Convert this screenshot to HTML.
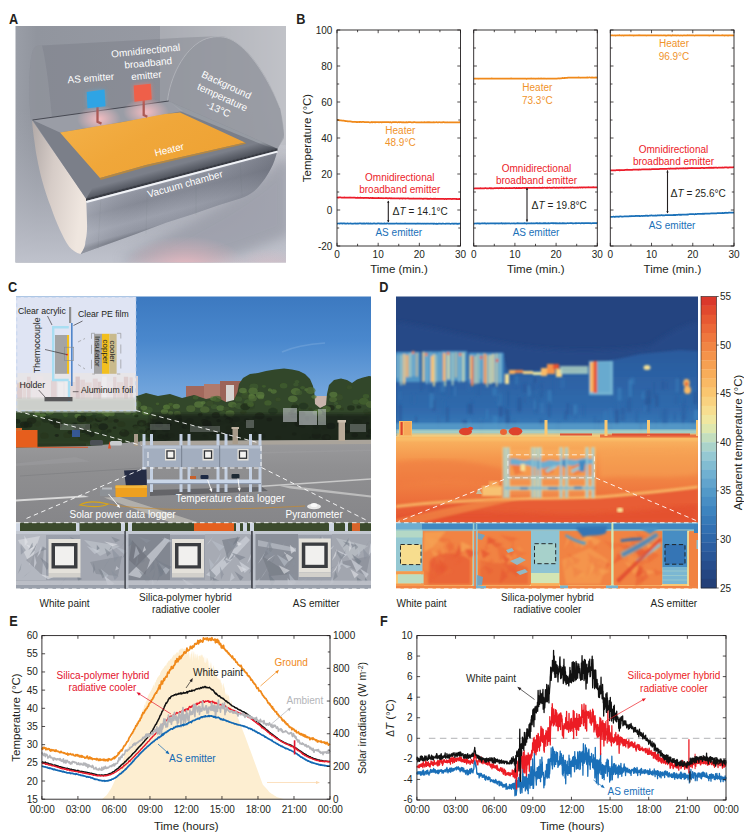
<!DOCTYPE html>
<html><head><meta charset="utf-8"><title>Figure</title><style>
html,body{margin:0;padding:0;background:#fff;}
body{width:744px;height:836px;overflow:hidden;}
svg{display:block;}
text{font-family:"Liberation Sans",sans-serif;}
.t{font-size:10px;fill:#231f20;}
.a{font-size:11.5px;fill:#231f20;}
.l{font-size:10px;}
.w{font-size:10px;fill:#fff;}
.p{font-size:15.5px;font-weight:bold;fill:#231f20;}
</style></head><body>
<svg width="744" height="836" viewBox="0 0 744 836">
<rect width="744" height="836" fill="#fff"/>
<g id="A">
<defs>
<clipPath id="cA"><rect x="15.5" y="26" width="270.5" height="236.5"/></clipPath>
<linearGradient id="aBg" x1="0" y1="0" x2="1" y2="0"><stop offset="0" stop-color="#9a9ea7"/><stop offset="0.08" stop-color="#91959e"/><stop offset="0.55" stop-color="#979aa3"/><stop offset="0.8" stop-color="#b3b5bc"/><stop offset="1" stop-color="#c9cad0"/></linearGradient>
<linearGradient id="aFl" x1="0" y1="0" x2="0" y2="1"><stop offset="0" stop-color="#a9acb6" stop-opacity="0"/><stop offset="1" stop-color="#bfc2cc"/></linearGradient>
<linearGradient id="aBody" gradientUnits="userSpaceOnUse" x1="180" y1="175" x2="192" y2="221"><stop offset="0" stop-color="#b4b8c3"/><stop offset="0.1" stop-color="#9195a1"/><stop offset="0.35" stop-color="#858995"/><stop offset="0.7" stop-color="#9ca0ac"/><stop offset="0.9" stop-color="#9195a1"/><stop offset="1" stop-color="#70747f"/></linearGradient>
<linearGradient id="aBody2" gradientUnits="userSpaceOnUse" x1="86" y1="0" x2="278" y2="0"><stop offset="0" stop-color="#c8ccd6" stop-opacity="0.35"/><stop offset="0.3" stop-color="#9a9eaa" stop-opacity="0"/><stop offset="1" stop-color="#4d515c" stop-opacity="0.4"/></linearGradient>
<linearGradient id="aCap" x1="0" y1="0" x2="1" y2="0.3"><stop offset="0" stop-color="#b1a9a7"/><stop offset="0.45" stop-color="#d6ccc7"/><stop offset="1" stop-color="#efe6df"/></linearGradient>
<linearGradient id="aHeat" x1="0" y1="0" x2="1" y2="0.6"><stop offset="0" stop-color="#f4b24a"/><stop offset="0.5" stop-color="#f0a73a"/><stop offset="1" stop-color="#eea233"/></linearGradient>
<linearGradient id="aFront" gradientUnits="userSpaceOnUse" x1="180" y1="164" x2="183" y2="175"><stop offset="0" stop-color="#40444d" stop-opacity="0"/><stop offset="1" stop-color="#40444d" stop-opacity="0.85"/></linearGradient>
<radialGradient id="aPink" cx="0.5" cy="0.5" r="0.5"><stop offset="0" stop-color="#ffc0c4" stop-opacity="0.9"/><stop offset="1" stop-color="#ffc0c4" stop-opacity="0"/></radialGradient>
<radialGradient id="aPink2" cx="0.5" cy="0.5" r="0.5"><stop offset="0" stop-color="#f5b9c0" stop-opacity="0.75"/><stop offset="1" stop-color="#f5b9c0" stop-opacity="0"/></radialGradient>
<filter id="aBl2" x="-20%" y="-20%" width="140%" height="140%"><feGaussianBlur stdDeviation="2"/></filter>
<filter id="aBl5" x="-20%" y="-20%" width="140%" height="140%"><feGaussianBlur stdDeviation="6"/></filter>
</defs>
<g clip-path="url(#cA)">
<rect x="15" y="25" width="272" height="238" fill="url(#aBg)"/>
<rect x="15" y="110" width="272" height="153" fill="url(#aFl)"/>
<rect x="160" y="25" width="130" height="120" fill="#b9bbc1" opacity="0.55"/>
<path d="M120 262 C150 240 240 205 280 160 L290 160 L290 235 C250 250 220 262 200 262Z" fill="#8f929e" opacity="0.6" filter="url(#aBl5)"/>
<ellipse cx="185" cy="266" rx="62" ry="30" fill="url(#aPink2)"/><ellipse cx="270" cy="268" rx="40" ry="20" fill="url(#aPink2)" opacity="0.5"/>
<path d="M31 120 C28 95 29 62 33 50 C35 46 38 45.5 42 45.5 L186 37.5 L222 36 C245 40 268 75 280 108 L284 135 L277.5 149 L168.7 101Z" fill="#6d717a" opacity="0.3"/>
<path d="M167.5 101 C170 78 183 50 203 40 C212 36 222 35.5 230 39 C250 48 270 82 280 108 C283 120 284 130 284 138 L277.5 149Z" fill="#93969e"opacity="0.6"/>
<path d="M167.5 101 C170 78 183 50 203 40 C212 36 222 35.5 230 39 C250 48 270 82 280 108" fill="none" stroke="#c3c5cb" stroke-width="0.8" opacity="0.7"/>
<path d="M31 120 C28 95 29 62 33 50 C35 46 38 45.5 42 45.5 C46 60 50 95 52 118Z" fill="#a0a3ab" opacity="0.35"/>
<path d="M86.2 198.7 L277.5 149.5 L277.3 151 C275.5 158 273.5 164 270.8 168.7 C268.5 173 266 177.5 262.8 181.6 C260 185.5 257 189 253 192 C249 195 245 197 240.2 198.5 L219.2 205 L193.4 213.9 L166 222.7 L136 234 L80.5 254 C84 249 85.5 245 85.3 242 C87 235 87.3 228 87 222.6 Z" fill="url(#aBody)"/>
<path d="M86.2 198.7 L277.5 149.5 L277.3 151 C275.5 158 273.5 164 270.8 168.7 C268.5 173 266 177.5 262.8 181.6 C260 185.5 257 189 253 192 C249 195 245 197 240.2 198.5 L219.2 205 L193.4 213.9 L166 222.7 L136 234 L80.5 254 C84 249 85.5 245 85.3 242 C87 235 87.3 228 87 222.6 Z" fill="url(#aBody2)"/>
<path d="M101 195.5 L98 249 M147.5 183.5 L146 233.5 M196 171 L196 215 M240 159.5 L242 196" stroke="#5c606a" stroke-width="0.8" opacity="0.1" fill="none"/>
<path d="M32 120.3 C32.5 128 33.5 135 34.5 142 C35.3 148 36 153 37 158 C38.5 166 40.3 174 42.6 182.3 C44.8 190 47.5 198.5 50.7 206.5 C53.3 214 56.3 222 59.5 229 C62.3 235 65.5 241.5 69.2 246.8 C72.5 250.5 76 253 80.5 254 C84 249 85.5 245 85.3 242 C87 235 87.3 228 87 222.6 L86.2 198.5 Z" fill="url(#aCap)"/>
<path d="M32.5 120 L168.7 101 L277.5 148.7 L86 198.7 Z" fill="#7b7f89"/>
<path d="M32.5 120 L168.7 101 L183 111 L128 121 L60 132.5Z" fill="#a4a7b0" opacity="0.75"/>
<path d="M168.7 101 L277.5 148.7 L266 146 L181 111.5Z" fill="#a3a6ae" opacity="0.7"/>
<path d="M32.5 120 L168.7 101" stroke="#3e4149" stroke-width="0.9" fill="none"/>
<path d="M86.2 198.7 L277.5 148.7 L262 142 L93 187Z" fill="url(#aFront)"/>
<path d="M86 198.4 L277.5 148.4 L277.5 150.6 L86 201Z" fill="#393c44"/>
<path d="M86.3 202 L277.5 151.6" stroke="#f2f4f8" stroke-width="2" fill="none"/>
<ellipse cx="99" cy="119" rx="22" ry="14" fill="url(#aPink)"/>
<ellipse cx="146" cy="112" rx="23" ry="14" fill="url(#aPink)"/>
<path d="M60 132.5 L120 122.5 L128 121 L165 114 L180 112.5 L245 142.5 L146 165 L100 178 Z" fill="url(#aHeat)"/>
<path d="M100 178 L146 165 L245 142.5 L246 143.8 L147 166.8 L100.5 180Z" fill="#c98a2a" opacity="0.7"/>
<path d="M97.5 107 L97.5 121.8 L101.5 123.6" stroke="#ad5a55" stroke-width="2.3" fill="none"/>
<path d="M143.7 100 L143.7 115 L147.3 116.8" stroke="#ad5a55" stroke-width="2.3" fill="none"/>
<path d="M86.7 92 L104.5 89.5 L105.5 106.2 L87.5 108.2Z" fill="#46b4f0" opacity="0.55" filter="url(#aBl2)"/>
<path d="M86.7 92 L104.5 89.5 L105.5 106.2 L87.5 108.2Z" fill="#2fa4e4"/>
<path d="M133.7 85.5 L150.7 83.7 L151.7 99.5 L134.5 101.7Z" fill="#ff7a66" opacity="0.7" filter="url(#aBl2)"/>
<path d="M133.7 85.5 L150.7 83.7 L151.7 99.5 L134.5 101.7Z" fill="#ef5f49"/>
<text class="w" text-anchor="middle" transform="translate(91 81.5) rotate(-4.5)">AS emitter</text>
<text class="w" text-anchor="middle" transform="translate(146 54) rotate(-5.8)">Omnidirectional</text>
<text class="w" text-anchor="middle" transform="translate(148.5 66.3) rotate(-5.3)">broadband</text>
<text class="w" text-anchor="middle" transform="translate(146.7 78.8) rotate(-5.3)">emitter</text>
<text class="w" text-anchor="middle" transform="translate(225 88) rotate(25)">Background</text>
<text class="w" text-anchor="middle" transform="translate(221 100.3) rotate(24.5)">temperature</text>
<text class="w" text-anchor="middle" transform="translate(217 112.3) rotate(24)">-13°C</text>
<text class="w" text-anchor="middle" transform="translate(170 153) rotate(-13.5)">Heater</text>
<text class="w" text-anchor="middle" transform="translate(186 187.3) rotate(-15.5)">Vacuum chamber</text>
</g></g>
<g id="B">
<polyline points="337,119.99 337.67,119.97 338.34,120.24 339,120.14 339.67,120.33 340.34,120.41 341.01,120.3 341.67,120.53 342.34,120.63 343.01,120.63 343.68,120.67 344.34,120.85 345.01,120.86 345.68,121.07 346.35,121.09 347.01,121.16 347.68,121.31 348.35,121.4 349.02,121.48 349.68,121.42 350.35,121.49 351.02,121.57 351.69,121.61 352.35,121.8 353.02,121.76 353.69,121.78 354.36,121.75 355.02,121.91 355.69,121.88 356.36,122.04 357.03,121.92 357.69,122.09 358.36,122.03 359.03,121.82 359.7,122.13 360.36,121.88 361.03,121.94 361.7,122.01 362.37,121.95 363.04,121.96 363.7,121.93 364.37,122.06 365.04,122.11 365.71,122.12 366.37,122.17 367.04,122.1 367.71,122.18 368.38,122.03 369.04,122.31 369.71,122.25 370.38,122.25 371.05,122.35 371.71,121.99 372.38,122.38 373.05,122.19 373.72,122.21 374.38,122.02 375.05,122.35 375.72,122.08 376.39,122.24 377.05,122.19 377.72,122.24 378.39,122.12 379.06,122.28 379.72,122.19 380.39,122.15 381.06,122.02 381.73,122.4 382.39,122.05 383.06,122.1 383.73,122.23 384.4,122.16 385.06,122.23 385.73,122.04 386.4,122.17 387.07,122.21 387.74,122.22 388.4,122.21 389.07,122.21 389.74,122.28 390.41,122.02 391.07,122.37 391.74,122.53 392.41,122.22 393.08,122.22 393.74,122.17 394.41,122.23 395.08,122.22 395.75,122.18 396.41,122.13 397.08,122.25 397.75,122.25 398.42,122.04 399.08,122.17 399.75,122.31 400.42,122.01 401.09,122.15 401.75,122.28 402.42,122.33 403.09,122.2 403.76,122.3 404.42,122.32 405.09,122.35 405.76,122.28 406.43,122.13 407.09,122.27 407.76,122.37 408.43,122.18 409.1,122.23 409.76,122.16 410.43,122.13 411.1,122.26 411.77,122.26 412.44,122.25 413.1,122.35 413.77,122.19 414.44,122.12 415.11,122.23 415.77,122.27 416.44,122.28 417.11,122.32 417.78,122.33 418.44,122.29 419.11,122.33 419.78,122.3 420.45,122.4 421.11,122.23 421.78,122.26 422.45,122.37 423.12,122.47 423.78,122.27 424.45,122.17 425.12,122.34 425.79,122.31 426.45,122.32 427.12,122.21 427.79,122.36 428.46,122.19 429.12,122.3 429.79,122.2 430.46,122.28 431.13,122.3 431.79,122.42 432.46,122.35 433.13,122.31 433.8,122.23 434.46,122.27 435.13,122.35 435.8,122.25 436.47,122.2 437.14,122.31 437.8,122.33 438.47,122.33 439.14,122.22 439.81,122.25 440.47,122.38 441.14,122.27 441.81,122.35 442.48,122.37 443.14,122.19 443.81,122.23 444.48,122.37 445.15,122.3 445.81,122.27 446.48,122.37 447.15,122.32 447.82,122.25 448.48,122.48 449.15,122.29 449.82,122.25 450.49,122.27 451.15,122.44 451.82,122.29 452.49,122.4 453.16,122.27 453.82,122.27 454.49,122.31 455.16,122.4 455.83,122.38 456.49,122.26 457.16,122.41 457.83,122.29 458.5,122.29 459.16,122.36 459.83,122.12 460.5,122.33" fill="none" stroke="#f0891a" stroke-width="1.75" stroke-linejoin="round"/>
<polyline points="337,197.21 337.67,197.59 338.34,197.63 339,197.35 339.67,197.39 340.34,197.49 341.01,197.47 341.67,197.65 342.34,197.55 343.01,197.6 343.68,197.54 344.34,197.45 345.01,197.54 345.68,197.52 346.35,197.63 347.01,197.61 347.68,197.58 348.35,197.62 349.02,197.5 349.68,197.7 350.35,197.46 351.02,197.73 351.69,197.56 352.35,197.74 353.02,197.53 353.69,197.68 354.36,197.67 355.02,197.65 355.69,197.78 356.36,197.83 357.03,197.93 357.69,197.65 358.36,197.84 359.03,197.84 359.7,197.8 360.36,197.63 361.03,197.98 361.7,197.81 362.37,197.88 363.04,197.81 363.7,198.03 364.37,197.91 365.04,197.81 365.71,197.76 366.37,197.77 367.04,198 367.71,197.93 368.38,197.96 369.04,198.08 369.71,198.1 370.38,197.92 371.05,197.97 371.71,198.02 372.38,197.91 373.05,198.12 373.72,197.99 374.38,198.05 375.05,198.07 375.72,198.03 376.39,198.07 377.05,198.08 377.72,198.09 378.39,197.95 379.06,198.16 379.72,198.05 380.39,198.09 381.06,198.19 381.73,198.1 382.39,198.25 383.06,198.08 383.73,198.27 384.4,198.25 385.06,198.18 385.73,198.14 386.4,198.15 387.07,198.16 387.74,198.26 388.4,198.34 389.07,198.21 389.74,198.24 390.41,198.37 391.07,198.2 391.74,198.28 392.41,198.39 393.08,198.28 393.74,198.44 394.41,198.41 395.08,198.31 395.75,198.49 396.41,198.36 397.08,198.49 397.75,198.31 398.42,198.45 399.08,198.38 399.75,198.54 400.42,198.44 401.09,198.34 401.75,198.39 402.42,198.6 403.09,198.36 403.76,198.38 404.42,198.5 405.09,198.35 405.76,198.58 406.43,198.5 407.09,198.4 407.76,198.39 408.43,198.4 409.1,198.62 409.76,198.69 410.43,198.51 411.1,198.68 411.77,198.57 412.44,198.68 413.1,198.48 413.77,198.51 414.44,198.55 415.11,198.6 415.77,198.61 416.44,198.65 417.11,198.6 417.78,198.62 418.44,198.61 419.11,198.7 419.78,198.49 420.45,198.64 421.11,198.55 421.78,198.56 422.45,198.77 423.12,198.84 423.78,198.59 424.45,198.74 425.12,198.7 425.79,198.74 426.45,198.71 427.12,198.84 427.79,198.74 428.46,198.78 429.12,198.75 429.79,198.96 430.46,198.68 431.13,198.73 431.79,198.92 432.46,198.84 433.13,198.78 433.8,198.73 434.46,198.79 435.13,198.67 435.8,198.8 436.47,198.9 437.14,198.88 437.8,198.75 438.47,198.88 439.14,198.76 439.81,198.75 440.47,198.79 441.14,198.76 441.81,198.87 442.48,198.86 443.14,198.92 443.81,198.93 444.48,199.02 445.15,198.94 445.81,198.99 446.48,199.03 447.15,198.89 447.82,198.87 448.48,198.95 449.15,198.8 449.82,198.84 450.49,198.84 451.15,198.99 451.82,199.08 452.49,198.9 453.16,198.93 453.82,198.9 454.49,198.93 455.16,198.86 455.83,199.01 456.49,198.92 457.16,199.07 457.83,199.2 458.5,199.04 459.16,198.87 459.83,199.17 460.5,198.93" fill="none" stroke="#ec1c2a" stroke-width="1.75" stroke-linejoin="round"/>
<polyline points="337,223.56 337.67,223.54 338.34,223.5 339,223.48 339.67,223.59 340.34,223.49 341.01,223.47 341.67,223.43 342.34,223.58 343.01,223.37 343.68,223.34 344.34,223.29 345.01,223.63 345.68,223.5 346.35,223.68 347.01,223.48 347.68,223.47 348.35,223.62 349.02,223.66 349.68,223.5 350.35,223.46 351.02,223.59 351.69,223.54 352.35,223.75 353.02,223.59 353.69,223.51 354.36,223.51 355.02,223.38 355.69,223.63 356.36,223.73 357.03,223.49 357.69,223.58 358.36,223.51 359.03,223.47 359.7,223.48 360.36,223.4 361.03,223.41 361.7,223.69 362.37,223.54 363.04,223.36 363.7,223.58 364.37,223.45 365.04,223.55 365.71,223.58 366.37,223.4 367.04,223.45 367.71,223.57 368.38,223.46 369.04,223.66 369.71,223.61 370.38,223.47 371.05,223.55 371.71,223.65 372.38,223.51 373.05,223.52 373.72,223.44 374.38,223.47 375.05,223.58 375.72,223.6 376.39,223.57 377.05,223.58 377.72,223.43 378.39,223.42 379.06,223.44 379.72,223.53 380.39,223.59 381.06,223.48 381.73,223.6 382.39,223.54 383.06,223.72 383.73,223.61 384.4,223.44 385.06,223.66 385.73,223.71 386.4,223.59 387.07,223.42 387.74,223.44 388.4,223.61 389.07,223.62 389.74,223.59 390.41,223.66 391.07,223.58 391.74,223.61 392.41,223.71 393.08,223.63 393.74,223.61 394.41,223.66 395.08,223.69 395.75,223.5 396.41,223.42 397.08,223.61 397.75,223.63 398.42,223.54 399.08,223.61 399.75,223.66 400.42,223.47 401.09,223.69 401.75,223.66 402.42,223.66 403.09,223.68 403.76,223.62 404.42,223.55 405.09,223.47 405.76,223.54 406.43,223.6 407.09,223.71 407.76,223.61 408.43,223.69 409.1,223.61 409.76,223.52 410.43,223.59 411.1,223.63 411.77,223.68 412.44,223.61 413.1,223.6 413.77,223.7 414.44,223.66 415.11,223.53 415.77,223.76 416.44,223.66 417.11,223.72 417.78,223.48 418.44,223.56 419.11,223.57 419.78,223.58 420.45,223.6 421.11,223.6 421.78,223.77 422.45,223.6 423.12,223.57 423.78,223.76 424.45,223.55 425.12,223.57 425.79,223.77 426.45,223.67 427.12,223.66 427.79,223.68 428.46,223.6 429.12,223.75 429.79,223.66 430.46,223.62 431.13,223.57 431.79,223.63 432.46,223.66 433.13,223.58 433.8,223.82 434.46,223.56 435.13,223.67 435.8,223.76 436.47,223.68 437.14,223.81 437.8,223.83 438.47,223.68 439.14,223.72 439.81,223.58 440.47,223.73 441.14,223.77 441.81,223.74 442.48,223.5 443.14,223.65 443.81,223.71 444.48,223.75 445.15,223.76 445.81,223.67 446.48,223.62 447.15,223.56 447.82,223.56 448.48,223.64 449.15,223.72 449.82,223.74 450.49,223.87 451.15,223.76 451.82,223.63 452.49,223.7 453.16,223.64 453.82,223.79 454.49,223.59 455.16,223.65 455.83,223.67 456.49,223.64 457.16,223.88 457.83,223.73 458.5,223.76 459.16,223.51 459.83,223.7 460.5,223.73" fill="none" stroke="#1a70b8" stroke-width="1.75" stroke-linejoin="round"/>
<rect x="337" y="30" width="123.5" height="216" fill="none" stroke="#231f20" stroke-width="0.9"/>
<path d="M337 246v-3.2 M337 30v3.2 M357.58 246v-2.2 M357.58 30v2.2 M378.17 246v-3.2 M378.17 30v3.2 M398.75 246v-2.2 M398.75 30v2.2 M419.33 246v-3.2 M419.33 30v3.2 M439.92 246v-2.2 M439.92 30v2.2 M460.5 246v-3.2 M460.5 30v3.2 M337 246h3.2 M460.5 246h-3.2 M337 228h2.2 M460.5 228h-2.2 M337 210h3.2 M460.5 210h-3.2 M337 192h2.2 M460.5 192h-2.2 M337 174h3.2 M460.5 174h-3.2 M337 156h2.2 M460.5 156h-2.2 M337 138h3.2 M460.5 138h-3.2 M337 120h2.2 M460.5 120h-2.2 M337 102h3.2 M460.5 102h-3.2 M337 84h2.2 M460.5 84h-2.2 M337 66h3.2 M460.5 66h-3.2 M337 48h2.2 M460.5 48h-2.2 M337 30h3.2 M460.5 30h-3.2 " stroke="#231f20" stroke-width="0.8" fill="none"/>
<text class="t" x="337" y="258.3" text-anchor="middle">0</text><text class="t" x="378.17" y="258.3" text-anchor="middle">10</text><text class="t" x="419.33" y="258.3" text-anchor="middle">20</text><text class="t" x="460.5" y="258.3" text-anchor="middle">30</text><text class="a" x="399.05" y="272.6" text-anchor="middle">Time (min.)</text>
<text class="l" fill="#f0932b" text-anchor="middle"><tspan x="400.3" y="133.5">Heater</tspan><tspan x="400.3" y="145.5">48.9°C</tspan></text>
<text class="l" fill="#ec1c2a" text-anchor="middle"><tspan x="399.8" y="181">Omnidirectional</tspan><tspan x="399.8" y="193.3">broadband emitter</tspan></text>
<text class="l" fill="#1a70b8" text-anchor="middle" x="398.8" y="235.5">AS emitter</text>
<text class="l" fill="#231f20" x="392.5" y="214.8"><tspan font-size="10.5px">Δ</tspan><tspan font-style="italic">T</tspan> = 14.1°C</text>
<path d="M388.3 200.9V222.1" stroke="#231f20" stroke-width="1.1" fill="none"/><path d="M388.3 200.4l-1.1 2.6h2.2z M388.3 222.6l-1.1 -2.6h2.2z" fill="#231f20"/>
<polyline points="473.7,78.52 474.37,78.69 475.04,78.47 475.7,78.66 476.37,78.61 477.04,78.68 477.71,78.53 478.38,78.8 479.04,78.54 479.71,78.67 480.38,78.6 481.05,78.7 481.72,78.58 482.39,78.58 483.05,78.55 483.72,78.57 484.39,78.54 485.06,78.51 485.73,78.64 486.39,78.71 487.06,78.71 487.73,78.54 488.4,78.63 489.07,78.51 489.73,78.6 490.4,78.69 491.07,78.52 491.74,78.43 492.41,78.62 493.08,78.68 493.74,78.68 494.41,78.52 495.08,78.65 495.75,78.64 496.42,78.54 497.08,78.6 497.75,78.59 498.42,78.65 499.09,78.66 499.76,78.59 500.42,78.59 501.09,78.55 501.76,78.64 502.43,78.57 503.1,78.56 503.76,78.59 504.43,78.55 505.1,78.51 505.77,78.58 506.44,78.59 507.11,78.69 507.77,78.57 508.44,78.61 509.11,78.63 509.78,78.67 510.45,78.55 511.11,78.37 511.78,78.56 512.45,78.59 513.12,78.56 513.79,78.65 514.45,78.59 515.12,78.66 515.79,78.66 516.46,78.58 517.13,78.58 517.8,78.61 518.46,78.67 519.13,78.58 519.8,78.7 520.47,78.53 521.14,78.63 521.8,78.6 522.47,78.53 523.14,78.55 523.81,78.72 524.48,78.62 525.14,78.57 525.81,78.7 526.48,78.82 527.15,78.61 527.82,78.6 528.48,78.56 529.15,78.59 529.82,78.59 530.49,78.58 531.16,78.48 531.83,78.56 532.49,78.55 533.16,78.64 533.83,78.5 534.5,78.62 535.17,78.53 535.83,78.79 536.5,78.58 537.17,78.61 537.84,78.64 538.51,78.48 539.17,78.56 539.84,78.61 540.51,78.65 541.18,78.43 541.85,78.53 542.52,78.54 543.18,78.67 543.85,78.48 544.52,78.55 545.19,78.62 545.86,78.61 546.52,78.75 547.19,78.54 547.86,78.7 548.53,78.52 549.2,78.64 549.86,78.66 550.53,78.57 551.2,78.58 551.87,78.7 552.54,78.61 553.2,78.55 553.87,78.62 554.54,78.72 555.21,78.62 555.88,78.69 556.55,78.62 557.21,78.51 557.88,78.48 558.55,78.44 559.22,78.52 559.89,78.29 560.55,78.29 561.22,78.26 561.89,78.16 562.56,77.96 563.23,78.2 563.89,78.18 564.56,77.92 565.23,78.01 565.9,77.77 566.57,77.93 567.24,77.83 567.9,77.67 568.57,77.62 569.24,77.66 569.91,77.65 570.58,77.7 571.24,77.72 571.91,77.7 572.58,77.56 573.25,77.61 573.92,77.66 574.58,77.63 575.25,77.58 575.92,77.55 576.59,77.66 577.26,77.65 577.92,77.61 578.59,77.4 579.26,77.61 579.93,77.51 580.6,77.76 581.27,77.54 581.93,77.74 582.6,77.71 583.27,77.66 583.94,77.62 584.61,77.58 585.27,77.56 585.94,77.57 586.61,77.63 587.28,77.35 587.95,77.54 588.61,77.51 589.28,77.39 589.95,77.48 590.62,77.51 591.29,77.53 591.96,77.39 592.62,77.65 593.29,77.63 593.96,77.53 594.63,77.72 595.3,77.6 595.96,77.43 596.63,77.57 597.3,77.51" fill="none" stroke="#f0891a" stroke-width="1.75" stroke-linejoin="round"/>
<polyline points="473.7,188.34 474.37,188.5 475.04,188.36 475.7,188.44 476.37,188.47 477.04,188.4 477.71,188.37 478.38,188.39 479.04,188.41 479.71,188.26 480.38,188.24 481.05,188.29 481.72,188.34 482.39,188.42 483.05,188.39 483.72,188.41 484.39,188.29 485.06,188.22 485.73,188.21 486.39,188.29 487.06,188.32 487.73,188.26 488.4,188.26 489.07,188.21 489.73,188.13 490.4,188.31 491.07,188.06 491.74,188.43 492.41,188.4 493.08,188.37 493.74,188.32 494.41,188.24 495.08,188.03 495.75,188.27 496.42,188.1 497.08,188.23 497.75,188.18 498.42,188.28 499.09,187.98 499.76,188.18 500.42,188.22 501.09,187.96 501.76,188.14 502.43,188.11 503.1,188.16 503.76,188.21 504.43,188.26 505.1,188.14 505.77,187.98 506.44,188.08 507.11,188.12 507.77,188.01 508.44,188.18 509.11,187.97 509.78,188.09 510.45,188.15 511.11,188.01 511.78,188.02 512.45,188.09 513.12,188.04 513.79,187.96 514.45,187.92 515.12,188.11 515.79,188.27 516.46,187.84 517.13,188.04 517.8,188.05 518.46,187.97 519.13,188.04 519.8,187.9 520.47,188.1 521.14,188 521.8,188.09 522.47,187.84 523.14,187.99 523.81,187.86 524.48,187.83 525.14,188.06 525.81,187.96 526.48,187.87 527.15,187.93 527.82,187.94 528.48,187.85 529.15,187.83 529.82,187.96 530.49,187.92 531.16,187.84 531.83,187.87 532.49,187.87 533.16,187.98 533.83,187.72 534.5,187.89 535.17,187.84 535.83,187.86 536.5,187.85 537.17,187.83 537.84,187.91 538.51,187.8 539.17,187.72 539.84,187.79 540.51,187.75 541.18,187.77 541.85,187.8 542.52,187.64 543.18,187.85 543.85,187.75 544.52,187.69 545.19,187.75 545.86,187.86 546.52,187.86 547.19,187.62 547.86,187.84 548.53,187.75 549.2,187.69 549.86,187.73 550.53,187.89 551.2,187.89 551.87,187.73 552.54,187.78 553.2,187.73 553.87,187.69 554.54,187.68 555.21,187.81 555.88,187.83 556.55,187.59 557.21,187.73 557.88,187.77 558.55,187.84 559.22,187.6 559.89,187.76 560.55,187.73 561.22,187.58 561.89,187.6 562.56,187.57 563.23,187.73 563.89,187.87 564.56,187.69 565.23,187.63 565.9,187.65 566.57,187.51 567.24,187.55 567.9,187.67 568.57,187.52 569.24,187.58 569.91,187.6 570.58,187.45 571.24,187.7 571.91,187.45 572.58,187.44 573.25,187.71 573.92,187.54 574.58,187.53 575.25,187.61 575.92,187.56 576.59,187.57 577.26,187.49 577.92,187.54 578.59,187.68 579.26,187.37 579.93,187.39 580.6,187.54 581.27,187.38 581.93,187.27 582.6,187.59 583.27,187.48 583.94,187.48 584.61,187.38 585.27,187.45 585.94,187.54 586.61,187.3 587.28,187.44 587.95,187.34 588.61,187.19 589.28,187.46 589.95,187.42 590.62,187.3 591.29,187.38 591.96,187.32 592.62,187.36 593.29,187.1 593.96,187.29 594.63,187.31 595.3,187.33 595.96,187.3 596.63,187.47 597.3,187.34" fill="none" stroke="#ec1c2a" stroke-width="1.75" stroke-linejoin="round"/>
<polyline points="473.7,223.43 474.37,223.61 475.04,223.49 475.7,223.5 476.37,223.54 477.04,223.27 477.71,223.42 478.38,223.46 479.04,223.56 479.71,223.47 480.38,223.51 481.05,223.49 481.72,223.46 482.39,223.25 483.05,223.35 483.72,223.32 484.39,223.35 485.06,223.21 485.73,223.52 486.39,223.58 487.06,223.44 487.73,223.44 488.4,223.45 489.07,223.51 489.73,223.39 490.4,223.3 491.07,223.43 491.74,223.47 492.41,223.34 493.08,223.47 493.74,223.47 494.41,223.41 495.08,223.64 495.75,223.27 496.42,223.44 497.08,223.39 497.75,223.4 498.42,223.39 499.09,223.55 499.76,223.26 500.42,223.37 501.09,223.39 501.76,223.13 502.43,223.53 503.1,223.35 503.76,223.42 504.43,223.55 505.1,223.23 505.77,223.55 506.44,223.39 507.11,223.41 507.77,223.38 508.44,223.48 509.11,223.27 509.78,223.37 510.45,223.51 511.11,223.5 511.78,223.36 512.45,223.49 513.12,223.35 513.79,223.35 514.45,223.43 515.12,223.55 515.79,223.49 516.46,223.34 517.13,223.42 517.8,223.2 518.46,223.41 519.13,223.33 519.8,223.3 520.47,223.36 521.14,223.33 521.8,223.27 522.47,223.37 523.14,223.33 523.81,223.39 524.48,223.17 525.14,223.33 525.81,223.27 526.48,223.61 527.15,223.39 527.82,223.44 528.48,223.34 529.15,223.38 529.82,223.43 530.49,223.36 531.16,223.26 531.83,223.23 532.49,223.38 533.16,223.23 533.83,223.38 534.5,223.27 535.17,223.4 535.83,223.22 536.5,223.11 537.17,223.34 537.84,223.2 538.51,223.44 539.17,223.37 539.84,223.07 540.51,223.31 541.18,223.26 541.85,223.45 542.52,223.3 543.18,223.37 543.85,223.19 544.52,223.34 545.19,223.06 545.86,223.39 546.52,223.26 547.19,223.47 547.86,223.32 548.53,223.17 549.2,223.29 549.86,223.39 550.53,223.23 551.2,223.19 551.87,223.23 552.54,223.18 553.2,223.4 553.87,223.1 554.54,223.2 555.21,223.45 555.88,223.09 556.55,223.3 557.21,223.21 557.88,223.43 558.55,223.31 559.22,223.42 559.89,223.17 560.55,223.27 561.22,223.33 561.89,223.28 562.56,223.14 563.23,223.31 563.89,223.19 564.56,223.34 565.23,223.38 565.9,223.28 566.57,223.26 567.24,223.21 567.9,223.14 568.57,223.26 569.24,223.25 569.91,223.15 570.58,223.18 571.24,223.22 571.91,223.19 572.58,223.41 573.25,223.26 573.92,223.35 574.58,223.24 575.25,223.12 575.92,223.35 576.59,223.12 577.26,223.25 577.92,223.22 578.59,223.24 579.26,223.13 579.93,223.25 580.6,223.38 581.27,223.16 581.93,223.2 582.6,223.13 583.27,223.13 583.94,223.29 584.61,223.16 585.27,223.16 585.94,223.18 586.61,223.16 587.28,223.14 587.95,223.22 588.61,223.18 589.28,223.08 589.95,223.26 590.62,223.17 591.29,223.25 591.96,223.25 592.62,223.19 593.29,223.14 593.96,223.01 594.63,223.17 595.3,223.06 595.96,223.1 596.63,223.14 597.3,223.42" fill="none" stroke="#1a70b8" stroke-width="1.75" stroke-linejoin="round"/>
<rect x="473.7" y="30" width="123.6" height="216" fill="none" stroke="#231f20" stroke-width="0.9"/>
<path d="M473.7 246v-3.2 M473.7 30v3.2 M494.3 246v-2.2 M494.3 30v2.2 M514.9 246v-3.2 M514.9 30v3.2 M535.5 246v-2.2 M535.5 30v2.2 M556.1 246v-3.2 M556.1 30v3.2 M576.7 246v-2.2 M576.7 30v2.2 M597.3 246v-3.2 M597.3 30v3.2 M473.7 246h3.2 M597.3 246h-3.2 M473.7 228h2.2 M597.3 228h-2.2 M473.7 210h3.2 M597.3 210h-3.2 M473.7 192h2.2 M597.3 192h-2.2 M473.7 174h3.2 M597.3 174h-3.2 M473.7 156h2.2 M597.3 156h-2.2 M473.7 138h3.2 M597.3 138h-3.2 M473.7 120h2.2 M597.3 120h-2.2 M473.7 102h3.2 M597.3 102h-3.2 M473.7 84h2.2 M597.3 84h-2.2 M473.7 66h3.2 M597.3 66h-3.2 M473.7 48h2.2 M597.3 48h-2.2 M473.7 30h3.2 M597.3 30h-3.2 " stroke="#231f20" stroke-width="0.8" fill="none"/>
<text class="t" x="473.7" y="258.3" text-anchor="middle">0</text><text class="t" x="514.9" y="258.3" text-anchor="middle">10</text><text class="t" x="556.1" y="258.3" text-anchor="middle">20</text><text class="t" x="597.3" y="258.3" text-anchor="middle">30</text><text class="a" x="535.8" y="272.6" text-anchor="middle">Time (min.)</text>
<text class="l" fill="#f0932b" text-anchor="middle"><tspan x="537.3" y="91">Heater</tspan><tspan x="537.3" y="104">73.3°C</tspan></text>
<text class="l" fill="#ec1c2a" text-anchor="middle"><tspan x="536.5" y="171.5">Omnidirectional</tspan><tspan x="536.5" y="183.7">broadband emitter</tspan></text>
<text class="l" fill="#1a70b8" text-anchor="middle" x="536" y="236">AS emitter</text>
<text class="l" fill="#231f20" x="531.5" y="209"><tspan font-size="10.5px">Δ</tspan><tspan font-style="italic">T</tspan> = 19.8°C</text>
<path d="M527 188V221.5" stroke="#231f20" stroke-width="1.1" fill="none"/><path d="M527 187.5l-1.1 2.6h2.2z M527 222l-1.1 -2.6h2.2z" fill="#231f20"/>
<polyline points="610.3,35.39 610.97,35.39 611.64,35.49 612.31,35.39 612.97,35.27 613.64,35.5 614.31,35.45 614.98,35.32 615.65,35.56 616.32,35.49 616.99,35.37 617.66,35.31 618.32,35.29 618.99,35.33 619.66,35.19 620.33,35.37 621,35.52 621.67,35.42 622.34,35.34 623,35.37 623.67,35.57 624.34,35.37 625.01,35.47 625.68,35.42 626.35,35.27 627.02,35.41 627.68,35.46 628.35,35.41 629.02,35.46 629.69,35.22 630.36,35.33 631.03,35.32 631.7,35.46 632.37,35.46 633.03,35.38 633.7,35.6 634.37,35.31 635.04,35.51 635.71,35.39 636.38,35.37 637.05,35.47 637.71,35.37 638.38,35.34 639.05,35.23 639.72,35.36 640.39,35.24 641.06,35.36 641.73,35.42 642.4,35.32 643.06,35.45 643.73,35.39 644.4,35.34 645.07,35.3 645.74,35.38 646.41,35.53 647.08,35.28 647.74,35.38 648.41,35.43 649.08,35.47 649.75,35.35 650.42,35.37 651.09,35.34 651.76,35.41 652.42,35.26 653.09,35.42 653.76,35.36 654.43,35.38 655.1,35.3 655.77,35.46 656.44,35.43 657.11,35.42 657.77,35.46 658.44,35.46 659.11,35.51 659.78,35.33 660.45,35.27 661.12,35.49 661.79,35.33 662.45,35.5 663.12,35.47 663.79,35.43 664.46,35.39 665.13,35.36 665.8,35.57 666.47,35.52 667.14,35.39 667.8,35.42 668.47,35.21 669.14,35.43 669.81,35.46 670.48,35.29 671.15,35.64 671.82,35.57 672.48,35.16 673.15,35.46 673.82,35.39 674.49,35.42 675.16,35.48 675.83,35.41 676.5,35.52 677.16,35.31 677.83,35.33 678.5,35.34 679.17,35.48 679.84,35.57 680.51,35.44 681.18,35.5 681.85,35.37 682.51,35.55 683.18,35.48 683.85,35.39 684.52,35.36 685.19,35.39 685.86,35.51 686.53,35.46 687.19,35.22 687.86,35.32 688.53,35.47 689.2,35.23 689.87,35.41 690.54,35.4 691.21,35.47 691.88,35.26 692.54,35.39 693.21,35.41 693.88,35.48 694.55,35.52 695.22,35.38 695.89,35.4 696.56,35.26 697.22,35.48 697.89,35.43 698.56,35.31 699.23,35.33 699.9,35.46 700.57,35.27 701.24,35.36 701.9,35.32 702.57,35.37 703.24,35.31 703.91,35.44 704.58,35.42 705.25,35.3 705.92,35.37 706.59,35.37 707.25,35.3 707.92,35.38 708.59,35.36 709.26,35.6 709.93,35.45 710.6,35.33 711.27,35.48 711.93,35.43 712.6,35.38 713.27,35.41 713.94,35.32 714.61,35.36 715.28,35.42 715.95,35.3 716.62,35.43 717.28,35.46 717.95,35.37 718.62,35.34 719.29,35.41 719.96,35.5 720.63,35.45 721.3,35.38 721.96,35.34 722.63,35.24 723.3,35.41 723.97,35.42 724.64,35.59 725.31,35.29 725.98,35.32 726.64,35.4 727.31,35.46 727.98,35.63 728.65,35.34 729.32,35.47 729.99,35.26 730.66,35.33 731.33,35.28 731.99,35.41 732.66,35.29 733.33,35.53 734,35.27" fill="none" stroke="#f0891a" stroke-width="1.75" stroke-linejoin="round"/>
<polyline points="610.3,170.4 610.97,170.49 611.64,170.4 612.31,170.43 612.97,170.3 613.64,170.37 614.31,170.4 614.98,170.3 615.65,170.27 616.32,170.21 616.99,170.14 617.66,170.07 618.32,170.13 618.99,170 619.66,170.35 620.33,170.11 621,170 621.67,170.19 622.34,170.07 623,170.01 623.67,170.15 624.34,170.04 625.01,169.92 625.68,169.98 626.35,169.8 627.02,169.7 627.68,169.9 628.35,169.98 629.02,169.86 629.69,169.89 630.36,169.94 631.03,169.83 631.7,169.82 632.37,169.79 633.03,169.66 633.7,169.62 634.37,169.66 635.04,169.71 635.71,169.62 636.38,169.64 637.05,169.6 637.71,169.69 638.38,169.86 639.05,169.48 639.72,169.6 640.39,169.57 641.06,169.51 641.73,169.49 642.4,169.49 643.06,169.31 643.73,169.42 644.4,169.39 645.07,169.47 645.74,169.38 646.41,169.31 647.08,169.34 647.74,169.28 648.41,169.38 649.08,169.24 649.75,169.34 650.42,169.27 651.09,169.28 651.76,169.18 652.42,169.08 653.09,169.13 653.76,169.21 654.43,169.1 655.1,169 655.77,169.01 656.44,169.01 657.11,169.14 657.77,169.07 658.44,169.06 659.11,169.02 659.78,168.94 660.45,168.94 661.12,168.95 661.79,168.85 662.45,168.95 663.12,168.89 663.79,168.83 664.46,168.95 665.13,168.88 665.8,168.91 666.47,168.86 667.14,168.76 667.8,168.74 668.47,168.68 669.14,168.66 669.81,168.77 670.48,168.48 671.15,168.51 671.82,168.72 672.48,168.66 673.15,168.62 673.82,168.55 674.49,168.5 675.16,168.54 675.83,168.75 676.5,168.26 677.16,168.42 677.83,168.41 678.5,168.54 679.17,168.45 679.84,168.36 680.51,168.47 681.18,168.31 681.85,168.4 682.51,168.25 683.18,168.37 683.85,168.23 684.52,168.49 685.19,168.21 685.86,168.28 686.53,168.34 687.19,168.2 687.86,168.3 688.53,168.19 689.2,168.17 689.87,168.15 690.54,168.03 691.21,168.09 691.88,167.97 692.54,168.12 693.21,168.16 693.88,168.12 694.55,168.15 695.22,168.24 695.89,168.1 696.56,168.21 697.22,168.11 697.89,168.1 698.56,168.11 699.23,168.14 699.9,168.02 700.57,168.02 701.24,167.88 701.9,167.94 702.57,167.9 703.24,168.01 703.91,167.98 704.58,168.05 705.25,168 705.92,167.85 706.59,167.92 707.25,167.9 707.92,167.92 708.59,167.72 709.26,167.85 709.93,167.73 710.6,167.82 711.27,167.72 711.93,167.88 712.6,167.9 713.27,167.66 713.94,167.78 714.61,167.71 715.28,167.64 715.95,167.65 716.62,167.67 717.28,167.79 717.95,167.73 718.62,167.65 719.29,167.58 719.96,167.58 720.63,167.58 721.3,167.67 721.96,167.59 722.63,167.49 723.3,167.64 723.97,167.6 724.64,167.45 725.31,167.38 725.98,167.47 726.64,167.49 727.31,167.56 727.98,167.47 728.65,167.52 729.32,167.42 729.99,167.36 730.66,167.37 731.33,167.28 731.99,167.47 732.66,167.48 733.33,167.23 734,167.25" fill="none" stroke="#ec1c2a" stroke-width="1.75" stroke-linejoin="round"/>
<polyline points="610.3,216.93 610.97,216.81 611.64,216.9 612.31,216.78 612.97,216.73 613.64,216.66 614.31,216.81 614.98,216.82 615.65,216.63 616.32,216.69 616.99,216.52 617.66,216.73 618.32,216.66 618.99,216.83 619.66,216.47 620.33,216.43 621,216.49 621.67,216.54 622.34,216.67 623,216.59 623.67,216.5 624.34,216.26 625.01,216.33 625.68,216.45 626.35,216.33 627.02,216.3 627.68,216.29 628.35,216.4 629.02,216.33 629.69,216.19 630.36,216.19 631.03,216.27 631.7,216 632.37,216.17 633.03,216.21 633.7,216.08 634.37,216.07 635.04,216.13 635.71,215.94 636.38,215.98 637.05,216.06 637.71,215.98 638.38,215.96 639.05,216.03 639.72,215.92 640.39,216.01 641.06,215.97 641.73,215.87 642.4,216.02 643.06,215.92 643.73,215.95 644.4,215.78 645.07,215.88 645.74,215.64 646.41,215.65 647.08,215.83 647.74,215.74 648.41,215.76 649.08,215.71 649.75,215.63 650.42,215.54 651.09,215.46 651.76,215.47 652.42,215.73 653.09,215.64 653.76,215.59 654.43,215.58 655.1,215.52 655.77,215.46 656.44,215.54 657.11,215.53 657.77,215.25 658.44,215.38 659.11,215.23 659.78,215.45 660.45,215.26 661.12,215.21 661.79,215.22 662.45,215.39 663.12,215.25 663.79,215.35 664.46,215.36 665.13,215.24 665.8,215.18 666.47,215.22 667.14,215.2 667.8,215.11 668.47,215.21 669.14,215.09 669.81,215.04 670.48,215.03 671.15,215.02 671.82,215.14 672.48,215.05 673.15,215.04 673.82,214.91 674.49,215.1 675.16,214.9 675.83,215.03 676.5,214.8 677.16,214.88 677.83,214.8 678.5,214.7 679.17,214.6 679.84,214.81 680.51,214.69 681.18,214.85 681.85,214.66 682.51,214.68 683.18,214.53 683.85,214.57 684.52,214.53 685.19,214.61 685.86,214.51 686.53,214.55 687.19,214.42 687.86,214.54 688.53,214.35 689.2,214.25 689.87,214.08 690.54,214.16 691.21,214.14 691.88,214.16 692.54,214.07 693.21,214.18 693.88,214.12 694.55,214.29 695.22,214.14 695.89,213.97 696.56,214.2 697.22,213.99 697.89,213.99 698.56,213.99 699.23,213.91 699.9,213.91 700.57,213.98 701.24,213.86 701.9,213.99 702.57,213.67 703.24,213.77 703.91,213.67 704.58,213.8 705.25,213.53 705.92,213.57 706.59,213.6 707.25,213.59 707.92,213.55 708.59,213.62 709.26,213.54 709.93,213.52 710.6,213.44 711.27,213.31 711.93,213.31 712.6,213.37 713.27,213.31 713.94,213.36 714.61,213.35 715.28,213.43 715.95,213.37 716.62,213.33 717.28,213.21 717.95,213.19 718.62,213.11 719.29,213.02 719.96,213.03 720.63,213.08 721.3,213.08 721.96,213.03 722.63,212.93 723.3,213.04 723.97,213.06 724.64,212.92 725.31,212.78 725.98,212.74 726.64,212.76 727.31,212.96 727.98,212.78 728.65,212.67 729.32,212.61 729.99,212.52 730.66,212.74 731.33,212.6 731.99,212.74 732.66,212.59 733.33,212.58 734,212.45" fill="none" stroke="#1a70b8" stroke-width="1.75" stroke-linejoin="round"/>
<rect x="610.3" y="30" width="123.7" height="216" fill="none" stroke="#231f20" stroke-width="0.9"/>
<path d="M610.3 246v-3.2 M610.3 30v3.2 M630.92 246v-2.2 M630.92 30v2.2 M651.53 246v-3.2 M651.53 30v3.2 M672.15 246v-2.2 M672.15 30v2.2 M692.77 246v-3.2 M692.77 30v3.2 M713.38 246v-2.2 M713.38 30v2.2 M734 246v-3.2 M734 30v3.2 M610.3 246h3.2 M734 246h-3.2 M610.3 228h2.2 M734 228h-2.2 M610.3 210h3.2 M734 210h-3.2 M610.3 192h2.2 M734 192h-2.2 M610.3 174h3.2 M734 174h-3.2 M610.3 156h2.2 M734 156h-2.2 M610.3 138h3.2 M734 138h-3.2 M610.3 120h2.2 M734 120h-2.2 M610.3 102h3.2 M734 102h-3.2 M610.3 84h2.2 M734 84h-2.2 M610.3 66h3.2 M734 66h-3.2 M610.3 48h2.2 M734 48h-2.2 M610.3 30h3.2 M734 30h-3.2 " stroke="#231f20" stroke-width="0.8" fill="none"/>
<text class="t" x="610.3" y="258.3" text-anchor="middle">0</text><text class="t" x="651.53" y="258.3" text-anchor="middle">10</text><text class="t" x="692.77" y="258.3" text-anchor="middle">20</text><text class="t" x="734" y="258.3" text-anchor="middle">30</text><text class="a" x="672.45" y="272.6" text-anchor="middle">Time (min.)</text>
<text class="l" fill="#f0932b" text-anchor="middle"><tspan x="674" y="46.5">Heater</tspan><tspan x="674" y="59.5">96.9°C</tspan></text>
<text class="l" fill="#ec1c2a" text-anchor="middle"><tspan x="673.5" y="152.5">Omnidirectional</tspan><tspan x="673.5" y="164.5">broadband emitter</tspan></text>
<text class="l" fill="#1a70b8" text-anchor="middle" x="672" y="228.5">AS emitter</text>
<text class="l" fill="#231f20" x="670.5" y="197"><tspan font-size="10.5px">Δ</tspan><tspan font-style="italic">T</tspan> = 25.6°C</text>
<path d="M667.5 170.5V213" stroke="#231f20" stroke-width="1.1" fill="none"/><path d="M667.5 170l-1.1 2.6h2.2z M667.5 213.5l-1.1 -2.6h2.2z" fill="#231f20"/>
<text class="t" x="332.4" y="249.5" text-anchor="end">-20</text><text class="t" x="332.4" y="213.5" text-anchor="end">0</text><text class="t" x="332.4" y="177.5" text-anchor="end">20</text><text class="t" x="332.4" y="141.5" text-anchor="end">40</text><text class="t" x="332.4" y="105.5" text-anchor="end">60</text><text class="t" x="332.4" y="69.5" text-anchor="end">80</text><text class="t" x="332.4" y="33.5" text-anchor="end">100</text>
<text class="a" transform="translate(310.7 138) rotate(-90)" text-anchor="middle">Temperature (°C)</text>
</g>
<g id="C">
<defs>
<clipPath id="cC"><rect x="16" y="296.5" width="355" height="226.3"/></clipPath>
<clipPath id="cCs"><rect x="16" y="522.8" width="355" height="66"/></clipPath>
<linearGradient id="cSky" x1="0" y1="0" x2="0" y2="1"><stop offset="0" stop-color="#3c79c0"/><stop offset="0.3" stop-color="#4a88cd"/><stop offset="0.62" stop-color="#6fa3db"/><stop offset="1" stop-color="#86b2e0"/></linearGradient>
<linearGradient id="cGr" x1="0" y1="0" x2="0" y2="1"><stop offset="0" stop-color="#9a9a9c"/><stop offset="0.35" stop-color="#8f8f91"/><stop offset="1" stop-color="#868689"/></linearGradient>
<linearGradient id="cFoil" x1="0" y1="0" x2="0" y2="1"><stop offset="0" stop-color="#9da2ad"/><stop offset="0.5" stop-color="#9499a4"/><stop offset="1" stop-color="#9fa4ae"/></linearGradient>
<filter id="cB1" x="-5%" y="-5%" width="110%" height="110%"><feGaussianBlur stdDeviation="0.7"/></filter>
<filter id="cB2" x="-5%" y="-5%" width="110%" height="110%"><feGaussianBlur stdDeviation="1.6"/></filter>
</defs>
<g clip-path="url(#cC)">
<rect x="16" y="296" width="356" height="150" fill="url(#cSky)"/>
<path d="M282 352 C295 346 310 344 325 343" stroke="#8db6e2" stroke-width="1.5" fill="none" opacity="0.35" filter="url(#cB1)"/>
<g filter="url(#cB1)"><rect x="16" y="376" width="122" height="30" fill="#d9cfd0"/><rect x="186" y="386" width="18" height="24" fill="#a2685c"/><rect x="204" y="384" width="16" height="30" fill="#b07a6c"/><rect x="220" y="381" width="21" height="40" fill="#9c6458"/><rect x="226" y="385" width="8" height="34" fill="#d8d4d2"/><rect x="314" y="396" width="14" height="14" fill="#c9b4ac"/><rect x="328" y="393" width="8" height="16" fill="#a9736a"/><rect x="357" y="392" width="8" height="14" fill="#a9736a"/><rect x="285" y="412" width="40" height="14" fill="#cfd4d8" opacity="0.8"/></g>
<g filter="url(#cB1)"><path d="M16 392 L30 390 L48 393 L70 389 L95 392 L120 394 L137 396 L146 393 L158 396 L170 394 L182 398 L194 395 L206 399 L216 397 L226 402 L234 400 L237.5 392 L239 384 L243 378 L250 374 L258 373 L266 371 L275 369.5 L284 368.5 L292 369.5 L299 371 L305 374 L310 379 L313 386 L314.5 394 L315 404 L320 408 L326 405 L327 394 L329 385 L334 380 L341 378.5 L347 380 L352 383 L357 379.5 L363 377.5 L369 376 L372 376.5 L372 446 L16 448Z" fill="#314629"/><ellipse cx="74.72" cy="424.68" rx="3.35" ry="2.37" fill="#26351f" opacity="0.75"/><ellipse cx="368.34" cy="436.04" rx="2.39" ry="1.7" fill="#182015" opacity="0.75"/><ellipse cx="100.04" cy="411.6" rx="3.7" ry="2.62" fill="#46632f" opacity="0.75"/><ellipse cx="67.59" cy="435.17" rx="4.05" ry="2.87" fill="#2c3f23" opacity="0.75"/><ellipse cx="371.13" cy="431.56" rx="3.8" ry="2.69" fill="#1c2718" opacity="0.75"/><ellipse cx="356.61" cy="421.85" rx="3.9" ry="2.76" fill="#202c1b" opacity="0.75"/><ellipse cx="24.27" cy="405.12" rx="4.42" ry="3.13" fill="#46632f" opacity="0.75"/><ellipse cx="177.31" cy="413.3" rx="3.37" ry="2.39" fill="#4d6b35" opacity="0.75"/><ellipse cx="252.78" cy="428.19" rx="2.04" ry="1.45" fill="#26351f" opacity="0.75"/><ellipse cx="90.25" cy="434.37" rx="4.25" ry="3.01" fill="#182015" opacity="0.75"/><ellipse cx="368.02" cy="413.55" rx="3.61" ry="2.56" fill="#2c3f23" opacity="0.75"/><ellipse cx="87.58" cy="434.11" rx="3.13" ry="2.22" fill="#202c1b" opacity="0.75"/><ellipse cx="355.8" cy="401.86" rx="3.37" ry="2.39" fill="#3f5a30" opacity="0.75"/><ellipse cx="25.55" cy="426.37" rx="5.02" ry="3.55" fill="#2c3f23" opacity="0.75"/><ellipse cx="17.01" cy="421.4" rx="3.49" ry="2.47" fill="#182015" opacity="0.75"/><ellipse cx="232.77" cy="423.83" rx="2.39" ry="1.69" fill="#26351f" opacity="0.75"/><ellipse cx="239.03" cy="406.04" rx="4.27" ry="3.02" fill="#3f5a30" opacity="0.75"/><ellipse cx="103.49" cy="434.88" rx="2.36" ry="1.67" fill="#2c3f23" opacity="0.75"/><ellipse cx="149.46" cy="426.16" rx="4.71" ry="3.34" fill="#26351f" opacity="0.75"/><ellipse cx="160.9" cy="436.69" rx="3.71" ry="2.63" fill="#202c1b" opacity="0.75"/><ellipse cx="190.76" cy="408.64" rx="4.64" ry="3.29" fill="#4d6b35" opacity="0.75"/><ellipse cx="216.01" cy="415.2" rx="4.2" ry="2.98" fill="#1c2718" opacity="0.75"/><ellipse cx="313.97" cy="396.86" rx="2.74" ry="1.94" fill="#557539" opacity="0.75"/><ellipse cx="104.5" cy="432.97" rx="3.89" ry="2.76" fill="#26351f" opacity="0.75"/><ellipse cx="366.11" cy="411.15" rx="2.62" ry="1.85" fill="#2f4327" opacity="0.75"/><ellipse cx="203.12" cy="402.85" rx="2.49" ry="1.76" fill="#5a7a3e" opacity="0.75"/><ellipse cx="146.2" cy="412.26" rx="4.3" ry="3.05" fill="#557539" opacity="0.75"/><ellipse cx="222.89" cy="413.64" rx="3.53" ry="2.5" fill="#3f5a30" opacity="0.75"/><ellipse cx="65.59" cy="415.62" rx="2.21" ry="1.56" fill="#41602f" opacity="0.75"/><ellipse cx="24.37" cy="424.73" rx="4.56" ry="3.23" fill="#182015" opacity="0.75"/><ellipse cx="165.91" cy="428.93" rx="4.43" ry="3.14" fill="#26351f" opacity="0.75"/><ellipse cx="63.54" cy="400.63" rx="1.88" ry="1.33" fill="#557539" opacity="0.75"/><ellipse cx="295.87" cy="384.5" rx="2.71" ry="1.92" fill="#3f5a30" opacity="0.75"/><ellipse cx="207.76" cy="418.06" rx="2.51" ry="1.78" fill="#26351f" opacity="0.75"/><ellipse cx="80.64" cy="409.94" rx="4.21" ry="2.98" fill="#5a7a3e" opacity="0.75"/><ellipse cx="32.44" cy="433.42" rx="4.31" ry="3.05" fill="#1c2718" opacity="0.75"/><ellipse cx="154" cy="416.88" rx="3.64" ry="2.58" fill="#5a7a3e" opacity="0.75"/><ellipse cx="269.29" cy="419.5" rx="2.82" ry="1.99" fill="#1c2718" opacity="0.75"/><ellipse cx="103.12" cy="426.84" rx="5.01" ry="3.55" fill="#182015" opacity="0.75"/><ellipse cx="301.89" cy="414.09" rx="3.57" ry="2.53" fill="#1c2718" opacity="0.75"/><ellipse cx="196.92" cy="436.81" rx="2.8" ry="1.99" fill="#2f4327" opacity="0.75"/><ellipse cx="238.4" cy="398.92" rx="3.8" ry="2.69" fill="#3f5a30" opacity="0.75"/><ellipse cx="363.76" cy="401.27" rx="5.02" ry="3.55" fill="#46632f" opacity="0.75"/><ellipse cx="325" cy="427.55" rx="3.83" ry="2.71" fill="#2c3f23" opacity="0.75"/><ellipse cx="195.8" cy="426.98" rx="4.09" ry="2.89" fill="#2c3f23" opacity="0.75"/><ellipse cx="200.2" cy="414.73" rx="2.53" ry="1.79" fill="#1c2718" opacity="0.75"/><ellipse cx="251.49" cy="396.6" rx="3.71" ry="2.63" fill="#557539" opacity="0.75"/><ellipse cx="273.66" cy="391.49" rx="3.05" ry="2.16" fill="#557539" opacity="0.75"/><ellipse cx="97.09" cy="426.01" rx="1.92" ry="1.36" fill="#26351f" opacity="0.75"/><ellipse cx="191.11" cy="434.03" rx="4.33" ry="3.06" fill="#2f4327" opacity="0.75"/><ellipse cx="241.2" cy="424.55" rx="3.76" ry="2.66" fill="#2f4327" opacity="0.75"/><ellipse cx="109.34" cy="418.87" rx="2.79" ry="1.98" fill="#2c3f23" opacity="0.75"/><ellipse cx="309.64" cy="437.46" rx="1.82" ry="1.29" fill="#202c1b" opacity="0.75"/><ellipse cx="87.92" cy="428.08" rx="2.09" ry="1.48" fill="#26351f" opacity="0.75"/><ellipse cx="44.31" cy="435.76" rx="4.21" ry="2.98" fill="#2c3f23" opacity="0.75"/><ellipse cx="365.95" cy="396.28" rx="3.2" ry="2.27" fill="#41602f" opacity="0.75"/><ellipse cx="135.36" cy="426.26" rx="2.65" ry="1.87" fill="#1c2718" opacity="0.75"/><ellipse cx="130.67" cy="431.82" rx="2.3" ry="1.63" fill="#2f4327" opacity="0.75"/><ellipse cx="196.51" cy="425.5" rx="4.12" ry="2.92" fill="#26351f" opacity="0.75"/><ellipse cx="350.9" cy="408.04" rx="3.8" ry="2.69" fill="#202c1b" opacity="0.75"/><ellipse cx="254.37" cy="417.71" rx="2.12" ry="1.5" fill="#26351f" opacity="0.75"/><ellipse cx="28.24" cy="435.68" rx="4.08" ry="2.89" fill="#1c2718" opacity="0.75"/><ellipse cx="42.66" cy="415.52" rx="3.23" ry="2.29" fill="#557539" opacity="0.75"/><ellipse cx="101.52" cy="418.89" rx="2.11" ry="1.49" fill="#202c1b" opacity="0.75"/><ellipse cx="83.75" cy="399.08" rx="2.34" ry="1.66" fill="#3a5229" opacity="0.75"/><ellipse cx="297.85" cy="412.17" rx="1.96" ry="1.39" fill="#26351f" opacity="0.75"/><ellipse cx="164.5" cy="411.6" rx="3.66" ry="2.59" fill="#5a7a3e" opacity="0.75"/><ellipse cx="316.28" cy="435.75" rx="4.66" ry="3.3" fill="#1c2718" opacity="0.75"/><ellipse cx="250.5" cy="406.04" rx="4.5" ry="3.19" fill="#2f4327" opacity="0.75"/><ellipse cx="83.03" cy="430.33" rx="3.77" ry="2.67" fill="#182015" opacity="0.75"/><ellipse cx="190.94" cy="426.16" rx="2.29" ry="1.63" fill="#26351f" opacity="0.75"/><ellipse cx="141.71" cy="423.23" rx="4.68" ry="3.32" fill="#1c2718" opacity="0.75"/><ellipse cx="253.87" cy="386.72" rx="4.48" ry="3.18" fill="#3f5a30" opacity="0.75"/><ellipse cx="112.07" cy="398.01" rx="3.4" ry="2.41" fill="#41602f" opacity="0.75"/><ellipse cx="296.99" cy="381.78" rx="2.55" ry="1.81" fill="#3f5a30" opacity="0.75"/><ellipse cx="207.73" cy="426.03" rx="4.16" ry="2.95" fill="#182015" opacity="0.75"/><ellipse cx="166.76" cy="407.23" rx="3.43" ry="2.43" fill="#41602f" opacity="0.75"/><ellipse cx="141.41" cy="423.97" rx="2.36" ry="1.67" fill="#2f4327" opacity="0.75"/><ellipse cx="147.18" cy="432.82" rx="3.23" ry="2.29" fill="#1c2718" opacity="0.75"/><ellipse cx="338.67" cy="397.36" rx="4.32" ry="3.06" fill="#3a5229" opacity="0.75"/><ellipse cx="205.84" cy="436.96" rx="3.06" ry="2.17" fill="#2c3f23" opacity="0.75"/><ellipse cx="349.49" cy="387.34" rx="2.94" ry="2.08" fill="#3a5229" opacity="0.75"/><ellipse cx="110.4" cy="411.92" rx="4.23" ry="2.99" fill="#4d6b35" opacity="0.75"/><ellipse cx="347.36" cy="431.76" rx="2.47" ry="1.75" fill="#182015" opacity="0.75"/><ellipse cx="213.53" cy="428.69" rx="4.66" ry="3.3" fill="#202c1b" opacity="0.75"/><ellipse cx="340.01" cy="416.14" rx="2.94" ry="2.08" fill="#2f4327" opacity="0.75"/><ellipse cx="306.13" cy="389.66" rx="1.89" ry="1.34" fill="#557539" opacity="0.75"/><ellipse cx="355.84" cy="437.19" rx="4.2" ry="2.97" fill="#2f4327" opacity="0.75"/><ellipse cx="54.11" cy="421.51" rx="4.7" ry="3.33" fill="#182015" opacity="0.75"/><ellipse cx="121.41" cy="424.25" rx="3.79" ry="2.68" fill="#2c3f23" opacity="0.75"/><ellipse cx="290.43" cy="417.88" rx="2.62" ry="1.86" fill="#2c3f23" opacity="0.75"/><ellipse cx="310.44" cy="409.08" rx="1.93" ry="1.37" fill="#2c3f23" opacity="0.75"/><ellipse cx="89.27" cy="414.31" rx="3.23" ry="2.29" fill="#3f5a30" opacity="0.75"/><ellipse cx="278.21" cy="437.61" rx="3.02" ry="2.14" fill="#2c3f23" opacity="0.75"/><ellipse cx="27.66" cy="433.23" rx="2.76" ry="1.96" fill="#2c3f23" opacity="0.75"/><ellipse cx="86.11" cy="427.32" rx="4.43" ry="3.14" fill="#2c3f23" opacity="0.75"/><ellipse cx="255.53" cy="433.11" rx="2.23" ry="1.58" fill="#202c1b" opacity="0.75"/><ellipse cx="180.29" cy="423.55" rx="3.74" ry="2.65" fill="#2f4327" opacity="0.75"/><ellipse cx="41.18" cy="402.23" rx="3.93" ry="2.78" fill="#41602f" opacity="0.75"/><ellipse cx="294.35" cy="433.97" rx="2.44" ry="1.73" fill="#202c1b" opacity="0.75"/><ellipse cx="333.05" cy="399.57" rx="3.85" ry="2.73" fill="#4d6b35" opacity="0.75"/><ellipse cx="283.61" cy="385.71" rx="3.8" ry="2.69" fill="#41602f" opacity="0.75"/><ellipse cx="93.68" cy="417.73" rx="4.11" ry="2.91" fill="#26351f" opacity="0.75"/><ellipse cx="27.45" cy="435.27" rx="3.49" ry="2.47" fill="#1c2718" opacity="0.75"/><ellipse cx="84.8" cy="399.49" rx="4.06" ry="2.87" fill="#557539" opacity="0.75"/><ellipse cx="37.52" cy="423.69" rx="3.46" ry="2.45" fill="#2f4327" opacity="0.75"/><ellipse cx="98.76" cy="419.38" rx="3.54" ry="2.51" fill="#182015" opacity="0.75"/><ellipse cx="149.11" cy="424.55" rx="2.98" ry="2.11" fill="#202c1b" opacity="0.75"/><ellipse cx="159.05" cy="424.46" rx="4.13" ry="2.93" fill="#182015" opacity="0.75"/><ellipse cx="95.57" cy="403.02" rx="3.88" ry="2.75" fill="#557539" opacity="0.75"/><ellipse cx="316.31" cy="431.24" rx="4.72" ry="3.35" fill="#2f4327" opacity="0.75"/><ellipse cx="46.89" cy="406.21" rx="4.39" ry="3.11" fill="#3f5a30" opacity="0.75"/><ellipse cx="262.48" cy="435.92" rx="3.28" ry="2.32" fill="#26351f" opacity="0.75"/><ellipse cx="70" cy="432.35" rx="2.52" ry="1.78" fill="#1c2718" opacity="0.75"/><ellipse cx="75.35" cy="424.31" rx="2.2" ry="1.56" fill="#1c2718" opacity="0.75"/><ellipse cx="88.32" cy="421.21" rx="2.08" ry="1.47" fill="#26351f" opacity="0.75"/><ellipse cx="94.17" cy="409.71" rx="3.2" ry="2.27" fill="#5a7a3e" opacity="0.75"/><ellipse cx="307.24" cy="419.77" rx="1.83" ry="1.3" fill="#202c1b" opacity="0.75"/><ellipse cx="357.6" cy="421.99" rx="4.67" ry="3.3" fill="#2c3f23" opacity="0.75"/><ellipse cx="28.22" cy="433.87" rx="4.3" ry="3.05" fill="#182015" opacity="0.75"/><ellipse cx="187.65" cy="423.01" rx="4.32" ry="3.06" fill="#202c1b" opacity="0.75"/><ellipse cx="292.34" cy="411.12" rx="2.33" ry="1.65" fill="#202c1b" opacity="0.75"/><ellipse cx="148.11" cy="409.98" rx="4.77" ry="3.38" fill="#3f5a30" opacity="0.75"/><ellipse cx="35.02" cy="401.89" rx="2.85" ry="2.02" fill="#5a7a3e" opacity="0.75"/><ellipse cx="65.13" cy="413.07" rx="3.07" ry="2.17" fill="#3f5a30" opacity="0.75"/><ellipse cx="251.64" cy="396.2" rx="3.01" ry="2.13" fill="#5a7a3e" opacity="0.75"/><ellipse cx="310.56" cy="390.42" rx="4.95" ry="3.51" fill="#4d6b35" opacity="0.75"/><ellipse cx="214.08" cy="406.66" rx="3.4" ry="2.41" fill="#3f5a30" opacity="0.75"/><ellipse cx="232.53" cy="429.16" rx="1.86" ry="1.32" fill="#182015" opacity="0.75"/><ellipse cx="87.29" cy="405.2" rx="4.61" ry="3.27" fill="#3f5a30" opacity="0.75"/><ellipse cx="20.68" cy="432.64" rx="4.92" ry="3.49" fill="#26351f" opacity="0.75"/><ellipse cx="278.16" cy="399.43" rx="2.71" ry="1.92" fill="#3a5229" opacity="0.75"/><ellipse cx="336.04" cy="403.33" rx="2.26" ry="1.6" fill="#3f5a30" opacity="0.75"/><ellipse cx="333.35" cy="394.5" rx="4" ry="2.83" fill="#5a7a3e" opacity="0.75"/><ellipse cx="263.95" cy="386.36" rx="1.99" ry="1.41" fill="#41602f" opacity="0.75"/><ellipse cx="370.84" cy="404.49" rx="4.96" ry="3.52" fill="#4d6b35" opacity="0.75"/><ellipse cx="272.87" cy="411.13" rx="4.77" ry="3.38" fill="#26351f" opacity="0.75"/><ellipse cx="298.74" cy="423.63" rx="4.36" ry="3.09" fill="#1c2718" opacity="0.75"/><ellipse cx="334.12" cy="436.9" rx="3.42" ry="2.42" fill="#2f4327" opacity="0.75"/><ellipse cx="253.04" cy="390.98" rx="4.72" ry="3.35" fill="#557539" opacity="0.75"/><ellipse cx="252.4" cy="389.55" rx="3.05" ry="2.16" fill="#4d6b35" opacity="0.75"/><ellipse cx="269.87" cy="389.89" rx="2.16" ry="1.53" fill="#557539" opacity="0.75"/><ellipse cx="33.27" cy="405.2" rx="3.45" ry="2.45" fill="#3f5a30" opacity="0.75"/><ellipse cx="248.38" cy="402.28" rx="4.28" ry="3.04" fill="#41602f" opacity="0.75"/><ellipse cx="213.27" cy="398.45" rx="3.13" ry="2.21" fill="#5a7a3e" opacity="0.75"/><ellipse cx="364.67" cy="417.59" rx="2.81" ry="1.99" fill="#2f4327" opacity="0.75"/><ellipse cx="110.4" cy="419.57" rx="3.91" ry="2.77" fill="#2f4327" opacity="0.75"/><ellipse cx="141.45" cy="431.3" rx="2.7" ry="1.91" fill="#26351f" opacity="0.75"/><ellipse cx="17.29" cy="405.28" rx="2.92" ry="2.07" fill="#4d6b35" opacity="0.75"/><ellipse cx="195.65" cy="397.55" rx="2.85" ry="2.02" fill="#41602f" opacity="0.75"/><ellipse cx="213.29" cy="432.61" rx="3.81" ry="2.7" fill="#26351f" opacity="0.75"/><ellipse cx="232.21" cy="404.61" rx="4.17" ry="2.95" fill="#557539" opacity="0.75"/><ellipse cx="105.98" cy="413.68" rx="4.36" ry="3.09" fill="#5a7a3e" opacity="0.75"/><ellipse cx="121.5" cy="404.84" rx="2.77" ry="1.96" fill="#4d6b35" opacity="0.75"/><ellipse cx="124.3" cy="433.16" rx="5.03" ry="3.56" fill="#1c2718" opacity="0.75"/><ellipse cx="235.97" cy="419.35" rx="4.11" ry="2.91" fill="#26351f" opacity="0.75"/><ellipse cx="82.52" cy="437.32" rx="4.65" ry="3.3" fill="#2c3f23" opacity="0.75"/><ellipse cx="46.17" cy="419.37" rx="4.75" ry="3.36" fill="#26351f" opacity="0.75"/><ellipse cx="306.91" cy="418.22" rx="1.83" ry="1.3" fill="#1c2718" opacity="0.75"/><ellipse cx="367.68" cy="423.29" rx="1.81" ry="1.28" fill="#1c2718" opacity="0.75"/><ellipse cx="326.26" cy="437.59" rx="4.91" ry="3.48" fill="#1c2718" opacity="0.75"/><ellipse cx="220.4" cy="422.6" rx="3.09" ry="2.19" fill="#2c3f23" opacity="0.75"/><ellipse cx="189.91" cy="420.68" rx="3.87" ry="2.74" fill="#26351f" opacity="0.75"/><ellipse cx="123.45" cy="408.34" rx="4.78" ry="3.38" fill="#41602f" opacity="0.75"/><ellipse cx="127.6" cy="412.16" rx="3.54" ry="2.51" fill="#46632f" opacity="0.75"/><ellipse cx="147.07" cy="434.64" rx="3.88" ry="2.75" fill="#26351f" opacity="0.75"/><ellipse cx="179.79" cy="419.49" rx="2.58" ry="1.83" fill="#182015" opacity="0.75"/><ellipse cx="184.45" cy="426.75" rx="2.82" ry="2" fill="#182015" opacity="0.75"/><ellipse cx="225.92" cy="415.89" rx="2.54" ry="1.8" fill="#202c1b" opacity="0.75"/><ellipse cx="88.48" cy="419.37" rx="4.91" ry="3.48" fill="#26351f" opacity="0.75"/><ellipse cx="49.71" cy="411.4" rx="4.23" ry="3" fill="#557539" opacity="0.75"/><ellipse cx="228.44" cy="418.16" rx="2.08" ry="1.47" fill="#182015" opacity="0.75"/><ellipse cx="245.02" cy="392.81" rx="2.75" ry="1.95" fill="#46632f" opacity="0.75"/><ellipse cx="88.35" cy="426.56" rx="3.45" ry="2.45" fill="#182015" opacity="0.75"/><ellipse cx="196.22" cy="425.08" rx="3.88" ry="2.74" fill="#2f4327" opacity="0.75"/><ellipse cx="165.41" cy="426.13" rx="2.65" ry="1.87" fill="#2f4327" opacity="0.75"/><ellipse cx="80.14" cy="426.32" rx="4.94" ry="3.5" fill="#2c3f23" opacity="0.75"/><ellipse cx="86.11" cy="437.72" rx="4.82" ry="3.41" fill="#2f4327" opacity="0.75"/><ellipse cx="252.7" cy="398.55" rx="4.17" ry="2.96" fill="#4d6b35" opacity="0.75"/><ellipse cx="37.24" cy="413.53" rx="2.9" ry="2.06" fill="#557539" opacity="0.75"/><ellipse cx="198.84" cy="404.51" rx="4.7" ry="3.33" fill="#5a7a3e" opacity="0.75"/><ellipse cx="82.12" cy="430" rx="2.53" ry="1.79" fill="#182015" opacity="0.75"/><ellipse cx="77.48" cy="427.62" rx="3.98" ry="2.82" fill="#1c2718" opacity="0.75"/><ellipse cx="28.03" cy="424.41" rx="4.48" ry="3.17" fill="#182015" opacity="0.75"/><ellipse cx="229.95" cy="413.48" rx="4.46" ry="3.16" fill="#557539" opacity="0.75"/><ellipse cx="295.68" cy="391.52" rx="4.83" ry="3.42" fill="#557539" opacity="0.75"/><ellipse cx="245.19" cy="406.74" rx="4.92" ry="3.48" fill="#202c1b" opacity="0.75"/><ellipse cx="58.07" cy="424.97" rx="4.49" ry="3.18" fill="#1c2718" opacity="0.75"/><ellipse cx="56.34" cy="403.21" rx="3.04" ry="2.15" fill="#41602f" opacity="0.75"/><ellipse cx="136" cy="427.54" rx="2.68" ry="1.9" fill="#2f4327" opacity="0.75"/><ellipse cx="341.85" cy="424.97" rx="4.76" ry="3.37" fill="#182015" opacity="0.75"/><ellipse cx="105.15" cy="418.37" rx="2.83" ry="2.01" fill="#1c2718" opacity="0.75"/><ellipse cx="178.44" cy="416.77" rx="3.35" ry="2.37" fill="#202c1b" opacity="0.75"/><ellipse cx="330.72" cy="407.87" rx="3.89" ry="2.75" fill="#1c2718" opacity="0.75"/><ellipse cx="290.65" cy="413.48" rx="2.58" ry="1.83" fill="#202c1b" opacity="0.75"/><ellipse cx="112.74" cy="417.57" rx="4.33" ry="3.07" fill="#2f4327" opacity="0.75"/><ellipse cx="292.85" cy="398.88" rx="4.86" ry="3.45" fill="#5a7a3e" opacity="0.75"/><ellipse cx="83.53" cy="429.72" rx="4.25" ry="3.01" fill="#202c1b" opacity="0.75"/><ellipse cx="259.63" cy="415.95" rx="4.98" ry="3.53" fill="#1c2718" opacity="0.75"/><ellipse cx="252.48" cy="435.27" rx="3.32" ry="2.35" fill="#2c3f23" opacity="0.75"/><ellipse cx="133.29" cy="408.25" rx="4.34" ry="3.07" fill="#4d6b35" opacity="0.75"/><ellipse cx="79.02" cy="404.78" rx="3" ry="2.13" fill="#557539" opacity="0.75"/><ellipse cx="204.63" cy="421.33" rx="3.39" ry="2.4" fill="#182015" opacity="0.75"/><ellipse cx="283.83" cy="425.48" rx="3.09" ry="2.19" fill="#2f4327" opacity="0.75"/><ellipse cx="358.85" cy="407.03" rx="2.54" ry="1.8" fill="#202c1b" opacity="0.75"/><ellipse cx="307.12" cy="417.7" rx="2.46" ry="1.74" fill="#202c1b" opacity="0.75"/><ellipse cx="229.16" cy="428.16" rx="3.64" ry="2.58" fill="#2c3f23" opacity="0.75"/><ellipse cx="116.13" cy="420.78" rx="2.67" ry="1.89" fill="#1c2718" opacity="0.75"/><ellipse cx="260.78" cy="396.9" rx="3.37" ry="2.39" fill="#557539" opacity="0.75"/><ellipse cx="166.59" cy="437.28" rx="4.21" ry="2.98" fill="#202c1b" opacity="0.75"/><ellipse cx="24.96" cy="405.13" rx="4.94" ry="3.5" fill="#3a5229" opacity="0.75"/><ellipse cx="354.74" cy="435.07" rx="3.3" ry="2.34" fill="#1c2718" opacity="0.75"/><ellipse cx="222.72" cy="423.2" rx="1.96" ry="1.39" fill="#2f4327" opacity="0.75"/><ellipse cx="129.02" cy="399.17" rx="4.91" ry="3.48" fill="#4d6b35" opacity="0.75"/><ellipse cx="218.61" cy="420.72" rx="2.32" ry="1.65" fill="#182015" opacity="0.75"/><ellipse cx="202.13" cy="437.23" rx="2.64" ry="1.87" fill="#2f4327" opacity="0.75"/><ellipse cx="243.2" cy="412.14" rx="3.03" ry="2.15" fill="#2c3f23" opacity="0.75"/><ellipse cx="295.08" cy="407.29" rx="3.85" ry="2.73" fill="#202c1b" opacity="0.75"/><ellipse cx="102.79" cy="409.29" rx="2.31" ry="1.64" fill="#557539" opacity="0.75"/><ellipse cx="267.93" cy="402.95" rx="3.68" ry="2.61" fill="#46632f" opacity="0.75"/><ellipse cx="204.8" cy="409.72" rx="4.77" ry="3.38" fill="#4d6b35" opacity="0.75"/><ellipse cx="80.21" cy="407.55" rx="4.76" ry="3.37" fill="#3a5229" opacity="0.75"/><ellipse cx="95.62" cy="425.36" rx="2.45" ry="1.74" fill="#202c1b" opacity="0.75"/><ellipse cx="319.79" cy="417.41" rx="4.6" ry="3.26" fill="#4d6b35" opacity="0.75"/><ellipse cx="246.62" cy="420.25" rx="2.71" ry="1.92" fill="#202c1b" opacity="0.75"/><ellipse cx="153.33" cy="430.72" rx="2.39" ry="1.7" fill="#202c1b" opacity="0.75"/><ellipse cx="326.55" cy="408.99" rx="4.34" ry="3.08" fill="#4d6b35" opacity="0.75"/><ellipse cx="204.19" cy="422.41" rx="3.12" ry="2.21" fill="#2f4327" opacity="0.75"/><ellipse cx="229.01" cy="420.36" rx="4.21" ry="2.98" fill="#1c2718" opacity="0.75"/><ellipse cx="220.41" cy="407.98" rx="3.98" ry="2.82" fill="#557539" opacity="0.75"/><ellipse cx="317.44" cy="412.64" rx="4.93" ry="3.49" fill="#557539" opacity="0.75"/><ellipse cx="171.09" cy="406.61" rx="4.63" ry="3.28" fill="#3a5229" opacity="0.75"/><ellipse cx="209.63" cy="403.41" rx="3.61" ry="2.56" fill="#3a5229" opacity="0.75"/><ellipse cx="167.77" cy="435.46" rx="2.72" ry="1.93" fill="#1c2718" opacity="0.75"/><ellipse cx="109.23" cy="430.99" rx="2.4" ry="1.7" fill="#202c1b" opacity="0.75"/><ellipse cx="135.02" cy="414.28" rx="2.37" ry="1.68" fill="#41602f" opacity="0.75"/><ellipse cx="322.22" cy="418.73" rx="4.46" ry="3.16" fill="#4d6b35" opacity="0.75"/><ellipse cx="305.23" cy="436.63" rx="4.43" ry="3.14" fill="#2f4327" opacity="0.75"/><ellipse cx="234.32" cy="405.67" rx="2.36" ry="1.67" fill="#3f5a30" opacity="0.75"/><ellipse cx="330.94" cy="426.08" rx="4.58" ry="3.25" fill="#182015" opacity="0.75"/><ellipse cx="338.5" cy="406.74" rx="2.82" ry="2" fill="#4d6b35" opacity="0.75"/><ellipse cx="150.71" cy="431.2" rx="3.49" ry="2.47" fill="#202c1b" opacity="0.75"/><ellipse cx="149.06" cy="430.56" rx="3.74" ry="2.65" fill="#1c2718" opacity="0.75"/><ellipse cx="77.75" cy="416.02" rx="3.25" ry="2.3" fill="#5a7a3e" opacity="0.75"/><ellipse cx="287.79" cy="420.45" rx="2.03" ry="1.44" fill="#26351f" opacity="0.75"/><ellipse cx="100.6" cy="417.15" rx="4.95" ry="3.51" fill="#2f4327" opacity="0.75"/><ellipse cx="157.48" cy="403.84" rx="1.85" ry="1.31" fill="#46632f" opacity="0.75"/><ellipse cx="294.78" cy="404.29" rx="1.91" ry="1.36" fill="#2c3f23" opacity="0.75"/><ellipse cx="260.15" cy="394.9" rx="4.33" ry="3.07" fill="#5a7a3e" opacity="0.75"/><ellipse cx="16.7" cy="426.96" rx="4.18" ry="2.96" fill="#26351f" opacity="0.75"/><ellipse cx="293.99" cy="415.55" rx="3.83" ry="2.71" fill="#182015" opacity="0.75"/><ellipse cx="50.15" cy="411.91" rx="3.08" ry="2.18" fill="#41602f" opacity="0.75"/><ellipse cx="226.58" cy="421.48" rx="3.17" ry="2.24" fill="#2f4327" opacity="0.75"/><ellipse cx="30.57" cy="399.84" rx="2.79" ry="1.97" fill="#557539" opacity="0.75"/><ellipse cx="242.83" cy="390.39" rx="3.9" ry="2.76" fill="#5a7a3e" opacity="0.75"/><ellipse cx="206.79" cy="423.63" rx="4.75" ry="3.36" fill="#182015" opacity="0.75"/><ellipse cx="321.94" cy="417.36" rx="3.36" ry="2.38" fill="#5a7a3e" opacity="0.75"/><ellipse cx="167.12" cy="433.46" rx="1.83" ry="1.3" fill="#26351f" opacity="0.75"/><ellipse cx="136.68" cy="404.29" rx="4.7" ry="3.33" fill="#41602f" opacity="0.75"/><ellipse cx="250.62" cy="404.4" rx="3.24" ry="2.29" fill="#46632f" opacity="0.75"/><ellipse cx="67.3" cy="402.41" rx="2.4" ry="1.7" fill="#557539" opacity="0.75"/><ellipse cx="341.72" cy="408.98" rx="2.19" ry="1.55" fill="#2c3f23" opacity="0.75"/><ellipse cx="217.03" cy="398.76" rx="4.38" ry="3.1" fill="#46632f" opacity="0.75"/><ellipse cx="170.7" cy="413.1" rx="2.7" ry="1.91" fill="#5a7a3e" opacity="0.75"/><ellipse cx="298.93" cy="392.74" rx="3.42" ry="2.42" fill="#3f5a30" opacity="0.75"/><ellipse cx="80.07" cy="431.83" rx="2.38" ry="1.69" fill="#26351f" opacity="0.75"/><ellipse cx="169.15" cy="424.62" rx="2.7" ry="1.91" fill="#182015" opacity="0.75"/><ellipse cx="111.61" cy="414.07" rx="3.22" ry="2.28" fill="#4d6b35" opacity="0.75"/><ellipse cx="327.41" cy="437.41" rx="2.56" ry="1.81" fill="#2c3f23" opacity="0.75"/><ellipse cx="176.38" cy="406.27" rx="3.63" ry="2.57" fill="#5a7a3e" opacity="0.75"/><ellipse cx="302.58" cy="387.67" rx="2.46" ry="1.74" fill="#41602f" opacity="0.75"/><ellipse cx="245.04" cy="395.89" rx="3.88" ry="2.75" fill="#3a5229" opacity="0.75"/><ellipse cx="136.28" cy="415.73" rx="2.12" ry="1.5" fill="#202c1b" opacity="0.75"/><ellipse cx="204.47" cy="435.3" rx="2.2" ry="1.56" fill="#26351f" opacity="0.75"/><ellipse cx="122.88" cy="431.03" rx="1.81" ry="1.28" fill="#2f4327" opacity="0.75"/><ellipse cx="236.52" cy="435.62" rx="4.77" ry="3.38" fill="#26351f" opacity="0.75"/><ellipse cx="171.51" cy="435.4" rx="3.47" ry="2.46" fill="#2c3f23" opacity="0.75"/><ellipse cx="302.91" cy="426.42" rx="2.69" ry="1.91" fill="#26351f" opacity="0.75"/><ellipse cx="306.45" cy="435.92" rx="3" ry="2.13" fill="#2f4327" opacity="0.75"/><ellipse cx="81.6" cy="418.82" rx="4.74" ry="3.36" fill="#182015" opacity="0.75"/><ellipse cx="59.56" cy="420.74" rx="2.07" ry="1.47" fill="#1c2718" opacity="0.75"/><ellipse cx="143.82" cy="407.81" rx="3.42" ry="2.42" fill="#5a7a3e" opacity="0.75"/><ellipse cx="226.31" cy="408.57" rx="3" ry="2.12" fill="#3a5229" opacity="0.75"/><ellipse cx="31.67" cy="420.62" rx="4.78" ry="3.38" fill="#1c2718" opacity="0.75"/><ellipse cx="250.57" cy="402.26" rx="2.67" ry="1.89" fill="#3f5a30" opacity="0.75"/><ellipse cx="230.09" cy="435.37" rx="4.07" ry="2.88" fill="#182015" opacity="0.75"/><ellipse cx="114.56" cy="427.79" rx="1.8" ry="1.28" fill="#1c2718" opacity="0.75"/><ellipse cx="230.54" cy="433.75" rx="3.14" ry="2.23" fill="#202c1b" opacity="0.75"/><ellipse cx="51.96" cy="404.37" rx="2.85" ry="2.02" fill="#46632f" opacity="0.75"/><ellipse cx="341.09" cy="422.25" rx="3.1" ry="2.2" fill="#1c2718" opacity="0.75"/><ellipse cx="39.56" cy="401.52" rx="4.98" ry="3.53" fill="#46632f" opacity="0.75"/><ellipse cx="188.49" cy="425.48" rx="4.87" ry="3.45" fill="#2c3f23" opacity="0.75"/><ellipse cx="303.54" cy="406.1" rx="4.77" ry="3.38" fill="#26351f" opacity="0.75"/><ellipse cx="69.01" cy="407.26" rx="2.45" ry="1.73" fill="#3a5229" opacity="0.75"/><ellipse cx="315.93" cy="426.56" rx="3.41" ry="2.42" fill="#26351f" opacity="0.75"/><ellipse cx="94.8" cy="426.13" rx="3.17" ry="2.24" fill="#2f4327" opacity="0.75"/><ellipse cx="149.73" cy="432.01" rx="2.85" ry="2.02" fill="#2f4327" opacity="0.75"/><ellipse cx="166.55" cy="407" rx="3.57" ry="2.53" fill="#557539" opacity="0.75"/><ellipse cx="170.62" cy="404.27" rx="2.29" ry="1.62" fill="#46632f" opacity="0.75"/><ellipse cx="56.83" cy="435.52" rx="2.09" ry="1.48" fill="#182015" opacity="0.75"/></g>
<rect x="16" y="418" width="140" height="26" fill="#1c2619" opacity="0.32" filter="url(#cB2)"/><rect x="150" y="414" width="222" height="30" fill="#161d14" opacity="0.72" filter="url(#cB2)"/>
<rect x="72" y="430" width="8" height="7" fill="#3a5fb0" opacity="0.8"/><path d="M16 444.8 H86" stroke="#26301f" stroke-width="2.5" opacity="0.6"/>
<g filter="url(#cB1)"><rect x="283" y="408" width="14" height="14" fill="#cfd4d8" opacity="0.55"/><rect x="299" y="411" width="18" height="14" fill="#cfd4d8" opacity="0.6"/><rect x="318" y="409" width="8" height="16" fill="#cfd4d8" opacity="0.5"/><rect x="246" y="420" width="8" height="8" fill="#cfd4d8" opacity="0.3"/><rect x="150" y="424" width="20" height="6" fill="#cfd4d8" opacity="0.25"/><rect x="60" y="424" width="30" height="6" fill="#cfd4d8" opacity="0.25"/><rect x="350" y="424" width="16" height="8" fill="#cfd4d8" opacity="0.3"/><rect x="190" y="426" width="30" height="6" fill="#cfd4d8" opacity="0.25"/></g>
<path d="M16 447.5 L90 446 L140 441.5 L186 441 L372 440 L372 523 L16 523Z" fill="url(#cGr)"/>
<path d="M140 441.3 L186 440.8 L372 439.8 L372 444 L186 445 L140 445Z" fill="#aaa49b"/>
<rect x="338.5" y="421" width="6.5" height="20" fill="#b8aa98"/><rect x="337.5" y="420" width="8.5" height="2.5" fill="#cbbfae"/><rect x="232.5" y="428" width="5.5" height="16" fill="#a89b8a"/><rect x="231.5" y="427" width="7.5" height="2" fill="#bdb1a0"/><rect x="134" y="434" width="4" height="12" fill="#a89b8a"/>
<rect x="16" y="430" width="21.5" height="17.5" fill="#e65e1d"/><rect x="16" y="428" width="6" height="3" fill="#d96a2a"/><path d="M37 447.3 H88" stroke="#d9552a" stroke-width="1.2" opacity="0.8"/><path d="M109.5 441 L111 448.5 H108Z" fill="#e4532a"/><rect x="90" y="440" width="13" height="5.5" rx="1.5" fill="#4a4f55"/><rect x="110" y="441" width="12" height="4.5" rx="1.5" fill="#c9cccf"/>
<path d="M16 499.5 L84 495.6 L89 497 L16 501.5Z" fill="#d9d9d9"/><path d="M16 463.5 L75 457 L90 461.5 L16 466Z" fill="#9a9a9c" opacity="0.7"/><path d="M104 497.5 L120 497 L200 523 L172 523Z" fill="#b9b6b0" opacity="0.85"/><path d="M262 485.5 L372 478.2 L372 479.8 L262 487Z" fill="#c9c9c9"/><path d="M276 485 L292 486 L372 495.5 L372 497.5 L290 488.5Z" fill="#bdbdbd"/><path d="M262 452 L372 449.5 L372 451 L262 453.5Z" fill="#9b9b9d" opacity="0.8"/><path d="M20 476 L140 468" stroke="#7d7e81" stroke-width="1" opacity="0.6"/>
<path d="M80 505 C88 500 100 502 108 504 C100 508 90 507 80 505Z" fill="none" stroke="#d9a516" stroke-width="1.2"/><path d="M108 504 C150 512 230 510 305 506" fill="none" stroke="#c98a2a" stroke-width="0.8" opacity="0.85"/>
<path d="M150 490 L262 487 L268 491 L150 496Z" fill="#55565a" opacity="0.7" filter="url(#cB1)"/>
<rect x="142.5" y="434" width="3" height="58" fill="#c4d0e2"/><rect x="150" y="434" width="3" height="58" fill="#c4d0e2"/><rect x="179.5" y="434" width="3" height="58" fill="#c4d0e2"/><rect x="187.5" y="434" width="3" height="58" fill="#c4d0e2"/><rect x="216.5" y="434" width="3" height="58" fill="#c4d0e2"/><rect x="224.5" y="434" width="3" height="58" fill="#c4d0e2"/><rect x="249" y="434" width="3" height="58" fill="#c4d0e2"/><rect x="258.5" y="434" width="3" height="58" fill="#c4d0e2"/><rect x="147" y="479.5" width="114" height="3.6" fill="#c9d6e8"/><rect x="147" y="483" width="114" height="1.2" fill="#8d99ad"/><rect x="143.5" y="445.5" width="117.5" height="21.5" fill="#a3aebf"/><path d="M143.5 445.5 h117.5 v3 h-117.5z" fill="#b9c3d2"/><rect x="181" y="445.5" width="1.2" height="21.5" fill="#7e8898"/><rect x="219" y="445.5" width="1.2" height="21.5" fill="#7e8898"/><rect x="165" y="449" width="11" height="11.5" fill="#e9e6df"/><rect x="166.3" y="450.3" width="8.4" height="8.6" fill="#2e3034"/><rect x="167.6" y="451.6" width="5.8" height="6" fill="#f4f3f0"/><rect x="202.5" y="449" width="11" height="11.5" fill="#e9e6df"/><rect x="203.8" y="450.3" width="8.4" height="8.6" fill="#2e3034"/><rect x="205.1" y="451.6" width="5.8" height="6" fill="#f4f3f0"/><rect x="237.5" y="449" width="11" height="11.5" fill="#e9e6df"/><rect x="238.8" y="450.3" width="8.4" height="8.6" fill="#2e3034"/><rect x="240.1" y="451.6" width="5.8" height="6" fill="#f4f3f0"/><rect x="200.5" y="475" width="8" height="4" rx="1" fill="#1e2a44"/><rect x="231.5" y="474" width="8" height="4.5" rx="1" fill="#1e2a34"/><rect x="190" y="476" width="6" height="3" fill="#c8602a"/><path d="M124 470.5 L146.5 469.5 L146.8 485 L126 486.5Z" fill="#252c44"/><rect x="115.5" y="485.5" width="31.5" height="11.5" rx="1" fill="#eea01f"/><rect x="115.5" y="485.5" width="31.5" height="2.5" fill="#f6b73a"/><rect x="100" y="489" width="15" height="7" fill="#8d9196"/><rect x="102" y="487.5" width="10" height="2" fill="#b9bcc0"/>
<ellipse cx="314" cy="506.5" rx="7" ry="2.8" fill="#e9e9e9"/><ellipse cx="314" cy="505" rx="3.5" ry="2" fill="#fafafa"/>
<g stroke="#fff" stroke-width="0.9" fill="none" stroke-dasharray="4.5 3.5"><path d="M17.5 411 L141.5 445.5"/><path d="M136 410.5 L259.5 443"/><path d="M142 468 H261"/><path d="M148 452 V466" stroke-dasharray="6 3"/><path d="M261 446 V466" stroke-dasharray="5 3"/><path d="M141 469.5 L24 519.5"/><path d="M261.5 467.5 L368 521"/></g>
<g stroke="#fff" stroke-width="0.9" fill="#fff"><path d="M207.7 480 L211.3 490" fill="none"/><path d="M212 492.3 l-2.7-3 2.9-1z" stroke="none"/><path d="M238 478.5 L239.3 489" fill="none"/><path d="M239.6 491.5 l-2-3.5 3.1-0.3z" stroke="none"/><path d="M108.5 494 L118.5 506" fill="none"/><path d="M120.2 508 l-3.6-1.8 2.4-2z" stroke="none"/></g>
<text class="w" x="175.8" y="501.6">Temperature data logger</text>
<text class="w" x="69.5" y="517.6">Solar power data logger</text>
<text class="w" x="285.5" y="517.6">Pyranometer</text>
<rect x="16" y="296.5" width="120" height="79" fill="#dfe4f3"/><rect x="16" y="373" width="120" height="38" fill="#e7e5e8"/><g filter="url(#cB1)" opacity="0.85"><rect x="17" y="382.74" width="4.99" height="16.26" fill="#dcc9ca"/><rect x="22.4" y="382.67" width="3.68" height="16.33" fill="#e4d6d6"/><rect x="26.98" y="376.7" width="3.59" height="22.3" fill="#e0d0d2"/><rect x="31.85" y="381.22" width="4.21" height="17.78" fill="#ece6e8"/><rect x="36.41" y="376.04" width="6.68" height="22.96" fill="#ece6e8"/><rect x="43.51" y="380.25" width="6.6" height="18.75" fill="#ece6e8"/><rect x="50.95" y="380.56" width="5.71" height="18.44" fill="#e0d0d2"/><rect x="58.09" y="382.47" width="5.36" height="16.53" fill="#f0eef0"/><rect x="64.7" y="379.31" width="4.08" height="19.69" fill="#f0eef0"/><rect x="69.99" y="382.07" width="5.21" height="16.93" fill="#e4d6d6"/><rect x="75.51" y="376.6" width="4.34" height="22.4" fill="#d6c2c4"/><rect x="80.31" y="379.64" width="4.62" height="19.36" fill="#e0d0d2"/><rect x="85.11" y="382.45" width="6.67" height="16.55" fill="#e4d6d6"/><rect x="92.73" y="378.62" width="4.98" height="20.38" fill="#e0d0d2"/><rect x="97.74" y="381.76" width="3.34" height="17.24" fill="#dcc9ca"/><rect x="102.19" y="376.58" width="4.56" height="22.42" fill="#f0eef0"/><rect x="107.46" y="381.78" width="5.42" height="17.22" fill="#ece6e8"/><rect x="113.15" y="376.87" width="3.23" height="22.13" fill="#e0d0d2"/><rect x="116.84" y="382.17" width="6.48" height="16.83" fill="#e4d6d6"/><rect x="123.84" y="376.73" width="4.37" height="22.27" fill="#dcc9ca"/><rect x="129.45" y="377.34" width="3.22" height="21.66" fill="#e0d0d2"/></g><rect x="16" y="398" width="120" height="14" fill="#cacdc8" opacity="0.9" filter="url(#cB2)"/><rect x="16.8" y="297.3" width="119" height="113.5" fill="none" stroke="#c4d4ee" stroke-width="0.9" stroke-dasharray="4 3"/>
<rect x="69" y="307" width="2.2" height="16" fill="#8f8f8f"/><rect x="71.2" y="323" width="1.3" height="63" fill="#2f6fc0"/><path d="M52 326 H68.8 V328.4 H54.4 V378.8 H68.8 V381.2 H52Z" fill="#a9def2"/><rect x="67.8" y="381" width="2.4" height="20.5" fill="#a9def2"/><rect x="55" y="335" width="12" height="38.8" fill="#a4a4a4"/><rect x="67" y="335" width="2.1" height="38.8" fill="#f2bf1e"/><rect x="64.5" y="347.2" width="9.2" height="13.4" fill="none" stroke="#8a8a8a" stroke-width="0.6"/><circle cx="67" cy="354.6" r="0.9" fill="#e8202a"/><rect x="44.5" y="397" width="28" height="4.3" fill="#58585a"/><g stroke="#231f20" stroke-width="0.6" fill="none"><path d="M45 349.5 L66.5 354.5"/><path d="M47.5 316 L52 325"/><path d="M82.5 321 L73.5 325.5"/><path d="M38.7 390 L45 397"/><path d="M78.5 391.7 H72.8"/></g><g stroke="#8a8a8a" stroke-width="0.6" fill="none" stroke-dasharray="3.5 2.5"><path d="M78 342 L85 338.5"/><path d="M78 364.5 L85 369"/><path d="M95 333.3 H91.5 V374 H95 M117 333.3 H120.8 V374 H117" stroke-dasharray="9 6"/></g><rect x="94" y="333.8" width="8" height="40" fill="#a4a4a4"/><rect x="102" y="333.8" width="7.6" height="40" fill="#f2bf1e"/><rect x="109.6" y="333.8" width="7" height="40" fill="#c9ba8c"/><g font-size="8px" fill="#231f20"><text transform="translate(95 336) rotate(90)">Insulator</text><text transform="translate(102.6 339.5) rotate(90)">copper</text><text transform="translate(110.2 340.5) rotate(90)">cooler</text></g><g font-size="8.7px" fill="#231f20"><text x="18" y="313.8">Clear acrylic</text><text x="78" y="317">Clear PE film</text><text x="19.5" y="387.7">Holder</text><text x="81" y="393">Aluminum foil</text><text transform="translate(39.6 373) rotate(-90)">Thermocouple</text></g>
</g>
<g clip-path="url(#cCs)"><rect x="16" y="522" width="356" height="10" fill="#3b4a2c"/><rect x="194" y="523" width="40" height="8" fill="#e4601f"/><rect x="352" y="523" width="8" height="8" fill="#d9642a"/><rect x="16" y="522" width="4" height="10" fill="#cfd6e2"/><rect x="76" y="522" width="3.5" height="10" fill="#cfd6e2"/><rect x="121" y="522" width="4" height="10" fill="#cfd6e2"/><rect x="128" y="522" width="4" height="10" fill="#cfd6e2"/><rect x="236" y="522" width="4" height="10" fill="#cfd6e2"/><rect x="243" y="522" width="4" height="10" fill="#cfd6e2"/><rect x="250" y="522" width="4" height="10" fill="#cfd6e2"/><rect x="329" y="522" width="5" height="10" fill="#cfd6e2"/><rect x="345" y="522" width="3" height="10" fill="#cfd6e2"/><rect x="16" y="531" width="356" height="58" fill="url(#cFoil)"/><rect x="16" y="531" width="356" height="3.5" fill="#c3c8d1"/><rect x="16" y="534" width="30" height="46" fill="#b3b7c0"/><rect x="80" y="534" width="44" height="46" fill="#a3a7b1"/><rect x="128" y="534" width="42" height="46" fill="#828791"/><rect x="205" y="534" width="45" height="46" fill="#a7abb4"/><rect x="255" y="534" width="43" height="46" fill="#8a8f99"/><rect x="332" y="534" width="40" height="46" fill="#a2a6af"/><g filter="url(#cB1)"><path d="M128 575 L165 538 L170 540 L140 578Z" fill="#c4c8d0" opacity="0.8"/><path d="M132 540 L150 560 L145 575 L129 560Z" fill="#6f747e" opacity="0.7"/><path d="M206 575 L246 536 L250 540 L215 578Z" fill="#c9cdd4" opacity="0.8"/><path d="M222 540 L240 537 L228 560Z" fill="#7b808a" opacity="0.7"/><path d="M258 540 L296 548 L296 552 L258 546Z" fill="#b9bdc6" opacity="0.7"/><path d="M262 556 L290 574 L270 576Z" fill="#737882" opacity="0.6"/><path d="M18 540 L40 536 L30 565Z" fill="#d2d5db" opacity="0.8"/><path d="M26 560 L44 548 L42 575Z" fill="#8e939d" opacity="0.7"/><path d="M84 540 L120 546 L100 556Z" fill="#bfc3cb" opacity="0.7"/><path d="M90 562 L122 556 L118 576 L96 574Z" fill="#858a94" opacity="0.6"/><path d="M336 538 L368 546 L350 560Z" fill="#bcc0c8" opacity="0.7"/><path d="M340 562 L370 556 L366 576Z" fill="#868b95" opacity="0.6"/></g><g filter="url(#cB1)"><path d="M41.09 546.34 l-4.17 11.01 l3.43 -4.41z" fill="#d7dbe2" opacity="0.6"/><path d="M182.2 578.98 l8.48 9.56 l3.14 -3.82z" fill="#d7dbe2" opacity="0.6"/><path d="M348.72 537.68 l-6.51 10.46 l5.05 -4.18z" fill="#79808c" opacity="0.6"/><path d="M342.81 541.18 l8.76 6.85 l4.98 -2.74z" fill="#79808c" opacity="0.6"/><path d="M349.57 539.62 l-0.45 12.21 l2.8 -4.88z" fill="#e2e5ea" opacity="0.6"/><path d="M236.87 564.86 l4.6 7.28 l5.23 -2.91z" fill="#e2e5ea" opacity="0.6"/><path d="M307.45 578.31 l-8.58 4.58 l4.01 -1.83z" fill="#c9ced7" opacity="0.6"/><path d="M34.53 554.67 l-0.67 13.71 l2.67 -5.48z" fill="#d7dbe2" opacity="0.6"/><path d="M20.39 543.19 l0.47 11.64 l5.01 -4.66z" fill="#8a919d" opacity="0.6"/><path d="M338.28 563.51 l-6.38 10.24 l3.87 -4.1z" fill="#e2e5ea" opacity="0.6"/><path d="M257.79 539.96 l-8.06 5.15 l3.1 -2.06z" fill="#8a919d" opacity="0.6"/><path d="M213.69 577.5 l-4.13 12.21 l5.84 -4.88z" fill="#7e8590" opacity="0.6"/><path d="M138.7 570.32 l8.54 13.58 l3.29 -5.43z" fill="#7e8590" opacity="0.6"/><path d="M341.18 563.66 l5.66 4.51 l4.43 -1.81z" fill="#c9ced7" opacity="0.6"/><path d="M335.34 570.43 l-2.26 10.05 l4.71 -4.02z" fill="#7e8590" opacity="0.6"/><path d="M351.84 554.08 l6.62 11.45 l3.01 -4.58z" fill="#727985" opacity="0.6"/><path d="M111.12 536.39 l4.26 6.19 l4.87 -2.47z" fill="#7e8590" opacity="0.6"/><path d="M370.48 543.11 l-1.55 11.88 l3.78 -4.75z" fill="#d7dbe2" opacity="0.6"/><path d="M144.38 545.96 l-1.89 6.63 l3.49 -2.65z" fill="#e2e5ea" opacity="0.6"/><path d="M236.67 541.09 l1.76 4.95 l3.43 -1.98z" fill="#e2e5ea" opacity="0.6"/><path d="M228.29 550.37 l-5.02 11.2 l4.39 -4.48z" fill="#7e8590" opacity="0.6"/><path d="M128.3 537.96 l-0.83 8.81 l5.96 -3.52z" fill="#727985" opacity="0.6"/><path d="M98.23 568.46 l4.36 9.92 l4.51 -3.97z" fill="#7e8590" opacity="0.6"/><path d="M25.61 544.14 l5.11 5.62 l4.55 -2.25z" fill="#e2e5ea" opacity="0.6"/><path d="M138.36 536.64 l7.99 6.27 l4.51 -2.51z" fill="#8a919d" opacity="0.6"/><path d="M251.13 553.47 l-4.06 10.11 l3.16 -4.05z" fill="#d7dbe2" opacity="0.6"/><path d="M227.33 539.97 l5.33 9.76 l5.77 -3.9z" fill="#8a919d" opacity="0.6"/><path d="M161.65 538.24 l7.14 4.3 l4.27 -1.72z" fill="#b9bfc9" opacity="0.6"/><path d="M269.23 542.11 l-0.71 12.51 l4.31 -5z" fill="#7e8590" opacity="0.6"/><path d="M341.7 558.69 l-3.03 8.31 l4.11 -3.32z" fill="#c9ced7" opacity="0.6"/><path d="M100.92 569 l4.5 10.16 l3.18 -4.06z" fill="#b9bfc9" opacity="0.6"/><path d="M37.5 542.54 l-8.11 13.25 l5.23 -5.3z" fill="#79808c" opacity="0.6"/><path d="M293.59 559.39 l-1.17 7.43 l3.06 -2.97z" fill="#8a919d" opacity="0.6"/><path d="M255.52 559.7 l-6.6 13.92 l4.91 -5.57z" fill="#79808c" opacity="0.6"/><path d="M284.13 570.61 l7.14 7.99 l4.35 -3.19z" fill="#8a919d" opacity="0.6"/><path d="M32.43 542.59 l-3.99 7.37 l4.4 -2.95z" fill="#79808c" opacity="0.6"/><path d="M337.45 550.19 l5.21 7.76 l4.76 -3.11z" fill="#d7dbe2" opacity="0.6"/><path d="M346.28 549.03 l-7.43 13.68 l4.06 -5.47z" fill="#79808c" opacity="0.6"/><path d="M50.82 579.77 l-3.17 10.82 l2.24 -4.33z" fill="#8a919d" opacity="0.6"/><path d="M358.14 548.94 l-0.25 7.77 l2.57 -3.11z" fill="#b9bfc9" opacity="0.6"/><path d="M286.07 540.24 l-5.71 9.39 l2.57 -3.76z" fill="#b9bfc9" opacity="0.6"/><path d="M267.3 547.87 l-5.06 10.37 l5.95 -4.15z" fill="#79808c" opacity="0.6"/><path d="M356.7 576.94 l0.49 6.2 l5.06 -2.48z" fill="#727985" opacity="0.6"/><path d="M159.9 574.25 l-4.58 11.12 l2.48 -4.45z" fill="#727985" opacity="0.6"/><path d="M209.15 568.42 l1.32 12.68 l5.68 -5.07z" fill="#7e8590" opacity="0.6"/><path d="M144.29 557.68 l-4.51 5.75 l4.88 -2.3z" fill="#79808c" opacity="0.6"/><path d="M111.65 547.97 l2.91 13.83 l4.78 -5.53z" fill="#8a919d" opacity="0.6"/><path d="M234.48 571.23 l6.1 9.97 l2.9 -3.99z" fill="#79808c" opacity="0.6"/><path d="M111.85 545.38 l-3.08 5.35 l2.45 -2.14z" fill="#7e8590" opacity="0.6"/><path d="M156.66 563.51 l4.18 12.65 l3.61 -5.06z" fill="#727985" opacity="0.6"/><path d="M288.93 573.49 l2.46 13.99 l4.98 -5.6z" fill="#b9bfc9" opacity="0.6"/><path d="M223.94 558.63 l2.67 4.86 l3.48 -1.95z" fill="#8a919d" opacity="0.6"/><path d="M128.58 535.37 l-8.21 12.92 l3.1 -5.17z" fill="#7e8590" opacity="0.6"/><path d="M322.27 579.37 l-8.17 12.28 l4.38 -4.91z" fill="#727985" opacity="0.6"/><path d="M155.3 568.67 l-3.86 12.26 l2.76 -4.9z" fill="#79808c" opacity="0.6"/><path d="M128.98 545.05 l-6.69 13.13 l5.57 -5.25z" fill="#7e8590" opacity="0.6"/><path d="M283.48 551.42 l6.07 10.96 l5.32 -4.38z" fill="#7e8590" opacity="0.6"/><path d="M116.39 565.94 l-1.16 4.51 l3.8 -1.8z" fill="#d7dbe2" opacity="0.6"/><path d="M335.17 550.25 l5.11 8.71 l5.13 -3.48z" fill="#7e8590" opacity="0.6"/><path d="M153.79 560.35 l-4.31 12.55 l5.18 -5.02z" fill="#79808c" opacity="0.6"/><path d="M65.38 578.5 l-8.35 9.34 l4.28 -3.73z" fill="#727985" opacity="0.6"/><path d="M365.01 577.72 l-0.31 4.44 l2.93 -1.78z" fill="#727985" opacity="0.6"/><path d="M135.89 546.11 l-2.34 12.84 l5.99 -5.14z" fill="#b9bfc9" opacity="0.6"/><path d="M275.31 555.97 l-6.14 9.77 l3.6 -3.91z" fill="#7e8590" opacity="0.6"/><path d="M322.59 536.21 l-1.24 13.97 l3.66 -5.59z" fill="#c9ced7" opacity="0.6"/><path d="M221.48 552.18 l-7.73 12.53 l4.72 -5.01z" fill="#b9bfc9" opacity="0.6"/><path d="M42.77 546.29 l-1.66 5.07 l5.81 -2.03z" fill="#79808c" opacity="0.6"/><path d="M369.7 540.69 l-5.68 8.66 l2.45 -3.46z" fill="#79808c" opacity="0.6"/><path d="M334.28 545.23 l-8.34 6.27 l5.99 -2.51z" fill="#c9ced7" opacity="0.6"/><path d="M21.61 562.88 l-3.86 11.1 l2.95 -4.44z" fill="#8a919d" opacity="0.6"/><path d="M283.75 551.85 l5.02 10 l4.37 -4z" fill="#e2e5ea" opacity="0.6"/><path d="M231.55 572.49 l-1.91 8.96 l5.02 -3.58z" fill="#c9ced7" opacity="0.6"/><path d="M76.96 575.99 l1.05 4.99 l4.25 -1.99z" fill="#727985" opacity="0.6"/><path d="M359.91 568.42 l6.15 9.27 l2.68 -3.71z" fill="#d7dbe2" opacity="0.6"/><path d="M181.19 536.43 l-6.75 9.11 l2.84 -3.64z" fill="#727985" opacity="0.6"/><path d="M338.19 560.54 l-0.24 12.45 l2.99 -4.98z" fill="#c9ced7" opacity="0.6"/><path d="M350.34 569.03 l4.13 9.12 l4.14 -3.65z" fill="#e2e5ea" opacity="0.6"/><path d="M213.06 536.45 l-6.95 8.96 l3.56 -3.58z" fill="#d7dbe2" opacity="0.6"/><path d="M104.66 548.03 l2.57 8.57 l3.81 -3.43z" fill="#7e8590" opacity="0.6"/><path d="M288.26 551.45 l-7.56 6.69 l4.85 -2.68z" fill="#79808c" opacity="0.6"/><path d="M163.47 563.39 l5.91 5.51 l2.18 -2.21z" fill="#79808c" opacity="0.6"/><path d="M96.82 544.87 l-0.12 5.72 l3.08 -2.29z" fill="#727985" opacity="0.6"/><path d="M86.93 546.05 l7.7 8.05 l5.46 -3.22z" fill="#c9ced7" opacity="0.6"/><path d="M270.5 535.52 l-4.72 13.71 l5.66 -5.48z" fill="#8a919d" opacity="0.6"/><path d="M268.2 573.04 l3.15 13.49 l3.85 -5.39z" fill="#727985" opacity="0.6"/><path d="M158.2 568.79 l0.68 8.56 l5.21 -3.43z" fill="#79808c" opacity="0.6"/><path d="M115.11 546.59 l8.89 7.37 l3.47 -2.95z" fill="#b9bfc9" opacity="0.6"/><path d="M69.44 536.49 l6.96 7.58 l2.88 -3.03z" fill="#7e8590" opacity="0.6"/><path d="M111.16 570.04 l3.47 10.26 l3.95 -4.1z" fill="#8a919d" opacity="0.6"/><path d="M216.62 577.22 l-7.1 7.58 l2.53 -3.03z" fill="#79808c" opacity="0.6"/><path d="M350.58 558.87 l6.08 13.12 l5.82 -5.25z" fill="#d7dbe2" opacity="0.6"/><path d="M237.7 535.91 l-5.04 9.25 l4.65 -3.7z" fill="#727985" opacity="0.6"/><path d="M276.88 554.52 l7.42 11.68 l4.02 -4.67z" fill="#b9bfc9" opacity="0.6"/><path d="M287.09 565.8 l-7.41 12.03 l2.49 -4.81z" fill="#7e8590" opacity="0.6"/><path d="M265.34 551.72 l-7.71 12.23 l4.16 -4.89z" fill="#c9ced7" opacity="0.6"/><path d="M363.06 548.59 l1.27 11.35 l4.75 -4.54z" fill="#8a919d" opacity="0.6"/><path d="M30.62 570.84 l-8.32 7.18 l3.41 -2.87z" fill="#7e8590" opacity="0.6"/><path d="M213.86 564.93 l-8.53 7.72 l3.81 -3.09z" fill="#c9ced7" opacity="0.6"/><path d="M211.17 540.1 l8.25 10.86 l5.05 -4.34z" fill="#b9bfc9" opacity="0.6"/><path d="M239.07 561.28 l5.51 11.76 l5.27 -4.71z" fill="#d7dbe2" opacity="0.6"/><path d="M104.17 541.4 l8.15 4.8 l5.59 -1.92z" fill="#e2e5ea" opacity="0.6"/><path d="M263.09 547.54 l8.74 10.26 l2.18 -4.11z" fill="#8a919d" opacity="0.6"/><path d="M104.79 576.26 l3.77 11.92 l5.66 -4.77z" fill="#d7dbe2" opacity="0.6"/><path d="M124.29 535.03 l4.28 10.61 l3.55 -4.24z" fill="#7e8590" opacity="0.6"/><path d="M234.2 553.84 l-5.7 6.94 l4.91 -2.78z" fill="#79808c" opacity="0.6"/><path d="M40.11 557.31 l6.78 12.86 l3.49 -5.14z" fill="#79808c" opacity="0.6"/><path d="M289.84 544.76 l1.24 9.07 l4.68 -3.63z" fill="#e2e5ea" opacity="0.6"/><path d="M158.13 562.21 l7.83 12.4 l3.83 -4.96z" fill="#b9bfc9" opacity="0.6"/><path d="M137.85 553.93 l-3.2 13.7 l3.41 -5.48z" fill="#7e8590" opacity="0.6"/><path d="M208.72 558.05 l1.93 11.57 l3.49 -4.63z" fill="#b9bfc9" opacity="0.6"/><path d="M336.99 548.72 l-5.2 11.97 l3.9 -4.79z" fill="#e2e5ea" opacity="0.6"/><path d="M151.84 579.14 l0.21 6.93 l2.25 -2.77z" fill="#b9bfc9" opacity="0.6"/><path d="M336.49 565.18 l-7.98 4.69 l3.9 -1.88z" fill="#79808c" opacity="0.6"/><path d="M212.85 577.84 l1.88 4.66 l4.8 -1.86z" fill="#727985" opacity="0.6"/><path d="M287.55 578.07 l0.46 10.49 l4.29 -4.2z" fill="#c9ced7" opacity="0.6"/><path d="M268.61 566.36 l-8.81 13.66 l3.97 -5.46z" fill="#c9ced7" opacity="0.6"/><path d="M290.34 563.58 l-8.87 10.06 l2.13 -4.03z" fill="#7e8590" opacity="0.6"/><path d="M278.63 565.31 l5.52 8.74 l5.68 -3.5z" fill="#e2e5ea" opacity="0.6"/><path d="M354.28 542.91 l1.05 6.91 l2.94 -2.76z" fill="#7e8590" opacity="0.6"/><path d="M332.21 576.81 l-2.63 8.99 l4.1 -3.6z" fill="#b9bfc9" opacity="0.6"/><path d="M275.41 554.44 l-8.65 7.16 l2.05 -2.86z" fill="#e2e5ea" opacity="0.6"/><path d="M219.8 566.11 l1.24 13.72 l2.67 -5.49z" fill="#8a919d" opacity="0.6"/><path d="M259.56 578.05 l-4 6 l3.92 -2.4z" fill="#b9bfc9" opacity="0.6"/><path d="M320.74 535.8 l-5.64 13.28 l4.67 -5.31z" fill="#727985" opacity="0.6"/><path d="M93.6 562.38 l-0.59 11.32 l2.2 -4.53z" fill="#79808c" opacity="0.6"/><path d="M24.41 535.62 l0.32 10.46 l3.08 -4.18z" fill="#e2e5ea" opacity="0.6"/><path d="M40.3 574.37 l7.78 4.88 l5.31 -1.95z" fill="#e2e5ea" opacity="0.6"/><path d="M231.5 552.48 l8.15 8.14 l5.9 -3.25z" fill="#79808c" opacity="0.6"/><path d="M154.8 558.07 l6.59 12.72 l5.96 -5.09z" fill="#79808c" opacity="0.6"/><path d="M164.57 536.5 l-2.04 8.77 l2.29 -3.51z" fill="#b9bfc9" opacity="0.6"/><path d="M111.8 555.54 l-7.97 13.13 l2.16 -5.25z" fill="#8a919d" opacity="0.6"/></g><rect x="16" y="580.5" width="356" height="4.5" fill="#c3c6cd" opacity="0.8"/><rect x="16" y="585" width="356" height="4" fill="#9aa0ab"/><rect x="124.3" y="531" width="1.6" height="58" fill="#4a4d55"/><rect x="251" y="531" width="1.8" height="58" fill="#4a4d55"/><rect x="126" y="531" width="2.5" height="58" fill="#c5cad3" opacity="0.8"/><rect x="253" y="531" width="2.5" height="58" fill="#c5cad3" opacity="0.8"/><rect x="48.5" y="539" width="32" height="34" fill="#e4e1da"/><rect x="51.5" y="543" width="26" height="25.5" fill="#3a3c40"/><rect x="55" y="546.3" width="19" height="19" fill="#f1f0ee"/><rect x="48.5" y="573" width="32" height="4.5" fill="#d2d0cb"/><rect x="172" y="539" width="32" height="34" fill="#e4e1da"/><rect x="175" y="543" width="26" height="25.5" fill="#3a3c40"/><rect x="178.5" y="546.3" width="19" height="19" fill="#f1f0ee"/><rect x="172" y="573" width="32" height="4.5" fill="#d2d0cb"/><rect x="298.8" y="538.5" width="32" height="34" fill="#e4e1da"/><rect x="301.8" y="542.5" width="26" height="25.5" fill="#3a3c40"/><rect x="305.3" y="545.8" width="19" height="19" fill="#f1f0ee"/><rect x="298.8" y="572.5" width="32" height="4.5" fill="#d2d0cb"/></g>
<path d="M16 522.7 H371" stroke="#fff" stroke-width="0.9" stroke-dasharray="4.5 3.5" opacity="0.95"/>
<path d="M16 588.8 H371" stroke="#fff" stroke-width="0.9" stroke-dasharray="4.5 3.5" opacity="0.8"/>
<g class="l" fill="#231f20" text-anchor="middle"><text x="64.5" y="607.3">White paint</text><text><tspan x="185.5" y="600.7">Silica-polymer hybrid</tspan><tspan x="186" y="612.8">radiative cooler</tspan></text><text x="316.2" y="607.3">AS emitter</text></g>
</g>
<g id="D">
<defs>
<clipPath id="cD"><rect x="396" y="296.5" width="302" height="226.3"/></clipPath>
<clipPath id="cDs"><rect x="396" y="522.8" width="302" height="65.7"/></clipPath>
<linearGradient id="dGr" x1="0" y1="0" x2="0" y2="1"><stop offset="0" stop-color="#f9b662"/><stop offset="0.25" stop-color="#f5974d"/><stop offset="0.6" stop-color="#ef7a3f"/><stop offset="1" stop-color="#e75a32"/></linearGradient>
<linearGradient id="dTr" x1="0" y1="0" x2="0" y2="1"><stop offset="0" stop-color="#2a5a9d"/><stop offset="0.7" stop-color="#306bad"/><stop offset="1" stop-color="#3d84bf"/></linearGradient>
<filter id="dB1" x="-5%" y="-5%" width="110%" height="110%"><feGaussianBlur stdDeviation="0.8"/></filter>
<filter id="dB2" x="-5%" y="-5%" width="110%" height="110%"><feGaussianBlur stdDeviation="2"/></filter>
</defs>
<g clip-path="url(#cD)">
<rect x="396" y="296" width="303" height="140" fill="#244480"/>
<path d="M396 322 C430 326 470 338 520 346 C560 352 610 352 650 346 C665 336 680 326 698 322 V400 H396Z" fill="#264987" filter="url(#dB2)"/>
<path d="M396 352 L503 352 L507 371 L520 372 L545 370 L560 371 L575 372 L588 368 L612 360 L618 359 L640 354 L660 352 L680 350 L698 351 V437 H396Z" fill="url(#dTr)" filter="url(#dB1)"/>
<g filter="url(#dB1)"><rect x="464.47" y="422.11" width="2.18" height="5.57" fill="#2b5c9f" opacity="0.55"/><rect x="437.33" y="414.56" width="2.23" height="13.34" fill="#306aac" opacity="0.55"/><rect x="534.66" y="396.66" width="3.51" height="16.67" fill="#2c61a4" opacity="0.55"/><rect x="517.61" y="398.25" width="3.95" height="11.76" fill="#285394" opacity="0.55"/><rect x="539.25" y="419.56" width="3.82" height="6.26" fill="#2a5899" opacity="0.55"/><rect x="641.9" y="393.32" width="1.88" height="5.75" fill="#3d84bf" opacity="0.55"/><rect x="466.79" y="378.3" width="4.65" height="12.56" fill="#306aac" opacity="0.55"/><rect x="438.93" y="377.22" width="3.21" height="7.52" fill="#285394" opacity="0.55"/><rect x="681.71" y="402.95" width="2.5" height="9.64" fill="#2c61a4" opacity="0.55"/><rect x="661.18" y="380.75" width="3.36" height="9.08" fill="#2a5899" opacity="0.55"/><rect x="503.82" y="406.2" width="3.26" height="7.57" fill="#2c61a4" opacity="0.55"/><rect x="441.35" y="400.44" width="3.8" height="15.51" fill="#306aac" opacity="0.55"/><rect x="654.73" y="419.65" width="2.27" height="8.17" fill="#306aac" opacity="0.55"/><rect x="399.6" y="391.16" width="1.62" height="8.31" fill="#316fb1" opacity="0.55"/><rect x="486.1" y="409.27" width="2.11" height="10.15" fill="#3d84bf" opacity="0.55"/><rect x="446.19" y="407.16" width="2.21" height="14.96" fill="#285394" opacity="0.55"/><rect x="486.61" y="374.66" width="2.7" height="7.21" fill="#3d84bf" opacity="0.55"/><rect x="527.55" y="385.59" width="3.47" height="10.29" fill="#3d84bf" opacity="0.55"/><rect x="420.2" y="377.5" width="1.62" height="13.62" fill="#2a5899" opacity="0.55"/><rect x="626.81" y="400.36" width="4.33" height="11.56" fill="#2b5c9f" opacity="0.55"/><rect x="609.87" y="423" width="2.16" height="16.86" fill="#2a5899" opacity="0.55"/><rect x="498.92" y="406.91" width="4.1" height="9.57" fill="#2a5899" opacity="0.55"/><rect x="687.42" y="374.15" width="2.24" height="16.38" fill="#2c61a4" opacity="0.55"/><rect x="406" y="422.26" width="2.12" height="17.61" fill="#2b5c9f" opacity="0.55"/><rect x="529.34" y="378.17" width="3.24" height="11.15" fill="#2e66a8" opacity="0.55"/><rect x="442.66" y="380.1" width="3.77" height="14.35" fill="#2c61a4" opacity="0.55"/><rect x="551.37" y="378.52" width="3.47" height="15.61" fill="#2c61a4" opacity="0.55"/><rect x="533.51" y="376.55" width="3.06" height="6.41" fill="#285394" opacity="0.55"/><rect x="614.99" y="409.42" width="3.79" height="15.78" fill="#285394" opacity="0.55"/><rect x="555.42" y="422.93" width="4.37" height="12.4" fill="#306aac" opacity="0.55"/><rect x="547.46" y="390.21" width="4.1" height="13.41" fill="#3d84bf" opacity="0.55"/><rect x="398.02" y="404.66" width="4.1" height="17.06" fill="#2a5899" opacity="0.55"/><rect x="692.48" y="385.18" width="1.78" height="10.45" fill="#316fb1" opacity="0.55"/><rect x="620.76" y="414.34" width="3.31" height="13.13" fill="#377ab8" opacity="0.55"/><rect x="685.03" y="413.16" width="3.78" height="6.42" fill="#316fb1" opacity="0.55"/><rect x="542.53" y="392.93" width="2.22" height="10.16" fill="#316fb1" opacity="0.55"/><rect x="511.81" y="419.95" width="4.78" height="14.46" fill="#306aac" opacity="0.55"/><rect x="643.92" y="404.25" width="3.86" height="7.55" fill="#377ab8" opacity="0.55"/><rect x="644.45" y="399.37" width="2.44" height="5.89" fill="#2a5899" opacity="0.55"/><rect x="617.4" y="387.54" width="4.23" height="13.12" fill="#3d84bf" opacity="0.55"/><rect x="645.14" y="423.34" width="4.31" height="11.56" fill="#316fb1" opacity="0.55"/><rect x="479.75" y="418.42" width="2.36" height="8.2" fill="#3d84bf" opacity="0.55"/><rect x="470.9" y="399.24" width="2.37" height="15.57" fill="#2c61a4" opacity="0.55"/><rect x="576.17" y="415.49" width="3.24" height="6.37" fill="#377ab8" opacity="0.55"/><rect x="429.71" y="378.21" width="4.23" height="17.91" fill="#2b5c9f" opacity="0.55"/><rect x="673.98" y="413.31" width="1.58" height="7.49" fill="#2b5c9f" opacity="0.55"/><rect x="475.92" y="378.77" width="4.54" height="16.77" fill="#2c61a4" opacity="0.55"/><rect x="675.45" y="378.63" width="4.53" height="13.49" fill="#377ab8" opacity="0.55"/><rect x="492.62" y="375.94" width="4.51" height="13.5" fill="#2a5899" opacity="0.55"/><rect x="506.61" y="415.42" width="4.04" height="12.8" fill="#2e66a8" opacity="0.55"/><rect x="492.43" y="388.83" width="4.89" height="5.86" fill="#377ab8" opacity="0.55"/><rect x="667.84" y="419.83" width="3.02" height="7.04" fill="#377ab8" opacity="0.55"/><rect x="665.85" y="381.44" width="1.85" height="7.89" fill="#2a5899" opacity="0.55"/><rect x="484.53" y="382.83" width="1.88" height="5.66" fill="#2e66a8" opacity="0.55"/><rect x="563.87" y="410.81" width="3.46" height="9.25" fill="#2b5c9f" opacity="0.55"/><rect x="662.33" y="410.81" width="1.89" height="14.34" fill="#2c61a4" opacity="0.55"/><rect x="421.06" y="380.87" width="2.29" height="7.83" fill="#2b5c9f" opacity="0.55"/><rect x="448.52" y="380.75" width="1.71" height="16.54" fill="#2c61a4" opacity="0.55"/><rect x="572.84" y="404.69" width="4.35" height="10.68" fill="#3d84bf" opacity="0.55"/><rect x="603.34" y="410.86" width="3.92" height="17.78" fill="#377ab8" opacity="0.55"/><rect x="543.87" y="392.33" width="2.16" height="8.46" fill="#306aac" opacity="0.55"/><rect x="681.58" y="415.65" width="3.25" height="17.63" fill="#316fb1" opacity="0.55"/><rect x="557.17" y="420.84" width="4.32" height="12.39" fill="#316fb1" opacity="0.55"/><rect x="513.98" y="380.74" width="3.77" height="6.62" fill="#2c61a4" opacity="0.55"/><rect x="515.01" y="375.75" width="3.27" height="8.85" fill="#377ab8" opacity="0.55"/><rect x="509.28" y="375.38" width="4.41" height="5.19" fill="#2b5c9f" opacity="0.55"/><rect x="645.97" y="396.45" width="4.19" height="15.94" fill="#2b5c9f" opacity="0.55"/><rect x="566.36" y="402.94" width="2.8" height="11.53" fill="#2a5899" opacity="0.55"/><rect x="694.34" y="409.79" width="4.95" height="9.66" fill="#377ab8" opacity="0.55"/><rect x="681.92" y="406.51" width="4.45" height="13.4" fill="#2c61a4" opacity="0.55"/><rect x="540" y="402.82" width="4.14" height="10.58" fill="#377ab8" opacity="0.55"/><rect x="620.29" y="407.51" width="4.75" height="13.62" fill="#2b5c9f" opacity="0.55"/><rect x="592.51" y="377.05" width="3.28" height="11.29" fill="#2e66a8" opacity="0.55"/><rect x="539.75" y="382.66" width="3.76" height="15.22" fill="#2b5c9f" opacity="0.55"/><rect x="632.53" y="411.07" width="3.09" height="8.85" fill="#316fb1" opacity="0.55"/><rect x="517.73" y="398.86" width="3.25" height="13.5" fill="#2a5899" opacity="0.55"/><rect x="498.99" y="402.92" width="2.76" height="12.81" fill="#2a5899" opacity="0.55"/><rect x="533.84" y="397.5" width="2.21" height="11.8" fill="#3d84bf" opacity="0.55"/><rect x="574.21" y="413.1" width="4.38" height="6.15" fill="#306aac" opacity="0.55"/><rect x="635.51" y="411.95" width="2.02" height="10.21" fill="#2e66a8" opacity="0.55"/><rect x="682.21" y="413.96" width="1.55" height="10.76" fill="#2a5899" opacity="0.55"/><rect x="646.36" y="389.82" width="4.92" height="14.57" fill="#285394" opacity="0.55"/><rect x="618.76" y="402.79" width="1.54" height="15.56" fill="#316fb1" opacity="0.55"/><rect x="495.38" y="416.73" width="2.32" height="16.01" fill="#3d84bf" opacity="0.55"/><rect x="658.59" y="408.08" width="3.29" height="11.26" fill="#306aac" opacity="0.55"/><rect x="693.87" y="409.84" width="4.67" height="10.53" fill="#3d84bf" opacity="0.55"/><rect x="440.62" y="381.3" width="4.78" height="10.67" fill="#377ab8" opacity="0.55"/><rect x="411.05" y="394.49" width="4.97" height="8.7" fill="#2e66a8" opacity="0.55"/><rect x="628.45" y="389.75" width="2.29" height="10.16" fill="#2b5c9f" opacity="0.55"/><rect x="605.31" y="387.16" width="2.47" height="5.28" fill="#306aac" opacity="0.55"/><rect x="635.99" y="409.16" width="2.16" height="15.5" fill="#2e66a8" opacity="0.55"/><rect x="593.89" y="417.32" width="2.05" height="15.72" fill="#2c61a4" opacity="0.55"/><rect x="468.14" y="419.33" width="2.71" height="11.58" fill="#3d84bf" opacity="0.55"/><rect x="663.45" y="408.19" width="4.54" height="17.62" fill="#2c61a4" opacity="0.55"/><rect x="582.51" y="404.84" width="1.84" height="11.74" fill="#2c61a4" opacity="0.55"/><rect x="497.72" y="421.3" width="2.34" height="7.87" fill="#306aac" opacity="0.55"/><rect x="614.25" y="403.87" width="2.68" height="6.67" fill="#2e66a8" opacity="0.55"/><rect x="629.85" y="377.61" width="4.97" height="6.83" fill="#377ab8" opacity="0.55"/><rect x="467.46" y="403.69" width="4.73" height="10.19" fill="#285394" opacity="0.55"/><rect x="628.2" y="379.93" width="3.87" height="17.02" fill="#3d84bf" opacity="0.55"/><rect x="655.12" y="394.56" width="3.21" height="12.12" fill="#285394" opacity="0.55"/><rect x="662.99" y="422.78" width="1.56" height="5.2" fill="#2e66a8" opacity="0.55"/><rect x="608.75" y="408.38" width="2.8" height="11.29" fill="#377ab8" opacity="0.55"/><rect x="571.36" y="404.57" width="1.69" height="10.78" fill="#2a5899" opacity="0.55"/><rect x="420.58" y="375.41" width="3.71" height="5.97" fill="#2e66a8" opacity="0.55"/><rect x="497.27" y="393.23" width="4.74" height="12.87" fill="#377ab8" opacity="0.55"/><rect x="687.28" y="410.82" width="3.7" height="17.61" fill="#316fb1" opacity="0.55"/><rect x="682.93" y="397.88" width="3.55" height="8.2" fill="#2c61a4" opacity="0.55"/><rect x="639.02" y="423.06" width="3.3" height="11.61" fill="#285394" opacity="0.55"/><rect x="517.11" y="396.44" width="4.57" height="13.69" fill="#2c61a4" opacity="0.55"/><rect x="692.97" y="402.69" width="4.33" height="7.23" fill="#306aac" opacity="0.55"/><rect x="495.55" y="388.67" width="4.83" height="13.11" fill="#306aac" opacity="0.55"/><rect x="530.89" y="383.13" width="4.12" height="16.51" fill="#2b5c9f" opacity="0.55"/><rect x="693.29" y="391.66" width="3.87" height="12.89" fill="#285394" opacity="0.55"/><rect x="479.15" y="419.57" width="4.42" height="17.43" fill="#306aac" opacity="0.55"/><rect x="538.48" y="388.25" width="3.17" height="5.86" fill="#2e66a8" opacity="0.55"/><rect x="415.04" y="416.48" width="2.14" height="6.32" fill="#2a5899" opacity="0.55"/><rect x="433.39" y="383.21" width="2.63" height="8.09" fill="#2c61a4" opacity="0.55"/><rect x="454.33" y="386.49" width="1.6" height="9.53" fill="#3d84bf" opacity="0.55"/><rect x="432.03" y="399.82" width="3.54" height="10.77" fill="#285394" opacity="0.55"/><rect x="507.18" y="390.43" width="1.87" height="16.34" fill="#2a5899" opacity="0.55"/><rect x="524.18" y="396.5" width="1.6" height="6.64" fill="#2b5c9f" opacity="0.55"/><rect x="531.3" y="390.65" width="4.69" height="10.51" fill="#306aac" opacity="0.55"/><rect x="429.41" y="393" width="4.42" height="15.1" fill="#3d84bf" opacity="0.55"/><rect x="613.08" y="385.77" width="2.47" height="12.29" fill="#2e66a8" opacity="0.55"/><rect x="597.51" y="419.96" width="2.24" height="11.78" fill="#2b5c9f" opacity="0.55"/><rect x="642.16" y="390.68" width="1.8" height="7.14" fill="#377ab8" opacity="0.55"/><rect x="492.45" y="415.49" width="4.8" height="8.9" fill="#3d84bf" opacity="0.55"/><rect x="462.33" y="419.81" width="4.66" height="7.87" fill="#2a5899" opacity="0.55"/><rect x="652.45" y="381.97" width="3.23" height="16.37" fill="#2b5c9f" opacity="0.55"/><rect x="560.14" y="378.4" width="4.85" height="10" fill="#316fb1" opacity="0.55"/><rect x="674.25" y="395.78" width="4.06" height="9.03" fill="#2c61a4" opacity="0.55"/><rect x="691.83" y="419.47" width="1.57" height="16.84" fill="#2a5899" opacity="0.55"/><rect x="505.37" y="409.19" width="4.04" height="17.96" fill="#285394" opacity="0.55"/><rect x="608.11" y="376.05" width="3.68" height="12.09" fill="#2b5c9f" opacity="0.55"/><rect x="679.35" y="376.62" width="1.68" height="16.56" fill="#285394" opacity="0.55"/><rect x="492.32" y="386.49" width="4.46" height="9.61" fill="#377ab8" opacity="0.55"/><rect x="548.01" y="400.95" width="2.34" height="16.32" fill="#2a5899" opacity="0.55"/><rect x="589.65" y="383.44" width="2.48" height="13.16" fill="#2e66a8" opacity="0.55"/><rect x="522.6" y="383.59" width="4.17" height="9.11" fill="#2a5899" opacity="0.55"/></g>
<g filter="url(#dB1)"><rect x="396" y="352" width="24" height="30" fill="#4f95c6"/><rect x="396.5" y="354.8" width="1.5" height="23.17" fill="#89c0d3"/><rect x="400.24" y="354.58" width="1.51" height="30.68" fill="#b4d8c6"/><rect x="403.2" y="353.88" width="1.92" height="30.62" fill="#f9d583"/><rect x="406.55" y="353.58" width="1.02" height="23.79" fill="#89c0d3"/><rect x="409.44" y="352.9" width="1.8" height="24.14" fill="#b4d8c6"/><rect x="413" y="354.16" width="1.21" height="21.96" fill="#89c0d3"/><rect x="416.28" y="352.78" width="1.13" height="23.83" fill="#f9d583"/><rect x="422" y="351.5" width="19" height="30" fill="#4f95c6"/><rect x="422.5" y="351.91" width="1.7" height="29.98" fill="#f9d583"/><rect x="425.84" y="354.15" width="1.99" height="29.72" fill="#75b3d2"/><rect x="429.71" y="352.27" width="1.55" height="31.55" fill="#75b3d2"/><rect x="433.06" y="354.15" width="1.67" height="32.16" fill="#f5e195"/><rect x="435.89" y="354.44" width="1.02" height="28.14" fill="#b4d8c6"/><rect x="439.26" y="352.1" width="1.63" height="29.8" fill="#75b3d2"/><rect x="441.5" y="351" width="25.5" height="30" fill="#4f95c6"/><rect x="442" y="351.15" width="1" height="31.28" fill="#75b3d2"/><rect x="444.47" y="353.32" width="1.33" height="32.89" fill="#d3e5b4"/><rect x="447.58" y="352.22" width="1.94" height="26.85" fill="#eeeaa6"/><rect x="451.84" y="352.47" width="1.52" height="32.89" fill="#b4d8c6"/><rect x="455.4" y="352.28" width="1.09" height="25.42" fill="#f5e195"/><rect x="458.66" y="353.86" width="1.55" height="28.43" fill="#89c0d3"/><rect x="462.37" y="352.69" width="1.8" height="29.33" fill="#d3e5b4"/><rect x="469" y="353" width="34.5" height="30" fill="#4f95c6"/><rect x="469.5" y="355.4" width="1.32" height="23.68" fill="#f5e195"/><rect x="471.83" y="353.78" width="1.3" height="25.86" fill="#75b3d2"/><rect x="474.81" y="355.73" width="1.06" height="28.72" fill="#eeeaa6"/><rect x="477.37" y="353.57" width="1.17" height="30.23" fill="#d3e5b4"/><rect x="479.62" y="353.69" width="1.67" height="25.31" fill="#75b3d2"/><rect x="483.58" y="353.1" width="1.1" height="29.28" fill="#eeeaa6"/><rect x="486.65" y="355.15" width="1.08" height="31.94" fill="#eeeaa6"/><rect x="489.47" y="354.99" width="1.78" height="29.12" fill="#eeeaa6"/><rect x="492.43" y="353.86" width="1.71" height="28.98" fill="#f5e195"/><rect x="496.16" y="353.18" width="1.14" height="33.38" fill="#eeeaa6"/><rect x="499.2" y="353.07" width="1.7" height="30.56" fill="#89c0d3"/><rect x="406" y="355" width="2.3" height="22" fill="#f9ba66"/><rect x="431" y="356" width="2.3" height="26" fill="#f9ba66"/><rect x="443" y="353" width="2.3" height="28" fill="#f8ad5a"/><rect x="471" y="356" width="2.3" height="30" fill="#f18343"/><rect x="484" y="354" width="2.3" height="30" fill="#f4924a"/><rect x="412" y="351" width="2.3" height="3" fill="#f18343"/><rect x="425" y="353" width="2.3" height="3" fill="#f18343"/><rect x="447" y="352" width="2.3" height="3" fill="#ee743c"/><rect x="459" y="353" width="2.3" height="3" fill="#f18343"/><rect x="480" y="356" width="2.3" height="3" fill="#ea6436"/><rect x="496" y="359" width="2.3" height="3" fill="#ea6436"/><rect x="505" y="374" width="4" height="10" fill="#f5e195"/><rect x="509" y="370" width="6" height="4" fill="#f8ad5a"/><rect x="515" y="370" width="8" height="3" fill="#f18343"/><rect x="523" y="371" width="10" height="3" fill="#f9d583"/><rect x="533" y="372" width="12" height="3" fill="#eeeaa6"/><rect x="541" y="368" width="6" height="8" fill="#f9ba66"/><rect x="547" y="364" width="8" height="10" fill="#f4924a"/><rect x="553" y="364" width="6" height="5" fill="#e55330"/><rect x="556" y="369" width="6" height="8" fill="#f9d583"/><rect x="589" y="361" width="24" height="34" fill="#75b3d2"/><rect x="590" y="362" width="4" height="30" fill="#f9ba66"/><rect x="593.5" y="361" width="3.6" height="32" fill="#e55330"/><rect x="598" y="362" width="12" height="30" fill="#65a7ce" opacity="0.8"/><rect x="560" y="366" width="28" height="8" fill="#b4d8c6" opacity="0.8"/><ellipse cx="647" cy="367.5" rx="3.5" ry="2.5" fill="#f5e195"/><ellipse cx="686.5" cy="383" rx="3.2" ry="4" fill="#f9ba66"/><ellipse cx="687.5" cy="390" rx="3.5" ry="4" fill="#f9ba66"/><ellipse cx="686.5" cy="384" rx="1.6" ry="2.4" fill="#ea6436"/></g>
<rect x="396" y="423" width="303" height="8" fill="#5da1cb" opacity="0.75" filter="url(#dB1)"/><rect x="396" y="429.5" width="303" height="5" fill="#b4d8c6" opacity="0.9" filter="url(#dB1)"/><rect x="396" y="433.5" width="303" height="4.5" fill="#f9cf7b" filter="url(#dB1)"/>
<rect x="396" y="436.8" width="303" height="87" fill="url(#dGr)"/>
<path d="M396 437 H698 V441 H396Z" fill="#fac16c" opacity="0.7" filter="url(#dB1)"/><path d="M600 434.5 H698 V437.5 H600Z" fill="#e75b33" opacity="0.8"/><path d="M396 506 C420 503 450 501 480 500 C520 498 560 498.5 600 497 C640 494 670 490 698 487 V523 H396Z" fill="#e85d34" filter="url(#dB1)"/><path d="M396 516 C440 510 500 512 560 514 C620 514 660 508 698 504 V523 H396Z" fill="#e34f2f" opacity="0.8" filter="url(#dB2)"/><path d="M396 505 C420 502 450 500 480 499 C520 496.5 560 497 600 495.5 C640 492.5 670 488.5 698 485.5 L698 488.5 C670 491.5 640 495.5 600 498.5 C560 500 520 499.5 480 502 C450 503 420 505 396 508Z" fill="#fac16c" opacity="0.85" filter="url(#dB1)"/><path d="M500 497 L520 499 L420 523 L396 523 L396 519Z" fill="#f5994e" opacity="0.55" filter="url(#dB1)"/><path d="M396 462 C440 456 480 462 505 470 L505 486 C470 480 430 478 396 486Z" fill="#ee743c" opacity="0.45" filter="url(#dB2)"/><path d="M600 452 C640 448 670 452 698 448 V474 C660 480 630 474 600 478Z" fill="#f7a656" opacity="0.45" filter="url(#dB2)"/><rect x="482" y="486" width="20" height="10" fill="#f9cf7b" opacity="0.85" filter="url(#dB1)"/><rect x="489" y="481" width="10" height="7" fill="#f9ba66" opacity="0.7" filter="url(#dB1)"/>
<rect x="399" y="421" width="13" height="15.5" fill="#f9ba66"/><rect x="400.5" y="422" width="2.2" height="13" fill="#de422d"/><rect x="404" y="422" width="7" height="13" fill="#f6a052" opacity="0.7"/><ellipse cx="465.5" cy="431.5" rx="6.5" ry="3.8" fill="#de422d"/><ellipse cx="470.5" cy="428.5" rx="2.5" ry="1.8" fill="#de422d"/><ellipse cx="503.5" cy="432" rx="3.5" ry="3" fill="#ea6436"/><ellipse cx="515.5" cy="431.3" rx="6.8" ry="4" fill="#de422d"/><rect x="544.5" y="420" width="3" height="16" fill="#fac872"/><rect x="604.5" y="420" width="3" height="16" fill="#fac872"/><rect x="647" y="420" width="3" height="16" fill="#fac872"/><rect x="696" y="420" width="3" height="16" fill="#fac872"/><path d="M560 434.6 H592 M612 434.6 H690" stroke="#de422d" stroke-width="2" opacity="0.85"/>
<g filter="url(#dB1)"><rect x="503.5" y="450" width="92" height="46" fill="#fac872" opacity="0.25"/><rect x="502.5" y="447" width="4" height="51" fill="#f1e59d" opacity="0.7"/><rect x="506" y="447" width="4" height="51" fill="#f1e59d" opacity="0.7"/><rect x="530.7" y="447" width="4" height="51" fill="#f1e59d" opacity="0.7"/><rect x="534.5" y="447" width="4" height="51" fill="#f1e59d" opacity="0.7"/><rect x="538" y="447" width="4" height="51" fill="#f1e59d" opacity="0.7"/><rect x="559" y="447" width="4" height="51" fill="#f1e59d" opacity="0.7"/><rect x="564.5" y="447" width="4" height="51" fill="#f1e59d" opacity="0.7"/><rect x="585" y="447" width="4" height="51" fill="#f1e59d" opacity="0.7"/><rect x="591" y="447" width="4" height="51" fill="#f1e59d" opacity="0.7"/><rect x="505" y="485.5" width="90" height="5.2" fill="#f5e195" opacity="0.6"/><rect x="508" y="457.5" width="86" height="18.5" fill="#f59b50"/><path d="M511 462 l8 -2 l5 12 l-9 3z" fill="#f07c40"/><path d="M541 462 l8 -2 l5 12 l-9 3z" fill="#f07c40"/><path d="M570 462 l8 -2 l5 12 l-9 3z" fill="#f18343"/><path d="M510 459 C516 457 522 462 528 460 C534 458 540 464 546 461 C552 458 556 463 562 460 C568 457 574 462 580 459 C586 457 590 460 594 459 L594 463 C588 466 582 462 576 465 C570 468 566 462 560 465 C554 468 548 466 544 469 C538 466 532 468 528 465 C522 467 516 464 510 465Z" fill="#6dadd0"/><path d="M536 460 l5 1 l-1 9 l-4 -2z M563 459 l5 2 l-3 7 l-3 -3z M579 461 l7 -1 l-2 12 l-5 -1z" fill="#438ac2"/><path d="M545 470 l10 -5 l2 2 l-10 6z M571 470 l8 -4 l1 3 l-8 4z" fill="#93c7d3"/><rect x="520.5" y="464" width="4.6" height="7" fill="#f5e195"/><rect x="503.5" y="447.5" width="2" height="50.5" fill="#8fc4d3"/><rect x="507" y="447.5" width="2" height="50.5" fill="#8fc4d3"/><rect x="531.7" y="447.5" width="2" height="50.5" fill="#8fc4d3"/><rect x="535.5" y="447.5" width="2" height="50.5" fill="#8fc4d3"/><rect x="539" y="447.5" width="2" height="50.5" fill="#8fc4d3"/><rect x="560" y="447.5" width="2" height="50.5" fill="#8fc4d3"/><rect x="565.5" y="447.5" width="2" height="50.5" fill="#8fc4d3"/><rect x="586" y="447.5" width="2" height="50.5" fill="#8fc4d3"/><rect x="592" y="447.5" width="2" height="50.5" fill="#8fc4d3"/><rect x="505" y="486.8" width="90" height="2.6" fill="#7fbad2"/><path d="M520 487 h8 v2.4 h-8z M548 487 h10 v2.6 h-10z M574 486.6 h8 v2.6 h-8z" fill="#438ac2"/><rect x="505" y="476.8" width="90" height="1.6" fill="#9ecdcf" opacity="0.9"/></g>
<ellipse cx="620" cy="510" rx="3.2" ry="2.5" fill="#f5e195" filter="url(#dB1)"/><path d="M476 494 l3 -6 l3 6z" fill="#b4d8c6" opacity="0.7"/><g stroke="#fff" stroke-width="0.9" fill="none" stroke-dasharray="4.5 3.5"><rect x="507.9" y="454.8" width="86.5" height="23" stroke-dasharray="5 3" opacity="0.85"/><path d="M504 479.5 L398.5 521.5"/><path d="M596 478 L696 520.5"/></g>
</g>
<g clip-path="url(#cDs)"><rect x="396" y="522" width="303" height="67" fill="#fac872"/><rect x="420.2" y="528.7" width="53.1" height="57.6" rx="2" fill="#f9d583"/><rect x="421" y="529.5" width="51.5" height="56" rx="2" fill="#f18343"/><rect x="476.7" y="528.7" width="55.1" height="57.6" rx="2" fill="#f9d583"/><rect x="477.5" y="529.5" width="53.5" height="56" rx="2" fill="#f18343"/><rect x="558.5" y="528.7" width="53.7" height="57.6" rx="2" fill="#f9d583"/><rect x="559.3" y="529.5" width="52.1" height="56" rx="2" fill="#f18343"/><rect x="612.6" y="528.7" width="50.6" height="57.6" rx="2" fill="#f9d583"/><rect x="613.4" y="529.5" width="49" height="56" rx="2" fill="#f18343"/><rect x="687.2" y="530.2" width="12.6" height="56.6" rx="2" fill="#f9d583"/><rect x="688" y="531" width="11" height="55" rx="2" fill="#f18343"/><g filter="url(#dB1)"><path d="M464.05 547.66 l5.28 10.32 l9.4 -5.16z" fill="#e55330" opacity="0.7"/><path d="M435.48 553.43 l-5.33 17.55 l4.56 -8.77z" fill="#ea6436" opacity="0.7"/><path d="M436.68 561.06 l0.09 11.36 l5.88 -5.68z" fill="#e55330" opacity="0.7"/><path d="M459.71 547.86 l-7.96 11.13 l11 -5.57z" fill="#ea6436" opacity="0.7"/><path d="M432.47 535.71 l9.73 6.95 l8.92 -3.48z" fill="#ee743c" opacity="0.7"/><path d="M430.57 549.17 l9.25 17.97 l4.6 -8.98z" fill="#f6a052" opacity="0.7"/><path d="M445.98 542.99 l3.05 10.21 l6.17 -5.11z" fill="#ec6c39" opacity="0.7"/><path d="M458.56 550.06 l-3.33 6.75 l5.81 -3.37z" fill="#e75b33" opacity="0.7"/><path d="M425.01 536.09 l9.78 16.82 l10.95 -8.41z" fill="#f4924a" opacity="0.7"/><path d="M428.72 561.78 l8.94 14.23 l10.93 -7.11z" fill="#ea6436" opacity="0.7"/><path d="M438.63 558.66 l2.23 15.95 l6.73 -7.98z" fill="#e55330" opacity="0.7"/><path d="M440.41 542.97 l0.97 14.89 l4.59 -7.44z" fill="#f4924a" opacity="0.7"/><path d="M449.18 568.14 l-7 7.65 l11.01 -3.83z" fill="#f4924a" opacity="0.7"/><path d="M448.21 540.12 l1.88 9.53 l4.7 -4.76z" fill="#ec6c39" opacity="0.7"/><path d="M459.21 543.65 l-4.88 13.42 l6.81 -6.71z" fill="#e75b33" opacity="0.7"/><path d="M435.15 538.77 l0.05 9.57 l9.82 -4.79z" fill="#f4924a" opacity="0.7"/><path d="M423.74 569.88 l5.83 12.61 l8.58 -6.3z" fill="#ee743c" opacity="0.7"/><path d="M459.21 556.07 l-4.47 9.1 l7.59 -4.55z" fill="#ee743c" opacity="0.7"/><path d="M461.24 541.4 l-0.38 10.91 l10.97 -5.45z" fill="#f7a656" opacity="0.7"/><path d="M451.58 537.8 l-7.96 14.31 l4.87 -7.16z" fill="#ee743c" opacity="0.7"/><path d="M437.75 549.56 l0.65 7.13 l4.57 -3.57z" fill="#ee743c" opacity="0.7"/><path d="M455.08 548.02 l-6.75 10.02 l8 -5.01z" fill="#ee743c" opacity="0.7"/><path d="M517.97 556.94 l-5.4 13.94 l5.04 -6.97z" fill="#ea6436" opacity="0.7"/><path d="M502 568.18 l-2.62 15.9 l8.63 -7.95z" fill="#e55330" opacity="0.7"/><path d="M480.18 560.57 l-0.16 8.25 l6.49 -4.12z" fill="#f6a052" opacity="0.7"/><path d="M486.66 541.96 l-5.28 13.42 l7.43 -6.71z" fill="#ee743c" opacity="0.7"/><path d="M506.98 566.7 l9.13 9.78 l4.33 -4.89z" fill="#e75b33" opacity="0.7"/><path d="M501.9 554.14 l5.84 11.06 l8.1 -5.53z" fill="#ee743c" opacity="0.7"/><path d="M513.74 534.67 l-3.84 17.99 l4.11 -9z" fill="#ee743c" opacity="0.7"/><path d="M491.14 558.19 l-3.81 6.42 l7.35 -3.21z" fill="#ee743c" opacity="0.7"/><path d="M501.24 562.09 l10.85 10.14 l6.42 -5.07z" fill="#ea6436" opacity="0.7"/><path d="M480.66 548.9 l2.42 9.61 l7.26 -4.8z" fill="#e55330" opacity="0.7"/><path d="M499.43 534.65 l10.76 7.47 l8.96 -3.74z" fill="#ec6c39" opacity="0.7"/><path d="M487.59 540.25 l8.68 7.52 l6.93 -3.76z" fill="#e75b33" opacity="0.7"/><path d="M509.63 567.94 l-4.76 6.21 l6.57 -3.11z" fill="#ea6436" opacity="0.7"/><path d="M482.77 564.71 l6.49 10.2 l4.35 -5.1z" fill="#ea6436" opacity="0.7"/><path d="M487.59 536.55 l-0.38 7.93 l9.71 -3.97z" fill="#e55330" opacity="0.7"/><path d="M513.51 545.46 l-7.15 16.8 l6.69 -8.4z" fill="#ea6436" opacity="0.7"/><path d="M505.04 551.19 l2.38 14.99 l5.15 -7.5z" fill="#f7a656" opacity="0.7"/><path d="M501.04 553.69 l5.51 10.82 l4.02 -5.41z" fill="#e55330" opacity="0.7"/><path d="M518.87 545.83 l-5.71 12.16 l11.25 -6.08z" fill="#f4924a" opacity="0.7"/><path d="M511.79 548.66 l6.08 8.57 l9.45 -4.29z" fill="#ee743c" opacity="0.7"/><path d="M496.45 543.34 l3.49 17.91 l11.42 -8.95z" fill="#ec6c39" opacity="0.7"/><path d="M481.32 551.24 l-5.35 12.87 l4.1 -6.44z" fill="#f4924a" opacity="0.7"/><path d="M580.44 538.48 l0.29 9.74 l7.87 -4.87z" fill="#f7a656" opacity="0.7"/><path d="M596.11 556.36 l-1.12 15.86 l11.9 -7.93z" fill="#ee743c" opacity="0.7"/><path d="M576.31 570.01 l8.88 10.92 l5.11 -5.46z" fill="#f4924a" opacity="0.7"/><path d="M595.13 568.52 l0.01 8.81 l8.19 -4.4z" fill="#ec6c39" opacity="0.7"/><path d="M569.04 533.42 l-5.05 15.8 l4.8 -7.9z" fill="#f6a052" opacity="0.7"/><path d="M586.65 534.16 l8.57 12.47 l5.62 -6.23z" fill="#f6a052" opacity="0.7"/><path d="M588.14 562.49 l-3.03 16.5 l5.75 -8.25z" fill="#ec6c39" opacity="0.7"/><path d="M595.86 543.71 l-3.01 8.04 l4.52 -4.02z" fill="#ee743c" opacity="0.7"/><path d="M583.44 569.54 l-6.07 10.79 l4.43 -5.4z" fill="#f7a656" opacity="0.7"/><path d="M602.56 540.32 l9.7 9.2 l10.31 -4.6z" fill="#ee743c" opacity="0.7"/><path d="M575.92 556.25 l-4.8 11.21 l4.84 -5.6z" fill="#e75b33" opacity="0.7"/><path d="M598.7 557.34 l1.96 14.54 l9.63 -7.27z" fill="#ea6436" opacity="0.7"/><path d="M567.67 554.3 l8.97 10.45 l4.04 -5.22z" fill="#e75b33" opacity="0.7"/><path d="M572.55 566.6 l1.43 10.55 l9.65 -5.28z" fill="#e75b33" opacity="0.7"/><path d="M591.22 566.81 l12 8.12 l7.2 -4.06z" fill="#f6a052" opacity="0.7"/><path d="M572.16 540.64 l3.53 6.79 l11.3 -3.4z" fill="#f4924a" opacity="0.7"/><path d="M584.87 532.5 l-2.25 12.12 l9.89 -6.06z" fill="#f7a656" opacity="0.7"/><path d="M568.11 556.72 l-3.73 14.6 l7.78 -7.3z" fill="#ea6436" opacity="0.7"/><path d="M586.9 558.01 l9.13 14.89 l6.07 -7.44z" fill="#e75b33" opacity="0.7"/><path d="M587.26 552.48 l6.04 16 l6.34 -8z" fill="#e75b33" opacity="0.7"/><path d="M592.48 561.12 l-3.35 14.16 l5.48 -7.08z" fill="#f7a656" opacity="0.7"/><path d="M594.24 567.06 l-2.8 7.48 l9.38 -3.74z" fill="#ea6436" opacity="0.7"/><path d="M631.1 538.51 l11.41 7.19 l10.9 -3.59z" fill="#ea6436" opacity="0.7"/><path d="M618.02 552.66 l-4.84 11.29 l10.2 -5.65z" fill="#e75b33" opacity="0.7"/><path d="M616.53 542.73 l10.26 9.96 l7.76 -4.98z" fill="#ec6c39" opacity="0.7"/><path d="M640.88 570.23 l-4.33 6.36 l6.39 -3.18z" fill="#e75b33" opacity="0.7"/><path d="M624.41 544.44 l11.63 16.35 l11.68 -8.18z" fill="#ea6436" opacity="0.7"/><path d="M637.67 567.84 l7.09 7.85 l10.56 -3.92z" fill="#f6a052" opacity="0.7"/><path d="M634.95 557.59 l5.76 7.96 l9.69 -3.98z" fill="#ee743c" opacity="0.7"/><path d="M629.52 549.94 l7 14.98 l7.7 -7.49z" fill="#f4924a" opacity="0.7"/><path d="M639.21 564.92 l-2.17 7.43 l7.26 -3.71z" fill="#ea6436" opacity="0.7"/><path d="M637.12 570.2 l-1.77 16.74 l8.32 -8.37z" fill="#ea6436" opacity="0.7"/><path d="M642.21 560.28 l-5.83 12.72 l6.46 -6.36z" fill="#ee743c" opacity="0.7"/><path d="M645.58 541.75 l5.04 14.15 l7.43 -7.08z" fill="#f7a656" opacity="0.7"/><path d="M631.98 535.89 l-3.06 16.87 l9.5 -8.44z" fill="#ee743c" opacity="0.7"/><path d="M624.36 561.58 l9.73 12.51 l6.09 -6.25z" fill="#f6a052" opacity="0.7"/><path d="M638.78 565.24 l-3.54 12.37 l10.25 -6.19z" fill="#e55330" opacity="0.7"/><path d="M628.35 552.79 l-0.46 13.63 l10.06 -6.82z" fill="#f4924a" opacity="0.7"/><path d="M653.88 533.09 l-3.72 6.78 l5.37 -3.39z" fill="#ec6c39" opacity="0.7"/><path d="M635.12 532.32 l5.11 8.9 l8.22 -4.45z" fill="#ee743c" opacity="0.7"/><path d="M645.86 547.31 l2.31 16.06 l11.31 -8.03z" fill="#ec6c39" opacity="0.7"/><path d="M652.83 569.11 l2.97 6.97 l8.35 -3.49z" fill="#ec6c39" opacity="0.7"/><path d="M632.23 543.23 l7.7 17.04 l8.07 -8.52z" fill="#e75b33" opacity="0.7"/><path d="M645.57 568.99 l-6.81 16.42 l9.88 -8.21z" fill="#ea6436" opacity="0.7"/><path d="M430 560 C440 550 460 552 470 560 L470 584 L428 584Z" fill="#e75a32" opacity="0.7"/><path d="M480 560 C495 566 515 560 528 568 L528 584 L480 584Z" fill="#e85f34" opacity="0.6"/><path d="M424 532 L446 531 L432 548 L424 552Z" fill="#f7a656" opacity="0.7"/><path d="M562 560 L590 548 L608 560 L600 584 L566 584Z" fill="#f6a052" opacity="0.6"/></g><rect x="396" y="522" width="303" height="8.5" fill="#4187c0"/><rect x="396" y="522" width="26" height="9" fill="#6dadd0"/><rect x="396" y="529" width="303" height="2.2" fill="#9ecdcf" opacity="0.55"/><rect x="396" y="522" width="303" height="2" fill="#75b3d2" opacity="0.7"/><rect x="396" y="530.5" width="26.5" height="41" fill="#95c8d2"/><rect x="396" y="530.5" width="26.5" height="7" fill="#b4d8c6"/><rect x="396" y="571.3" width="28" height="3" fill="#f5994e"/><rect x="398" y="574.3" width="25.6" height="9.3" fill="#bddcc1"/><rect x="396" y="583.6" width="28" height="2.4" fill="#f5994e"/><rect x="400.5" y="544.5" width="20.5" height="20.1" fill="#f7dd8e"/><rect x="472.8" y="522" width="1.6" height="67" fill="#9ecdcf"/><rect x="474.4" y="531" width="1.4" height="58" fill="#ec6c39"/><rect x="475.8" y="524" width="1.5" height="65" fill="#89c0d3"/><path d="M477 575 l6 2 l-1 8 l-5 1z M478 533 l7 2 l-3 5 l-4 -1z" fill="#65a7ce" opacity="0.85"/><rect x="531" y="530.5" width="28.3" height="43" fill="#8fc4d3"/><rect x="531" y="573" width="28.3" height="10.2" fill="#d3e5b4"/><rect x="531" y="583.2" width="28.3" height="3" fill="#f8ad5a"/><rect x="534.5" y="543.7" width="21.2" height="20" fill="#a7d1cb"/><path d="M510 561 l10 -4 l6 3 l-9 5z M516 572 l9 -3 l3 3 l-8 3z M506 550 l6 -2 l2 3 l-6 2z" fill="#89c0d3" opacity="0.9"/><rect x="611.4" y="522" width="2" height="67" fill="#d3e5b4"/><g filter="url(#dB1)"><path d="M576 527 L607 526 L606 533 C598 537 590 534 583 537 C580 533 577 531 576 527Z" fill="#3474b4"/><path d="M566 534 C572 538 580 541 586 542 L585 545 C578 543 570 540 565 536Z" fill="#559bc9"/><path d="M621.6 553.7 C632 548 645 541 656.3 533.3 L658 535.5 C647 544 634 551 623 556.5Z" fill="#2b5c9f"/><path d="M620 552 C632 546 645 539 656 531.5 L659 536.5 C648 546 634 553 622 558.5Z" fill="#75b3d2" opacity="0.5"/><path d="M620.6 539.5 C628 538 636 537.6 642 537.4 L642 540 C636 540.4 628 541 621 542Z" fill="#316fb1"/><path d="M636 560 C644 554 652 548 660 543 L661 546 C653 551 645 558 638 563Z" fill="#89c0d3"/><path d="M616 580 L660 538 L662 540 L619 583Z" fill="#e0482e" opacity="0.85"/><path d="M640 528 L660 527 L650 534Z" fill="#4990c4"/></g><rect x="662.4" y="530.5" width="25" height="37" fill="#478dc3"/><rect x="662.4" y="567" width="25" height="17" fill="#7bb7d2"/><path d="M662.4 571 h25 M662.4 575.5 h25 M662.4 580 h25" stroke="#a9d2ca" stroke-width="1" opacity="0.6"/><rect x="665" y="544.6" width="20" height="19.6" fill="#3575b5"/><rect x="687.4" y="531" width="1.4" height="55" fill="#eeeaa6"/><rect x="694" y="524" width="5" height="9" fill="#3d84bf"/><rect x="696.5" y="540" width="2" height="9" fill="#89c0d3"/><rect x="396" y="586" width="303" height="3" fill="#f07c40" opacity="0.9"/><path d="M476 586 h10 v3 h-10z M560 585.5 h8 v3 h-8z M606 585.5 h12 v3 h-12z" fill="#75b3d2"/><g stroke="#1a1a1a" stroke-width="0.9" fill="none" stroke-dasharray="4.3 2.6"><rect x="400.5" y="544.5" width="20.5" height="20.1"/><rect x="534.5" y="543.7" width="21.2" height="20"/><rect x="665" y="544.6" width="20" height="19.6"/></g></g>
<path d="M396 522.7 H698" stroke="#fff" stroke-width="0.9" stroke-dasharray="4.5 3.5" opacity="0.9"/>
<path d="M396 588.4 H698" stroke="#fff" stroke-width="0.8" stroke-dasharray="4.5 3.5" opacity="0.7"/>
<rect x="701" y="296.5" width="15.5" height="9.41" fill="#da382b"/><rect x="701" y="305.61" width="15.5" height="9.41" fill="#e1492e"/><rect x="701" y="314.72" width="15.5" height="9.41" fill="#e75932"/><rect x="701" y="323.83" width="15.5" height="9.41" fill="#eb6838"/><rect x="701" y="332.94" width="15.5" height="9.41" fill="#ef773e"/><rect x="701" y="342.05" width="15.5" height="9.41" fill="#f18544"/><rect x="701" y="351.16" width="15.5" height="9.41" fill="#f4934b"/><rect x="701" y="360.27" width="15.5" height="9.41" fill="#f6a052"/><rect x="701" y="369.38" width="15.5" height="9.41" fill="#f8ad5a"/><rect x="701" y="378.48" width="15.5" height="9.41" fill="#f9b965"/><rect x="701" y="387.59" width="15.5" height="9.41" fill="#fac670"/><rect x="701" y="396.7" width="15.5" height="9.41" fill="#f9d280"/><rect x="701" y="405.81" width="15.5" height="9.41" fill="#f7de90"/><rect x="701" y="414.92" width="15.5" height="9.41" fill="#f0e7a0"/><rect x="701" y="424.03" width="15.5" height="9.41" fill="#dee7ae"/><rect x="701" y="433.14" width="15.5" height="9.41" fill="#c3debe"/><rect x="701" y="442.25" width="15.5" height="9.41" fill="#aad3ca"/><rect x="701" y="451.36" width="15.5" height="9.41" fill="#95c8d2"/><rect x="701" y="460.47" width="15.5" height="9.41" fill="#82bcd2"/><rect x="701" y="469.58" width="15.5" height="9.41" fill="#70b0d1"/><rect x="701" y="478.69" width="15.5" height="9.41" fill="#62a4cd"/><rect x="701" y="487.8" width="15.5" height="9.41" fill="#5399c8"/><rect x="701" y="496.91" width="15.5" height="9.41" fill="#488ec4"/><rect x="701" y="506.02" width="15.5" height="9.41" fill="#3d84bf"/><rect x="701" y="515.12" width="15.5" height="9.41" fill="#377ab8"/><rect x="701" y="524.23" width="15.5" height="9.41" fill="#3270b2"/><rect x="701" y="533.34" width="15.5" height="9.41" fill="#2e67a9"/><rect x="701" y="542.45" width="15.5" height="9.41" fill="#2c5ea1"/><rect x="701" y="551.56" width="15.5" height="9.41" fill="#295697"/><rect x="701" y="560.67" width="15.5" height="9.41" fill="#274d8c"/><rect x="701" y="569.78" width="15.5" height="9.41" fill="#254682"/><rect x="701" y="578.89" width="15.5" height="9.41" fill="#233f78"/>
<rect x="701" y="296.5" width="15.5" height="291.5" fill="none" stroke="#231f20" stroke-width="0.6"/><path d="M716.5 296.5h2.2" stroke="#231f20" stroke-width="0.7"/><text class="t" x="720" y="300">55</text><path d="M716.5 345.08h2.2" stroke="#231f20" stroke-width="0.7"/><text class="t" x="720" y="348.58">50</text><path d="M716.5 393.67h2.2" stroke="#231f20" stroke-width="0.7"/><text class="t" x="720" y="397.17">45</text><path d="M716.5 442.25h2.2" stroke="#231f20" stroke-width="0.7"/><text class="t" x="720" y="445.75">40</text><path d="M716.5 490.83h2.2" stroke="#231f20" stroke-width="0.7"/><text class="t" x="720" y="494.33">35</text><path d="M716.5 539.42h2.2" stroke="#231f20" stroke-width="0.7"/><text class="t" x="720" y="542.92">30</text><path d="M716.5 588h2.2" stroke="#231f20" stroke-width="0.7"/><text class="t" x="720" y="591.5">25</text>
<text class="a" transform="translate(741.5 442.5) rotate(-90)" text-anchor="middle">Apparent temperature (°C)</text>
<g class="l" fill="#231f20"><text x="396.5" y="607.3">White paint</text><text text-anchor="middle"><tspan x="547.5" y="600.7">Silica-polymer hybrid</tspan><tspan x="547.5" y="612.8">radiative cooler</tspan></text><text x="650.5" y="607.3">AS emitter</text></g>
</g>
<g id="E">
<polygon points="101.92,799.2 101.92,799.2 102.38,798.81 102.83,798.42 103.29,798.03 103.75,797.65 104.2,797.26 104.66,796.87 105.11,796.48 105.57,796.09 106.03,795.7 106.48,795.31 106.94,794.78 107.39,794.08 107.85,793.38 108.31,792.68 108.76,791.98 109.22,791.28 109.68,790.58 110.13,789.88 110.59,789.18 111.04,788.48 111.5,787.78 111.96,786.81 112.41,785.81 112.87,784.82 113.32,783.82 113.78,782.83 114.24,781.83 114.69,780.84 115.15,779.84 115.61,778.85 116.06,777.85 116.52,776.86 116.97,775.86 117.43,774.87 117.89,773.68 118.34,772.44 118.8,771.19 119.25,769.95 119.71,768.7 120.17,767.46 120.62,766.22 121.08,764.97 121.54,763.73 121.99,762.49 122.45,761.24 122.9,760 123.36,758.76 123.82,757.51 124.27,756.27 124.73,755.03 125.18,753.78 125.64,752.54 126.1,751.32 126.55,750.14 127.01,748.96 127.47,747.78 127.92,746.6 128.38,745.41 128.83,744.23 129.29,743.05 129.75,741.87 130.2,740.69 130.66,739.51 131.11,738.33 131.57,737.15 132.03,735.97 132.48,734.78 132.94,733.6 133.4,732.42 133.85,731.24 134.31,730.06 134.76,728.88 135.22,727.7 135.68,726.52 136.13,725.33 136.59,724.15 137.05,722.97 137.5,721.79 137.96,722.22 138.41,719.99 138.87,719.68 139.33,717.93 139.78,717.88 140.24,715.1 140.69,714.52 141.15,714.22 141.61,713.25 142.06,712.23 142.52,710.35 142.98,708.92 143.43,709.19 143.89,707.35 144.34,705.08 144.8,704.19 145.26,706.07 145.71,701.97 146.17,701.5 146.62,700.84 147.08,698.36 147.54,697.3 147.99,696.45 148.45,694.96 148.91,694.11 149.36,693.54 149.82,692.95 150.27,690.88 150.73,692.11 151.19,689.85 151.64,689.95 152.1,687.47 152.55,688.34 153.01,685.57 153.47,685.75 153.92,684.17 154.38,687.37 154.84,682.28 155.29,682.48 155.75,682.27 156.2,680.07 156.66,679.72 157.12,678.14 157.57,677.66 158.03,676.47 158.48,676.82 158.94,675.4 159.4,674.88 159.85,675.43 160.31,672.8 160.77,672.2 161.22,670.47 161.68,670.87 162.13,669.68 162.59,669.62 163.05,667.9 163.5,668.81 163.96,667.4 164.41,666.19 164.87,666.45 165.33,665.85 165.78,664.88 166.24,665.84 166.7,663.61 167.15,663.26 167.61,662.62 168.06,661.75 168.52,661.07 168.98,660.46 169.43,660.43 169.89,660.39 170.34,659.01 170.8,658.68 171.26,659.31 171.71,658.03 172.17,657.55 172.63,656.61 173.08,655.93 173.54,654.68 173.99,654.89 174.45,655.82 174.91,653.54 175.36,653.64 175.82,654.91 176.27,652.29 176.73,652.85 177.19,652.34 177.64,652.3 178.1,653.62 178.56,652.37 179.01,649.9 179.47,650.27 179.92,649.07 180.38,649.67 180.84,648.28 181.29,648.36 181.75,649.33 182.2,648.8 182.66,647.95 183.12,649.64 183.57,648.87 184.03,648.91 184.49,649.33 184.94,648.25 185.4,650.21 185.85,649.06 186.31,649.03 186.77,650.46 187.22,655.47 187.68,652.8 188.13,647.88 188.59,651.16 189.05,648.96 189.5,660.02 189.96,652.56 190.42,660.16 190.87,653.94 191.33,653.73 191.78,651.45 192.24,650.73 192.7,662.06 193.15,653.08 193.61,650.82 194.06,658.11 194.52,651.07 194.98,660.02 195.43,654.45 195.89,653.62 196.35,655.02 196.8,658.66 197.26,655.08 197.71,653.54 198.17,661.2 198.63,655.95 199.08,655.64 199.54,655.46 199.99,655.91 200.45,654.87 200.91,657.29 201.36,654.02 201.82,655.44 202.28,654.58 202.73,656.3 203.19,658.61 203.64,656.93 204.1,655.92 204.56,661.67 205.01,663.04 205.47,662.64 205.92,656.81 206.38,658.69 206.84,662.82 207.29,658.01 207.75,658.6 208.21,668.71 208.66,659.63 209.12,662.65 209.57,671.24 210.03,666.58 210.49,661 210.94,668.39 211.4,661.79 211.85,669.21 212.31,678.81 212.77,668.01 213.22,666.17 213.68,665.05 214.14,675.53 214.59,666.48 215.05,674.33 215.5,670.46 215.96,678.87 216.42,673.66 216.87,676.02 217.33,678.94 217.79,677.51 218.24,680.07 218.7,677.7 219.15,678.4 219.61,679.89 220.07,679.29 220.52,680.15 220.98,683.52 221.43,681.96 221.89,685.7 222.35,683.88 222.8,691.53 223.26,682.8 223.72,683.97 224.17,689.07 224.63,685.79 225.08,692.57 225.54,695.78 226,691.42 226.45,696 226.91,693.98 227.36,697.35 227.82,692.98 228.28,696.38 228.73,694.46 229.19,697.05 229.65,701.85 230.1,705.88 230.56,706.03 231.01,699.96 231.47,701.86 231.93,704.63 232.38,710.49 232.84,705.54 233.29,708.7 233.75,713.01 234.21,708.21 234.66,709.39 235.12,710.57 235.58,711.75 236.03,712.93 236.49,714.11 236.94,715.29 237.4,716.47 237.86,717.66 238.31,718.84 238.77,720.02 239.22,721.2 239.68,722.38 240.14,723.56 240.59,724.74 241.05,725.92 241.51,727.1 241.96,728.29 242.42,729.47 242.87,730.65 243.33,731.83 243.79,733.01 244.24,734.19 244.7,735.37 245.15,736.55 245.61,737.74 246.07,738.93 246.52,740.17 246.98,741.42 247.44,742.66 247.89,743.9 248.35,745.15 248.8,746.39 249.26,747.63 249.72,748.88 250.17,750.12 250.63,751.36 251.08,752.61 251.54,753.85 252,755.09 252.45,756.34 252.91,757.58 253.37,758.82 253.82,760.07 254.28,761.31 254.73,762.55 255.19,763.8 255.65,765.04 256.1,766.28 256.56,767.53 257.01,768.77 257.47,770.01 257.93,771.26 258.38,772.5 258.84,773.74 259.3,774.99 259.75,776.23 260.21,777.47 260.66,778.72 261.12,779.96 261.58,781.2 262.03,782.45 262.49,783.69 262.94,784.67 263.4,785.18 263.86,785.7 264.31,786.22 264.77,786.74 265.23,787.26 265.68,787.78 266.14,788.29 266.59,788.81 267.05,789.33 267.51,789.85 267.96,790.37 268.42,790.88 268.87,791.4 269.33,791.92 269.79,792.44 270.24,792.82 270.7,793.11 271.16,793.4 271.61,793.69 272.07,793.98 272.52,794.27 272.98,794.56 273.44,794.85 273.89,795.14 274.35,795.44 274.8,795.73 275.26,796.02 275.72,796.31 276.17,796.6 276.63,796.89 277.09,797.18 277.54,797.33 278,797.46 278.45,797.58 278.91,797.71 279.37,797.83 279.82,797.96 280.28,798.08 280.73,798.21 281.19,798.33 281.65,798.45 282.1,798.58 282.56,798.7 283.02,798.83 283.47,798.95 283.93,799.08 284.38,799.2 284.38,799.2" fill="#fdeed1"/>
<path d="M267 782.5H317" stroke="#fbd9b0" stroke-width="0.8"/><path d="M320 782.5l-4-1.6v3.2z" fill="#fbd9b0"/>
<polyline points="41.9,748.33 42.4,749.01 42.9,747.59 43.4,748.44 43.9,747.41 44.4,748 44.9,747.75 45.4,748.01 45.9,749.68 46.4,748.27 46.9,749.15 47.4,749.32 47.9,749.27 48.4,748.73 48.9,748.79 49.4,748.84 49.9,750.42 50.4,749.96 50.9,751.05 51.4,749.93 51.9,749.67 52.4,750.54 52.9,750.11 53.4,750.24 53.9,749.94 54.4,751.06 54.9,751.18 55.4,751.27 55.9,750.02 56.41,750.51 56.91,751.3 57.41,751.23 57.91,751.42 58.41,751.49 58.91,751.84 59.41,752.04 59.91,752.67 60.41,752.45 60.91,751.33 61.41,752.06 61.91,752.43 62.41,752.71 62.91,752.67 63.41,752.63 63.91,753.29 64.41,752.95 64.91,753.03 65.41,753.68 65.91,753.81 66.41,754.03 66.91,754.17 67.41,753.2 67.91,755.07 68.41,754.02 68.91,754.3 69.41,754.4 69.91,754.1 70.41,753.63 70.91,754.29 71.41,754.49 71.91,754.84 72.41,754.66 72.91,754.18 73.41,754.98 73.91,755.47 74.41,755.63 74.91,755.63 75.41,755.87 75.91,754.61 76.41,755.1 76.91,755.52 77.41,754.69 77.91,755.94 78.41,755.27 78.91,755.35 79.41,756.73 79.91,756.84 80.41,756.6 80.91,755.71 81.41,755.61 81.91,757.09 82.41,755.96 82.91,756.85 83.41,756.97 83.91,757.17 84.41,757.15 84.91,758.08 85.42,757.74 85.92,757.98 86.42,757.14 86.92,756.38 87.42,756.13 87.92,757.9 88.42,758.76 88.92,758.14 89.42,758.53 89.92,757.03 90.42,757.9 90.92,758.7 91.42,757.88 91.92,758.19 92.42,759.46 92.92,758.96 93.42,758.89 93.92,758.83 94.42,758.86 94.92,759.2 95.42,759 95.92,759.5 96.42,759.75 96.92,758.51 97.42,759.22 97.92,759.24 98.42,760.42 98.92,759.71 99.42,759.23 99.92,760.44 100.42,759.18 100.92,760.04 101.42,759.66 101.92,759.99 102.42,759.83 102.92,759.33 103.42,760.23 103.92,759.18 104.42,760.47 104.92,760.56 105.42,759.67 105.92,760.63 106.42,760.24 106.92,759.51 107.42,759.31 107.92,760.89 108.42,759.58 108.92,758.76 109.42,759.04 109.92,759.72 110.42,759.79 110.92,759.49 111.42,759.8 111.92,759.13 112.42,758.88 112.92,758.63 113.42,757.64 113.93,758.12 114.43,758.47 114.93,756.74 115.43,757.51 115.93,756.75 116.43,756.12 116.93,755.76 117.43,755.61 117.93,754.67 118.43,752.79 118.93,753.74 119.43,752.89 119.93,751.6 120.43,751.19 120.93,750.55 121.43,749.84 121.93,750.73 122.43,749.45 122.93,748.22 123.43,747.31 123.93,746.16 124.43,745.88 124.93,745.53 125.43,744.62 125.93,743.98 126.43,742.94 126.93,741.91 127.43,741.65 127.93,741.08 128.43,740.26 128.93,738.34 129.43,737.37 129.93,736.66 130.43,735.85 130.93,734.97 131.43,734.53 131.93,733.26 132.43,733.29 132.93,731.92 133.43,731.3 133.93,729.6 134.43,729.41 134.93,728.25 135.43,727.07 135.93,725.66 136.43,725.94 136.93,725.14 137.43,723.31 137.93,723.49 138.43,721.78 138.93,721.48 139.43,720.38 139.93,720.47 140.43,718.24 140.93,718.06 141.43,717.44 141.93,714.98 142.43,714.9 142.94,712.54 143.44,713.4 143.94,712.98 144.44,711.91 144.94,710.26 145.44,710.32 145.94,709.24 146.44,708.37 146.94,708.33 147.44,706.93 147.94,706.45 148.44,706.02 148.94,704.04 149.44,703.32 149.94,702.81 150.44,702.51 150.94,702.27 151.44,700.07 151.94,699.55 152.44,699.57 152.94,697.85 153.44,697.8 153.94,696.14 154.44,695.2 154.94,694.24 155.44,693.48 155.94,692.66 156.44,693.16 156.94,691.5 157.44,690.8 157.94,689.67 158.44,688.28 158.94,687.08 159.44,685.15 159.94,688.91 160.44,684.86 160.94,684.7 161.44,681.2 161.94,681.85 162.44,683.87 162.94,680.83 163.44,681.04 163.94,678.59 164.44,680.03 164.94,678.19 165.44,677.43 165.94,676.6 166.44,676.35 166.94,676.93 167.44,673.64 167.94,672.28 168.44,672.68 168.94,672.95 169.44,670.87 169.94,669.73 170.44,669.8 170.94,668.89 171.44,666.63 171.95,668.68 172.45,667.37 172.95,668.16 173.45,666.17 173.95,665.55 174.45,665.14 174.95,664.21 175.45,660.86 175.95,662.42 176.45,661.72 176.95,658.6 177.45,660.47 177.95,661.72 178.45,658.82 178.95,659.71 179.45,656.35 179.95,658.95 180.45,657.69 180.95,658.27 181.45,655.89 181.95,656.59 182.45,655.05 182.95,654.89 183.45,654.65 183.95,652.47 184.45,652 184.95,652.48 185.45,653.07 185.95,652.8 186.45,650.89 186.95,648.13 187.45,650.81 187.95,650.74 188.45,650.22 188.95,650.25 189.45,649.71 189.95,648.48 190.45,646.3 190.95,647.48 191.45,647.67 191.95,648.51 192.45,646.15 192.95,646.06 193.45,647.03 193.95,646.54 194.45,645.07 194.95,643.6 195.45,643.7 195.95,643.85 196.45,644.12 196.95,643.12 197.45,643.2 197.95,640.53 198.45,643.85 198.95,642.75 199.45,640.69 199.95,642.11 200.46,640.01 200.96,641.36 201.46,640.92 201.96,641.25 202.46,642.13 202.96,641.47 203.46,637.8 203.96,639.32 204.46,639.19 204.96,638.65 205.46,638.92 205.96,638.29 206.46,639.58 206.96,639.43 207.46,638.04 207.96,639.43 208.46,640.47 208.96,639.25 209.46,639.61 209.96,638.39 210.46,639.91 210.96,640.37 211.46,639.69 211.96,637.77 212.46,639.68 212.96,639.63 213.46,639.99 213.96,639.89 214.46,639.43 214.96,639.15 215.46,642.72 215.96,639.7 216.46,641.46 216.96,642.1 217.46,639.45 217.96,642.58 218.46,640.63 218.96,642.07 219.46,644.65 219.96,643.41 220.46,643.58 220.96,644.99 221.46,647.87 221.96,646.21 222.46,646.55 222.96,648.07 223.46,645.4 223.96,648.2 224.46,648.91 224.96,649.35 225.46,650.43 225.96,650.98 226.46,650.59 226.96,650.92 227.46,652.38 227.96,652.44 228.46,653.72 228.96,653.25 229.47,654.51 229.97,654.56 230.47,655.74 230.97,656.1 231.47,656.27 231.97,657.62 232.47,656.18 232.97,658.11 233.47,658.69 233.97,659.62 234.47,658.91 234.97,659.58 235.47,660.72 235.97,662.18 236.47,662.26 236.97,662.2 237.47,663.37 237.97,664.28 238.47,664.83 238.97,665.15 239.47,665.27 239.97,666.18 240.47,666.37 240.97,665.41 241.47,666.53 241.97,668.62 242.47,668.43 242.97,669.14 243.47,669.84 243.97,669.77 244.47,671.11 244.97,671.69 245.47,672.32 245.97,672.77 246.47,672.62 246.97,673.51 247.47,675.29 247.97,675.42 248.47,676.24 248.97,676 249.47,676.96 249.97,677.24 250.47,678.4 250.97,680.06 251.47,679.43 251.97,680.21 252.47,680.71 252.97,682.36 253.47,682.27 253.97,683.35 254.47,684.02 254.97,684.12 255.47,684.78 255.97,686.13 256.47,687.25 256.97,688.33 257.47,687.97 257.98,687.71 258.48,689.03 258.98,690.91 259.48,690.83 259.98,690.81 260.48,690.81 260.98,691.77 261.48,692.9 261.98,693.68 262.48,695.06 262.98,695.42 263.48,696.05 263.98,696.98 264.48,697.22 264.98,698.15 265.48,698.44 265.98,698.53 266.48,699.59 266.98,700.45 267.48,701.48 267.98,702.85 268.48,702.75 268.98,703.05 269.48,704.55 269.98,703.97 270.48,705.49 270.98,705.75 271.48,706.78 271.98,707.92 272.48,706.75 272.98,709.15 273.48,708.64 273.98,710.08 274.48,710.25 274.98,711.47 275.48,711.88 275.98,711.76 276.48,711.81 276.98,713.94 277.48,714.08 277.98,714.16 278.48,715.61 278.98,715.46 279.48,716.85 279.98,716.66 280.48,717.31 280.98,717.44 281.48,718.45 281.98,719.83 282.48,719.35 282.98,720.84 283.48,720.35 283.98,720.45 284.48,721.46 284.98,722.58 285.48,722.13 285.98,723.17 286.48,724.43 286.99,724.42 287.49,723.92 287.99,725.32 288.49,725.55 288.99,726.25 289.49,727.42 289.99,727.21 290.49,727.16 290.99,727.66 291.49,728.27 291.99,729.74 292.49,728.3 292.99,728.95 293.49,729.15 293.99,729.36 294.49,730.66 294.99,731.08 295.49,730.9 295.99,730.48 296.49,732.61 296.99,732.11 297.49,732.66 297.99,732.24 298.49,732.02 298.99,733.24 299.49,734 299.99,733.55 300.49,733.97 300.99,734.89 301.49,733.8 301.99,734.8 302.49,734.37 302.99,735.68 303.49,734.59 303.99,736.2 304.49,735.06 304.99,736.85 305.49,735.33 305.99,736.51 306.49,737.37 306.99,736.87 307.49,736.78 307.99,737.72 308.49,737.67 308.99,737.46 309.49,737.91 309.99,739.7 310.49,738.47 310.99,738.21 311.49,738.48 311.99,738.29 312.49,739.41 312.99,737.83 313.49,738.98 313.99,739.43 314.49,739.2 314.99,739.45 315.49,740.1 316,740.67 316.5,739.95 317,740.45 317.5,741.88 318,741.62 318.5,740.92 319,741.28 319.5,741.34 320,741.29 320.5,741.71 321,741.07 321.5,742.4 322,742.43 322.5,742.18 323,742.08 323.5,742.19 324,741.94 324.5,743.14 325,742.37 325.5,742.88 326,743.83 326.5,743.47 327,742.39 327.5,743.22 328,743.97 328.5,745.09 329,744.24 329.5,744.29 330,743.93" fill="none" stroke="#f0891a" stroke-width="1.8" stroke-linejoin="round"/>
<polyline points="41.9,761.67 42.4,762.03 42.9,762.17 43.4,762.47 43.9,762.58 44.4,762.47 44.9,762.66 45.4,762.16 45.9,762.92 46.4,763.09 46.9,762.91 47.4,763.24 47.9,763.61 48.4,763.29 48.9,763.72 49.4,764.04 49.9,763.88 50.4,763.98 50.9,764.27 51.4,764.22 51.9,764.33 52.4,764.78 52.9,765.13 53.4,765.33 53.9,765.05 54.4,764.94 54.9,765.12 55.4,765.19 55.9,765.25 56.41,765.72 56.91,765.67 57.41,766.28 57.91,766.02 58.41,766.21 58.91,766.44 59.41,766.64 59.91,766.91 60.41,766.82 60.91,766.75 61.41,767.19 61.91,767.16 62.41,767.51 62.91,767.48 63.41,767.84 63.91,767.72 64.41,767.95 64.91,767.98 65.41,768.27 65.91,768.5 66.41,768.47 66.91,768.34 67.41,768.36 67.91,768.82 68.41,768.73 68.91,768.85 69.41,769.03 69.91,769.49 70.41,769.26 70.91,769.6 71.41,769.31 71.91,769.49 72.41,769.63 72.91,770.3 73.41,769.83 73.91,769.92 74.41,770.38 74.91,770.07 75.41,770.33 75.91,770.48 76.41,770.67 76.91,770.83 77.41,770.82 77.91,770.28 78.41,770.9 78.91,770.99 79.41,771.24 79.91,771.33 80.41,771.41 80.91,771.56 81.41,771.33 81.91,771.62 82.41,771.51 82.91,771.96 83.41,771.67 83.91,771.93 84.41,771.89 84.91,772.12 85.42,772.35 85.92,772.06 86.42,772.45 86.92,772.49 87.42,772.71 87.92,772.61 88.42,772.81 88.92,772.79 89.42,772.88 89.92,773.18 90.42,773.42 90.92,773.2 91.42,773.23 91.92,773.39 92.42,773.85 92.92,773.66 93.42,773.83 93.92,773.98 94.42,774.09 94.92,774.35 95.42,774.38 95.92,774.37 96.42,774.74 96.92,775.02 97.42,774.87 97.92,774.9 98.42,775.35 98.92,775.2 99.42,775.03 99.92,775.2 100.42,775.19 100.92,775.46 101.42,775.07 101.92,774.91 102.42,775.26 102.92,775.33 103.42,775.38 103.92,774.96 104.42,775.05 104.92,775.15 105.42,774.72 105.92,774.72 106.42,774.65 106.92,774.98 107.42,774.56 107.92,774.3 108.42,774.49 108.92,773.94 109.42,773.67 109.92,773.55 110.42,773.65 110.92,773.42 111.42,772.87 111.92,772.59 112.42,772.25 112.92,771.95 113.42,771.86 113.93,771.57 114.43,771.47 114.93,770.62 115.43,769.97 115.93,770.07 116.43,769.67 116.93,769.06 117.43,768.69 117.93,768.59 118.43,768.05 118.93,767.68 119.43,766.68 119.93,766.74 120.43,766.01 120.93,765.36 121.43,764.91 121.93,764.54 122.43,764.04 122.93,764.1 123.43,763.47 123.93,763.06 124.43,762.51 124.93,761.5 125.43,761.8 125.93,760.91 126.43,760.74 126.93,759.78 127.43,759.29 127.93,759.12 128.43,758.15 128.93,758 129.43,757.26 129.93,756.93 130.43,756.56 130.93,756 131.43,755.43 131.93,754.76 132.43,754.32 132.93,753.37 133.43,753.3 133.93,752.8 134.43,752.3 134.93,751.77 135.43,751.34 135.93,750.7 136.43,749.81 136.93,749.41 137.43,748.89 137.93,748.24 138.43,747.56 138.93,747.09 139.43,746.51 139.93,746.2 140.43,745.6 140.93,745.14 141.43,744.46 141.93,744.04 142.43,743.4 142.94,742.81 143.44,742.25 143.94,741.69 144.44,741.16 144.94,740.25 145.44,739.96 145.94,739.48 146.44,738.65 146.94,738.26 147.44,737.62 147.94,736.76 148.44,736.42 148.94,736.02 149.44,734.69 149.94,733.84 150.44,733.6 150.94,732.71 151.44,731.67 151.94,731.35 152.44,730.34 152.94,729.58 153.44,728.55 153.94,728.02 154.44,726.63 154.94,725.93 155.44,724.96 155.94,724.17 156.44,723.97 156.94,722.33 157.44,721.83 157.94,720.4 158.44,719.76 158.94,718.59 159.44,717.56 159.94,716.2 160.44,715.18 160.94,714.78 161.44,713.37 161.94,711.76 162.44,711.02 162.94,710.37 163.44,709.05 163.94,708.04 164.44,706.5 164.94,705.77 165.44,704.62 165.94,702.96 166.44,703.32 166.94,702.3 167.44,701.72 167.94,700.9 168.44,699.29 168.94,698.85 169.44,697.78 169.94,698.56 170.44,697.7 170.94,696.45 171.44,696.23 171.95,695.96 172.45,695.68 172.95,695.73 173.45,695.51 173.95,695.28 174.45,694.8 174.95,694.99 175.45,694.65 175.95,694.09 176.45,694.89 176.95,694.62 177.45,694.03 177.95,694.22 178.45,694.09 178.95,693.17 179.45,693.7 179.95,693.92 180.45,693.29 180.95,692.69 181.45,693.93 181.95,693.69 182.45,693.33 182.95,693.51 183.45,692.4 183.95,692.9 184.45,693.14 184.95,692.7 185.45,693.05 185.95,692.85 186.45,692.46 186.95,691.49 187.45,693.03 187.95,691.91 188.45,691.41 188.95,691.47 189.45,690.87 189.95,691.23 190.45,691.17 190.95,691.1 191.45,691.18 191.95,690.1 192.45,690.95 192.95,690.38 193.45,690.35 193.95,690.27 194.45,690.62 194.95,689.78 195.45,689.43 195.95,689.26 196.45,688.85 196.95,689.06 197.45,689.08 197.95,688.58 198.45,688.3 198.95,688.73 199.45,688.82 199.95,688.5 200.46,687.62 200.96,687.52 201.46,688.09 201.96,687.62 202.46,687.27 202.96,687.01 203.46,687.66 203.96,687.46 204.46,686.82 204.96,686.44 205.46,686.75 205.96,687.74 206.46,687.19 206.96,687.52 207.46,687.5 207.96,687.82 208.46,687.87 208.96,687.85 209.46,687.38 209.96,688.01 210.46,688.38 210.96,688.84 211.46,689.49 211.96,689.71 212.46,689.62 212.96,690.24 213.46,690.33 213.96,691.46 214.46,692.08 214.96,693.17 215.46,692.93 215.96,694.17 216.46,693.43 216.96,694.63 217.46,694.79 217.96,695.65 218.46,695.68 218.96,696.17 219.46,695.75 219.96,696.39 220.46,697.24 220.96,697.85 221.46,697.51 221.96,698 222.46,698.59 222.96,698.33 223.46,698.98 223.96,699.25 224.46,699.89 224.96,700.27 225.46,700.62 225.96,701.43 226.46,701.01 226.96,701.49 227.46,702.65 227.96,702.4 228.46,702.6 228.96,703.16 229.47,703.35 229.97,704.02 230.47,704.34 230.97,704.95 231.47,705.25 231.97,705.78 232.47,705.96 232.97,706.1 233.47,706.38 233.97,706.59 234.47,707.1 234.97,707.61 235.47,707.65 235.97,708.05 236.47,707.98 236.97,708.22 237.47,708.67 237.97,709.32 238.47,709.46 238.97,709.59 239.47,710.01 239.97,710.03 240.47,710.26 240.97,710.48 241.47,710.85 241.97,711.31 242.47,711.56 242.97,711.7 243.47,711.71 243.97,711.95 244.47,712.35 244.97,712.76 245.47,713.01 245.97,713.3 246.47,713.53 246.97,713.94 247.47,714.72 247.97,714.61 248.47,715.07 248.97,715.58 249.47,715.76 249.97,716.17 250.47,716.61 250.97,717.28 251.47,717.33 251.97,717.63 252.47,718.13 252.97,718.8 253.47,718.82 253.97,719.16 254.47,719.66 254.97,720.01 255.47,720.55 255.97,721.01 256.47,721.19 256.97,721.75 257.47,722.06 257.98,721.91 258.48,722.78 258.98,723.3 259.48,724.04 259.98,724.14 260.48,724.44 260.98,725.14 261.48,725.48 261.98,726.28 262.48,726.2 262.98,726.84 263.48,727.04 263.98,727.35 264.48,728.06 264.98,728.29 265.48,728.86 265.98,729.37 266.48,729.81 266.98,730.34 267.48,730.37 267.98,730.86 268.48,731.62 268.98,731.69 269.48,732.38 269.98,732.93 270.48,732.84 270.98,733.68 271.48,733.63 271.98,734.2 272.48,734.47 272.98,734.93 273.48,735.2 273.98,735.73 274.48,736.07 274.98,736.51 275.48,736.73 275.98,737.38 276.48,737.49 276.98,737.77 277.48,738.41 277.98,738.67 278.48,739.2 278.98,739.5 279.48,739.73 279.98,740.17 280.48,740.59 280.98,740.75 281.48,741.01 281.98,741.28 282.48,741.49 282.98,742.22 283.48,741.9 283.98,742.44 284.48,742.79 284.98,742.95 285.48,743.03 285.98,743.17 286.48,743.61 286.99,743.73 287.49,744.25 287.99,744.13 288.49,744.39 288.99,744.65 289.49,744.62 289.99,744.66 290.49,745.01 290.99,745.56 291.49,745.37 291.99,745.94 292.49,746.13 292.99,746.48 293.49,746.55 293.99,746.81 294.49,747.17 294.99,747.53 295.49,747.82 295.99,748.19 296.49,748.26 296.99,748.87 297.49,749.14 297.99,749.49 298.49,749.94 298.99,750.2 299.49,750.78 299.99,750.79 300.49,751.13 300.99,751.63 301.49,751.65 301.99,752.42 302.49,752.52 302.99,752.87 303.49,753.38 303.99,753.65 304.49,753.75 304.99,754.21 305.49,754.46 305.99,754.55 306.49,755.04 306.99,755.66 307.49,755.75 307.99,755.73 308.49,756.15 308.99,756.57 309.49,756.98 309.99,756.8 310.49,756.81 310.99,757.54 311.49,757.93 311.99,757.66 312.49,758.06 312.99,758.22 313.49,758.43 313.99,758.72 314.49,758.67 314.99,758.77 315.49,759.04 316,759.38 316.5,759.26 317,759.62 317.5,759.65 318,760.06 318.5,759.91 319,760.02 319.5,760.04 320,760.38 320.5,760.41 321,760.69 321.5,760.51 322,760.62 322.5,760.64 323,760.97 323.5,761.19 324,761.05 324.5,761.13 325,761.29 325.5,761.1 326,761.1 326.5,761.25 327,761.18 327.5,761.37 328,761.65 328.5,761.6 329,761.59 329.5,761.43 330,761.42" fill="none" stroke="#111111" stroke-width="1.5" stroke-linejoin="round"/>
<polyline points="41.9,763.16 42.4,763.03 42.9,763.5 43.4,763.41 43.9,763.13 44.4,763.43 44.9,763.44 45.4,764.21 45.9,764.29 46.4,764.26 46.9,763.99 47.4,763.99 47.9,764.61 48.4,764.83 48.9,764.97 49.4,765.08 49.9,764.91 50.4,765.23 50.9,764.89 51.4,765.28 51.9,765.72 52.4,765.66 52.9,765.88 53.4,765.81 53.9,765.92 54.4,766.33 54.9,766.2 55.4,766.41 55.9,766.69 56.41,766.76 56.91,766.81 57.41,767.16 57.91,767.38 58.41,767.1 58.91,767.51 59.41,767.78 59.91,767.69 60.41,768.25 60.91,768.06 61.41,768.5 61.91,768.44 62.41,768.86 62.91,768.77 63.41,768.55 63.91,768.91 64.41,769.26 64.91,768.76 65.41,769.39 65.91,769.06 66.41,769.61 66.91,769.93 67.41,769.34 67.91,769.94 68.41,769.8 68.91,769.82 69.41,770.47 69.91,770.28 70.41,770.53 70.91,770.38 71.41,770.62 71.91,770.99 72.41,770.81 72.91,770.77 73.41,771.1 73.91,771.01 74.41,771.35 74.91,771.35 75.41,771.36 75.91,771.51 76.41,771.36 76.91,771.53 77.41,771.65 77.91,771.77 78.41,771.99 78.91,772.37 79.41,771.99 79.91,771.94 80.41,772.36 80.91,772.55 81.41,772.6 81.91,772.42 82.41,772.71 82.91,773.07 83.41,772.99 83.91,773.2 84.41,773.17 84.91,773.41 85.42,773.49 85.92,773.08 86.42,773.26 86.92,773.92 87.42,773.87 87.92,773.85 88.42,773.93 88.92,774.23 89.42,773.84 89.92,774.47 90.42,774.08 90.92,774.18 91.42,774.51 91.92,774.68 92.42,774.64 92.92,774.73 93.42,775.32 93.92,775.25 94.42,774.98 94.92,775.22 95.42,775.39 95.92,775.61 96.42,775.64 96.92,775.74 97.42,775.06 97.92,775.99 98.42,775.45 98.92,775.73 99.42,775.82 99.92,775.86 100.42,776 100.92,775.58 101.42,775.82 101.92,775.92 102.42,775.92 102.92,775.82 103.42,776.07 103.92,775.85 104.42,775.87 104.92,775.54 105.42,775.48 105.92,775.93 106.42,775.5 106.92,775.15 107.42,775.55 107.92,775.42 108.42,774.84 108.92,774.96 109.42,774.9 109.92,774.92 110.42,774.47 110.92,774.45 111.42,774.1 111.92,773.85 112.42,773.56 112.92,773.54 113.42,773.33 113.93,772.94 114.43,772.69 114.93,772.33 115.43,772.17 115.93,771.79 116.43,771.54 116.93,771.21 117.43,770.72 117.93,770.17 118.43,770.18 118.93,769.59 119.43,769.29 119.93,768.97 120.43,768.49 120.93,768.38 121.43,767.76 121.93,767.44 122.43,767.86 122.93,766.65 123.43,766.2 123.93,765.51 124.43,765.75 124.93,765.09 125.43,764.62 125.93,764.47 126.43,763.58 126.93,763.3 127.43,763.13 127.93,762.77 128.43,762.15 128.93,761.09 129.43,760.67 129.93,761.19 130.43,760.58 130.93,759.56 131.43,759.25 131.93,758.87 132.43,758.11 132.93,757.72 133.43,757.18 133.93,756.69 134.43,756.47 134.93,755.45 135.43,755.32 135.93,754.47 136.43,754.05 136.93,753.68 137.43,753.14 137.93,752.66 138.43,752.52 138.93,751.67 139.43,750.99 139.93,750.89 140.43,750.33 140.93,749.25 141.43,748.77 141.93,748.73 142.43,747.75 142.94,747.31 143.44,746.55 143.94,746.27 144.44,745.7 144.94,745.26 145.44,744.51 145.94,744.02 146.44,743.58 146.94,742.96 147.44,742.49 147.94,741.65 148.44,741.45 148.94,741.01 149.44,740.34 149.94,739.36 150.44,739.15 150.94,738.36 151.44,737.81 151.94,737.53 152.44,736.73 152.94,736.24 153.44,735.83 153.94,735.44 154.44,734.76 154.94,734.49 155.44,733.74 155.94,733.27 156.44,732.38 156.94,731.89 157.44,731.84 157.94,730.54 158.44,729.83 158.94,729.84 159.44,729.69 159.94,728.5 160.44,729.4 160.94,727.88 161.44,726.7 161.94,725.37 162.44,726.1 162.94,724.32 163.44,723.25 163.94,722.8 164.44,724.26 164.94,721.84 165.44,721.63 165.94,720.56 166.44,720.52 166.94,720.14 167.44,719.37 167.94,717.96 168.44,717.79 168.94,717.9 169.44,717.13 169.94,716.49 170.44,716.28 170.94,716.24 171.44,716.23 171.95,715.97 172.45,715.53 172.95,715.31 173.45,715.57 173.95,715.23 174.45,713.83 174.95,714.59 175.45,714.46 175.95,713.59 176.45,712.61 176.95,712.48 177.45,713.11 177.95,713.21 178.45,712.76 178.95,712.74 179.45,712.35 179.95,711.63 180.45,712.21 180.95,711.87 181.45,711.4 181.95,711.09 182.45,711.26 182.95,711.07 183.45,711.03 183.95,710.63 184.45,709.77 184.95,709.94 185.45,711.17 185.95,709.07 186.45,709.18 186.95,709.36 187.45,708.81 187.95,709.98 188.45,709.04 188.95,707.37 189.45,706.63 189.95,706.36 190.45,707.59 190.95,706.95 191.45,706.32 191.95,707.09 192.45,705.33 192.95,706.33 193.45,705.54 193.95,706.06 194.45,705.04 194.95,704.99 195.45,704.2 195.95,705.1 196.45,704.28 196.95,703.12 197.45,704.42 197.95,703.41 198.45,703.14 198.95,703.39 199.45,703.05 199.95,701.98 200.46,701.91 200.96,701.99 201.46,701.95 201.96,702.48 202.46,701.69 202.96,700.67 203.46,700.92 203.96,702.04 204.46,702.32 204.96,701.54 205.46,701.09 205.96,701.45 206.46,701.34 206.96,701.05 207.46,700.83 207.96,701.27 208.46,700.84 208.96,702.31 209.46,701.47 209.96,701.62 210.46,702.72 210.96,701.46 211.46,703.04 211.96,703.1 212.46,701.13 212.96,701.95 213.46,702.54 213.96,702.16 214.46,702.38 214.96,703.66 215.46,702.95 215.96,702.6 216.46,703.52 216.96,703.52 217.46,703.92 217.96,703.44 218.46,704.23 218.96,704.39 219.46,704.86 219.96,704.86 220.46,704.44 220.96,704.48 221.46,705.1 221.96,705.62 222.46,705.11 222.96,705.3 223.46,705.05 223.96,706.17 224.46,706.36 224.96,706.12 225.46,705.84 225.96,706.89 226.46,707.15 226.96,707.84 227.46,707.81 227.96,707.67 228.46,707.94 228.96,708.14 229.47,709.01 229.97,708.72 230.47,709.36 230.97,709.28 231.47,710.17 231.97,709.92 232.47,710.33 232.97,710.09 233.47,710.57 233.97,710.53 234.47,711.13 234.97,710.81 235.47,711.54 235.97,711.22 236.47,711.93 236.97,712.22 237.47,711.99 237.97,712.46 238.47,712.56 238.97,713.01 239.47,712.97 239.97,713.05 240.47,713.4 240.97,713.35 241.47,714.12 241.97,713.61 242.47,714.1 242.97,713.89 243.47,714.5 243.97,714.79 244.47,714.98 244.97,715.06 245.47,715.24 245.97,715.74 246.47,716.09 246.97,716.1 247.47,716.31 247.97,717.17 248.47,717.33 248.97,717.57 249.47,717.37 249.97,717.81 250.47,718.24 250.97,718.65 251.47,719.36 251.97,719.22 252.47,719.92 252.97,720.37 253.47,720.13 253.97,721.25 254.47,720.99 254.97,721.63 255.47,722.25 255.97,722.39 256.47,722.99 256.97,723.15 257.47,723.72 257.98,724.22 258.48,723.76 258.98,724.86 259.48,724.92 259.98,725.55 260.48,725.8 260.98,726.64 261.48,727 261.98,727.91 262.48,727.39 262.98,727.93 263.48,728.71 263.98,728.69 264.48,729.16 264.98,729.07 265.48,730.08 265.98,730.35 266.48,730.83 266.98,731.21 267.48,731.79 267.98,732.27 268.48,732.42 268.98,732.69 269.48,733.61 269.98,733.98 270.48,734.12 270.98,734.08 271.48,734.89 271.98,735.58 272.48,735.39 272.98,735.76 273.48,735.85 273.98,736.58 274.48,736.54 274.98,737.47 275.48,737.45 275.98,737.96 276.48,738.59 276.98,738.71 277.48,738.69 277.98,739.05 278.48,739.7 278.98,739.69 279.48,740.05 279.98,740.35 280.48,740.79 280.98,741.08 281.48,741.62 281.98,741.73 282.48,741.97 282.98,742.43 283.48,742.59 283.98,742.75 284.48,742.99 284.98,743.04 285.48,743.74 285.98,743.83 286.48,743.91 286.99,744.28 287.49,744.35 287.99,744.75 288.49,744.61 288.99,745.14 289.49,745.57 289.99,745.38 290.49,745.42 290.99,746.45 291.49,746.3 291.99,746.51 292.49,746.56 292.99,746.73 293.49,747.38 293.99,747.98 294.49,747.79 294.99,748.03 295.49,748.47 295.99,748.89 296.49,749.43 296.99,749.07 297.49,750.23 297.99,750.66 298.49,750.48 298.99,751.01 299.49,751.3 299.99,751.74 300.49,751.82 300.99,752.25 301.49,753.05 301.99,753.07 302.49,753.91 302.99,754.37 303.49,754.07 303.99,754.76 304.49,755.46 304.99,755.3 305.49,755.74 305.99,755.77 306.49,756.17 306.99,756.6 307.49,756.85 307.99,756.77 308.49,757.39 308.99,757.4 309.49,757.88 309.99,757.78 310.49,757.71 310.99,758.19 311.49,758.28 311.99,758.62 312.49,759.13 312.99,759.17 313.49,759.27 313.99,759.36 314.49,759.76 314.99,759.65 315.49,760.1 316,760.08 316.5,760.24 317,760.63 317.5,760.28 318,760.61 318.5,760.7 319,760.84 319.5,761.39 320,761.32 320.5,761.28 321,760.93 321.5,761.34 322,761.13 322.5,761.54 323,761.54 323.5,761.49 324,761.19 324.5,761.81 325,761.51 325.5,761.41 326,761.49 326.5,761.55 327,761.4 327.5,761.54 328,761.83 328.5,761.48 329,761.81 329.5,761.72 330,761.34" fill="none" stroke="#ea1a2c" stroke-width="1.4" stroke-linejoin="round"/>
<polyline points="41.9,752.29 42.4,753.29 42.9,754.31 43.4,755.5 43.9,755.57 44.4,753.43 44.9,754.83 45.4,756.57 45.9,754.03 46.4,755.11 46.9,754.61 47.4,755.61 47.9,758.13 48.4,757 48.9,756.62 49.4,756.81 49.9,755.44 50.4,757.61 50.9,757.25 51.4,757.37 51.9,757.56 52.4,758.59 52.9,758.92 53.4,760.31 53.9,757.8 54.4,758.44 54.9,758.22 55.4,759.53 55.9,758.7 56.41,759.75 56.91,759.93 57.41,758.84 57.91,758.71 58.41,758.9 58.91,759.61 59.41,760.07 59.91,758.57 60.41,758.85 60.91,760.71 61.41,761.26 61.91,760.05 62.41,760.23 62.91,761.49 63.41,758.69 63.91,762.81 64.41,761.79 64.91,760.92 65.41,760.35 65.91,763.07 66.41,761.88 66.91,760.27 67.41,760.41 67.91,762.03 68.41,761.86 68.91,762.81 69.41,761.73 69.91,763.14 70.41,764.13 70.91,763.76 71.41,762.4 71.91,763.75 72.41,761.61 72.91,761.53 73.41,761.88 73.91,762.28 74.41,761.92 74.91,762.81 75.41,762.34 75.91,762.79 76.41,762.59 76.91,764.32 77.41,764.08 77.91,764.47 78.41,762.88 78.91,763.26 79.41,764.53 79.91,764.79 80.41,764.49 80.91,763.24 81.41,764.22 81.91,764.41 82.41,764.89 82.91,764.44 83.41,762.95 83.91,765.12 84.41,764.89 84.91,763.1 85.42,764.08 85.92,765.87 86.42,763.93 86.92,766.18 87.42,764.63 87.92,767.57 88.42,766.3 88.92,764.69 89.42,766.24 89.92,766.54 90.42,766.03 90.92,766.3 91.42,766.97 91.92,767.41 92.42,765.42 92.92,765.98 93.42,767.32 93.92,768.96 94.42,768.66 94.92,768.69 95.42,768.2 95.92,767.37 96.42,769.48 96.92,769 97.42,769.62 97.92,769.16 98.42,769.95 98.92,768.98 99.42,768.24 99.92,769.61 100.42,769.48 100.92,768.99 101.42,770.2 101.92,767.23 102.42,769.99 102.92,768.97 103.42,769.32 103.92,767 104.42,768.69 104.92,768.58 105.42,766.26 105.92,767.98 106.42,768.46 106.92,767.64 107.42,767.34 107.92,768.09 108.42,767.46 108.92,767.36 109.42,766.37 109.92,766.18 110.42,765.96 110.92,766.65 111.42,765.6 111.92,766.29 112.42,764.76 112.92,765.16 113.42,765.59 113.93,763.72 114.43,765.84 114.93,764.93 115.43,764.32 115.93,763.24 116.43,763.75 116.93,763.21 117.43,763.31 117.93,760.93 118.43,761.17 118.93,757.89 119.43,758.61 119.93,759.78 120.43,756.94 120.93,757.46 121.43,755.98 121.93,757.39 122.43,754.73 122.93,754.21 123.43,755.03 123.93,754.88 124.43,753.9 124.93,752.78 125.43,750.3 125.93,750.34 126.43,750.12 126.93,751.21 127.43,750.83 127.93,749.73 128.43,749.85 128.93,749.58 129.43,748.89 129.93,747.48 130.43,747.88 130.93,747.16 131.43,747.19 131.93,746.7 132.43,746.41 132.93,744.53 133.43,745.06 133.93,743.5 134.43,744.62 134.93,743.1 135.43,744.94 135.93,743.66 136.43,742.96 136.93,743.1 137.43,742.26 137.93,742.63 138.43,741.57 138.93,741.67 139.43,740.72 139.93,740.64 140.43,740.95 140.93,740.07 141.43,739.35 141.93,740.22 142.43,738.65 142.94,737.28 143.44,738.32 143.94,737.31 144.44,736.93 144.94,737.93 145.44,735.69 145.94,734.3 146.44,737.22 146.94,734.02 147.44,736.32 147.94,734.03 148.44,736.71 148.94,733.7 149.44,734.29 149.94,735.27 150.44,734.52 150.94,734.4 151.44,733.93 151.94,732.42 152.44,732.6 152.94,734.38 153.44,732.03 153.94,730.98 154.44,730.98 154.94,729.17 155.44,732.06 155.94,729.81 156.44,729.56 156.94,726.69 157.44,733.89 157.94,733.44 158.44,728.95 158.94,727.72 159.44,734.3 159.94,726.02 160.44,727.06 160.94,724.05 161.44,735.97 161.94,724.29 162.44,729.07 162.94,727.27 163.44,722.38 163.94,718.77 164.44,724.11 164.94,724.79 165.44,719.33 165.94,727.11 166.44,724.13 166.94,725.15 167.44,726.63 167.94,722.07 168.44,715.07 168.94,721.36 169.44,720.19 169.94,721.88 170.44,717.4 170.94,720.63 171.44,724.28 171.95,720.46 172.45,715.34 172.95,720.69 173.45,715.77 173.95,720.21 174.45,712.33 174.95,718.52 175.45,716.96 175.95,720.23 176.45,715.94 176.95,719.65 177.45,724.06 177.95,717.37 178.45,722.74 178.95,712.75 179.45,715.11 179.95,717.79 180.45,715.18 180.95,727.03 181.45,711.78 181.95,719.62 182.45,714.64 182.95,707.55 183.45,722.68 183.95,718.12 184.45,715.18 184.95,714.72 185.45,722.25 185.95,719.29 186.45,710.25 186.95,717.69 187.45,713.26 187.95,720.09 188.45,718.2 188.95,721.31 189.45,713.44 189.95,709.97 190.45,713.63 190.95,714.75 191.45,712.63 191.95,711.58 192.45,714.13 192.95,710.81 193.45,705.47 193.95,704.27 194.45,714.28 194.95,716.59 195.45,704.76 195.95,707.99 196.45,706.94 196.95,708.99 197.45,711.86 197.95,707.29 198.45,706.6 198.95,706.24 199.45,714.36 199.95,706.48 200.46,711.38 200.96,711.27 201.46,708.54 201.96,710.97 202.46,701.1 202.96,707.4 203.46,708.36 203.96,709.93 204.46,708.22 204.96,709.87 205.46,706.8 205.96,705.69 206.46,705.69 206.96,713.27 207.46,709.81 207.96,708.22 208.46,712.93 208.96,707.02 209.46,708.87 209.96,708.09 210.46,706.86 210.96,710.49 211.46,702.49 211.96,704.36 212.46,710.14 212.96,706.41 213.46,705.38 213.96,710.88 214.46,709.38 214.96,705.53 215.46,717.52 215.96,712.92 216.46,706.91 216.96,705.86 217.46,711.55 217.96,705.06 218.46,700.14 218.96,707.51 219.46,708.48 219.96,708.13 220.46,712.15 220.96,706.5 221.46,707.94 221.96,705.96 222.46,703.55 222.96,708.74 223.46,708.32 223.96,707.91 224.46,702.87 224.96,714.69 225.46,709.51 225.96,711.94 226.46,709.34 226.96,706.91 227.46,709.86 227.96,709.64 228.46,710.31 228.96,711.3 229.47,711.42 229.97,712.25 230.47,710.96 230.97,711.69 231.47,710.73 231.97,710.78 232.47,712.63 232.97,712.97 233.47,711.57 233.97,713.08 234.47,712.23 234.97,712.01 235.47,713.06 235.97,711.22 236.47,713.69 236.97,712.72 237.47,713.62 237.97,716.01 238.47,713.66 238.97,713.78 239.47,713.23 239.97,714.01 240.47,714.69 240.97,714.63 241.47,714.57 241.97,713.73 242.47,714.81 242.97,713.57 243.47,714.06 243.97,715.66 244.47,714.19 244.97,717.35 245.47,715.41 245.97,716.48 246.47,715.84 246.97,714.85 247.47,716.07 247.97,716.39 248.47,715.24 248.97,717.27 249.47,717.51 249.97,716.04 250.47,716.54 250.97,718.59 251.47,717.33 251.97,716.93 252.47,717.98 252.97,718.39 253.47,718.08 253.97,718.2 254.47,719.22 254.97,718.01 255.47,720.4 255.97,719.23 256.47,717.4 256.97,720.52 257.47,719.78 257.98,722.02 258.48,720.9 258.98,721.39 259.48,720.49 259.98,721.2 260.48,719.28 260.98,722.01 261.48,721.4 261.98,721.39 262.48,721.21 262.98,721.19 263.48,723.65 263.98,720.44 264.48,722.93 264.98,723.52 265.48,724.59 265.98,723.71 266.48,725.14 266.98,723.56 267.48,724.5 267.98,723.87 268.48,725.1 268.98,724.53 269.48,722.78 269.98,723.95 270.48,725.09 270.98,726.35 271.48,724.33 271.98,727.42 272.48,727.37 272.98,725.12 273.48,727.06 273.98,725.49 274.48,726.41 274.98,725.16 275.48,725.73 275.98,727.04 276.48,728.36 276.98,727.46 277.48,726.93 277.98,728.29 278.48,731.27 278.98,729.19 279.48,729.39 279.98,729.32 280.48,729.8 280.98,728.65 281.48,731.05 281.98,729.69 282.48,732.1 282.98,732.47 283.48,731.6 283.98,731.55 284.48,731.86 284.98,731.86 285.48,730.84 285.98,731.04 286.48,731.67 286.99,731.74 287.49,732.73 287.99,733.18 288.49,733.76 288.99,733.04 289.49,733.9 289.99,733.38 290.49,732.65 290.99,733.05 291.49,732.59 291.99,734.93 292.49,736.42 292.99,735.83 293.49,733.47 293.99,735.19 294.49,736.83 294.99,735.86 295.49,738.08 295.99,736.84 296.49,739.39 296.99,740.05 297.49,739.69 297.99,741.97 298.49,741.62 298.99,740.18 299.49,741.95 299.99,743.71 300.49,743.24 300.99,743.34 301.49,744.28 301.99,743.48 302.49,742.97 302.99,744.31 303.49,743.79 303.99,744.57 304.49,744.94 304.99,745.99 305.49,744.66 305.99,744.53 306.49,746.4 306.99,747.02 307.49,745.98 307.99,746.59 308.49,745.88 308.99,746.69 309.49,747.48 309.99,748.84 310.49,747.23 310.99,747.92 311.49,749.38 311.99,749.79 312.49,750.31 312.99,748.29 313.49,749.46 313.99,752.29 314.49,750.27 314.99,750.25 315.49,749.97 316,750.03 316.5,750.57 317,749.79 317.5,749.72 318,751.06 318.5,749.61 319,751.36 319.5,752.22 320,751.47 320.5,753.09 321,752.22 321.5,753.06 322,752.62 322.5,752.15 323,754.64 323.5,752.11 324,752.25 324.5,752.68 325,751.8 325.5,752.08 326,752.64 326.5,753.12 327,751.42 327.5,751.27 328,753.23 328.5,752.48 329,752.82 329.5,750.91 330,752.11" fill="none" stroke="#b4b5b9" stroke-width="1.6" stroke-linejoin="round"/>
<polyline points="41.9,766.69 42.4,766.25 42.9,766.52 43.4,766.62 43.9,766.69 44.4,766.84 44.9,766.94 45.4,766.92 45.9,767.14 46.4,767.44 46.9,767.48 47.4,767.3 47.9,767.88 48.4,768.15 48.9,768.03 49.4,768.39 49.9,767.84 50.4,768.34 50.9,768.49 51.4,768.66 51.9,768.5 52.4,769.18 52.9,769.13 53.4,769.56 53.9,769.16 54.4,769.53 54.9,769.32 55.4,769.82 55.9,770.09 56.41,770.16 56.91,770.01 57.41,770.43 57.91,770.36 58.41,770.67 58.91,770.79 59.41,770.89 59.91,770.61 60.41,771.23 60.91,771.09 61.41,771.12 61.91,771.53 62.41,771.78 62.91,771.35 63.41,771.42 63.91,771.9 64.41,772.18 64.91,771.91 65.41,772.19 65.91,772.44 66.41,772.46 66.91,772.93 67.41,772.74 67.91,772.91 68.41,773.02 68.91,772.76 69.41,772.91 69.91,772.74 70.41,773.62 70.91,773.34 71.41,773.46 71.91,773.15 72.41,773.28 72.91,773.54 73.41,773.63 73.91,773.87 74.41,773.92 74.91,773.99 75.41,774.46 75.91,773.75 76.41,774.06 76.91,773.91 77.41,774.17 77.91,774.4 78.41,774.45 78.91,775.02 79.41,775 79.91,774.77 80.41,775.12 80.91,775.46 81.41,775.28 81.91,775.63 82.41,775.52 82.91,775.35 83.41,775.97 83.91,775.97 84.41,775.91 84.91,776.14 85.42,776.23 85.92,776.54 86.42,776.57 86.92,777.07 87.42,776.79 87.92,776.65 88.42,777.22 88.92,777.18 89.42,777.14 89.92,777.18 90.42,777.33 90.92,777.84 91.42,777.89 91.92,777.64 92.42,778.19 92.92,778.2 93.42,778.56 93.92,778.68 94.42,779.27 94.92,778.98 95.42,779.44 95.92,779.38 96.42,779.52 96.92,779.25 97.42,779.5 97.92,779.71 98.42,780.02 98.92,780.32 99.42,780.1 99.92,780.46 100.42,780.45 100.92,780.36 101.42,780.66 101.92,780.71 102.42,780.97 102.92,780.65 103.42,780.8 103.92,780.8 104.42,780.65 104.92,781.26 105.42,780.95 105.92,780.81 106.42,780.83 106.92,780.78 107.42,780.68 107.92,780.96 108.42,780.58 108.92,780.24 109.42,780.32 109.92,780.2 110.42,779.84 110.92,780.14 111.42,779.54 111.92,779.13 112.42,779.23 112.92,779.09 113.42,778.59 113.93,778.5 114.43,778.28 114.93,777.81 115.43,777.84 115.93,777.09 116.43,777.11 116.93,776.64 117.43,776.06 117.93,775.84 118.43,775.41 118.93,774.82 119.43,774.41 119.93,773.91 120.43,773.99 120.93,773.3 121.43,773.36 121.93,772.48 122.43,771.95 122.93,771.89 123.43,771.22 123.93,770.7 124.43,770.43 124.93,770.05 125.43,769.19 125.93,769.23 126.43,768.47 126.93,767.83 127.43,767.46 127.93,766.7 128.43,766.19 128.93,765.85 129.43,765.07 129.93,764.71 130.43,764.52 130.93,763.8 131.43,763.13 131.93,762.58 132.43,762.36 132.93,761.05 133.43,761.2 133.93,760.55 134.43,759.7 134.93,759.18 135.43,758.38 135.93,758.07 136.43,757.5 136.93,756.9 137.43,756.63 137.93,756.21 138.43,755.53 138.93,754.74 139.43,754.46 139.93,753.67 140.43,753.49 140.93,752.74 141.43,752.37 141.93,751.72 142.43,751.37 142.94,750.84 143.44,750.47 143.94,749.66 144.44,749.41 144.94,748.83 145.44,748.32 145.94,748.13 146.44,747.65 146.94,747.03 147.44,746.33 147.94,746.3 148.44,745.84 148.94,745.39 149.44,744.84 149.94,744.53 150.44,744.06 150.94,743.39 151.44,743.27 151.94,742.66 152.44,742.46 152.94,741.88 153.44,741.35 153.94,741.43 154.44,740.66 154.94,740.24 155.44,739.92 155.94,739.48 156.44,739.01 156.94,739.27 157.44,738.47 157.94,737.82 158.44,737.22 158.94,737.84 159.44,737.2 159.94,737.13 160.44,736.28 160.94,736.32 161.44,735.93 161.94,734.94 162.44,734.04 162.94,735.27 163.44,733.56 163.94,734.15 164.44,733.21 164.94,732.98 165.44,732.31 165.94,732.5 166.44,732.38 166.94,731.76 167.44,731.11 167.94,731.39 168.44,730.59 168.94,730.42 169.44,730.03 169.94,729.79 170.44,729.27 170.94,728.9 171.44,729.02 171.95,728.77 172.45,729.17 172.95,728.45 173.45,728.45 173.95,727.41 174.45,727.84 174.95,727.5 175.45,726.86 175.95,726.52 176.45,726.28 176.95,726.89 177.45,726.35 177.95,725.91 178.45,726.49 178.95,726.15 179.45,726.4 179.95,726.08 180.45,725.48 180.95,725.59 181.45,725.65 181.95,725.61 182.45,724.73 182.95,724.89 183.45,725.5 183.95,724.11 184.45,724.91 184.95,724.65 185.45,724.61 185.95,724.45 186.45,723.82 186.95,724.38 187.45,723.62 187.95,723.52 188.45,722.53 188.95,722.78 189.45,722.52 189.95,722.23 190.45,721.94 190.95,721.85 191.45,722.53 191.95,721.21 192.45,721.21 192.95,720.57 193.45,720.46 193.95,720.51 194.45,720.39 194.95,720.19 195.45,719.48 195.95,719.4 196.45,719.46 196.95,719.06 197.45,718.6 197.95,718.78 198.45,718.4 198.95,718.39 199.45,718.95 199.95,717.8 200.46,717.65 200.96,717.22 201.46,716.89 201.96,717.48 202.46,716.86 202.96,716.84 203.46,716.79 203.96,716.39 204.46,716.26 204.96,716.94 205.46,715.84 205.96,716.36 206.46,716.47 206.96,716.41 207.46,716.19 207.96,716.47 208.46,715.63 208.96,715.86 209.46,716.34 209.96,715.72 210.46,715.97 210.96,716.06 211.46,715.8 211.96,716.25 212.46,716.39 212.96,716.21 213.46,717.17 213.96,717.06 214.46,716.56 214.96,716.49 215.46,717.65 215.96,717.18 216.46,717.59 216.96,717.61 217.46,717.45 217.96,717.3 218.46,717.37 218.96,717.84 219.46,718.13 219.96,718.48 220.46,719.39 220.96,718.73 221.46,719.49 221.96,719.63 222.46,719.35 222.96,720.14 223.46,719.09 223.96,719.7 224.46,719.96 224.96,720.1 225.46,720.37 225.96,720.62 226.46,720.57 226.96,721.27 227.46,721.11 227.96,721.37 228.46,721.45 228.96,721.98 229.47,721.93 229.97,722.18 230.47,722.23 230.97,722.43 231.47,722.68 231.97,722.8 232.47,722.98 232.97,722.98 233.47,723.34 233.97,723.45 234.47,723.88 234.97,723.89 235.47,723.86 235.97,723.94 236.47,724.45 236.97,724.41 237.47,724.58 237.97,724.64 238.47,724.86 238.97,724.97 239.47,725.02 239.97,725.11 240.47,725.07 240.97,725.54 241.47,725.68 241.97,725.49 242.47,725.68 242.97,725.95 243.47,726.27 243.97,726.02 244.47,726.57 244.97,726.33 245.47,726.67 245.97,726.92 246.47,727.11 246.97,727.13 247.47,727.48 247.97,728.01 248.47,728.04 248.97,728.52 249.47,728.28 249.97,728.42 250.47,728.63 250.97,729.31 251.47,728.92 251.97,729.22 252.47,729.82 252.97,730.42 253.47,730.47 253.97,730.38 254.47,730.45 254.97,731.18 255.47,731.69 255.97,731.79 256.47,731.53 256.97,732.14 257.47,732.67 257.98,733.06 258.48,732.83 258.98,733.08 259.48,733.58 259.98,733.81 260.48,734.04 260.98,734.4 261.48,734.72 261.98,735.01 262.48,735.3 262.98,735.25 263.48,735.7 263.98,735.87 264.48,736.02 264.98,737.06 265.48,736.95 265.98,737.06 266.48,737.57 266.98,737.93 267.48,738.04 267.98,738.51 268.48,738.86 268.98,739.05 269.48,739.28 269.98,739.58 270.48,739.71 270.98,740.16 271.48,740.55 271.98,740.2 272.48,741.09 272.98,741.39 273.48,741.66 273.98,742.06 274.48,742.52 274.98,742.49 275.48,742.56 275.98,743.45 276.48,743.55 276.98,743.62 277.48,744.12 277.98,744.18 278.48,744.57 278.98,745.05 279.48,745.16 279.98,745.49 280.48,745.57 280.98,746.4 281.48,746.12 281.98,746.21 282.48,746.68 282.98,746.9 283.48,747.28 283.98,747.36 284.48,747.67 284.98,748.1 285.48,748.31 285.98,748.73 286.48,748.44 286.99,748.7 287.49,748.74 287.99,749.1 288.49,749.23 288.99,749.82 289.49,750.13 289.99,750.11 290.49,750.29 290.99,750.4 291.49,750.72 291.99,750.97 292.49,751.18 292.99,751.4 293.49,751.68 293.99,751.94 294.49,752.38 294.99,752.6 295.49,753.16 295.99,753.42 296.49,753.59 296.99,753.8 297.49,754.36 297.99,754.83 298.49,754.75 298.99,755.44 299.49,755.96 299.99,756.18 300.49,756.58 300.99,757.16 301.49,757.14 301.99,757.11 302.49,757.89 302.99,758.24 303.49,758.21 303.99,758.71 304.49,759.05 304.99,759.08 305.49,759.82 305.99,759.89 306.49,760.05 306.99,760.35 307.49,760.84 307.99,761.03 308.49,760.76 308.99,761.32 309.49,761.56 309.99,761.51 310.49,762.23 310.99,762.11 311.49,762.6 311.99,762.2 312.49,762.81 312.99,762.78 313.49,763.13 313.99,763.1 314.49,763.22 314.99,763.43 315.49,763.64 316,763.68 316.5,763.92 317,764.1 317.5,764.03 318,764.12 318.5,764.65 319,764.71 319.5,764.79 320,764.71 320.5,765.13 321,764.69 321.5,765.07 322,765.14 322.5,765.1 323,765.49 323.5,765.37 324,765.44 324.5,765.36 325,765.87 325.5,765.5 326,765.73 326.5,765.87 327,765.8 327.5,766.12 328,766.15 328.5,766 329,766.25 329.5,766.03 330,766.02" fill="none" stroke="#1268b3" stroke-width="1.7" stroke-linejoin="round"/>
<path d="M294.59 740.3V754.48" stroke="#e3122d" stroke-width="1.6"/>
<rect x="41.9" y="635.6" width="288.1" height="163.6" fill="none" stroke="#231f20" stroke-width="0.9"/>
<path d="M41.9 799.2v-3.2 M41.9 635.6v3.2 M77.91 799.2v-3.2 M77.91 635.6v3.2 M113.93 799.2v-3.2 M113.93 635.6v3.2 M149.94 799.2v-3.2 M149.94 635.6v3.2 M185.95 799.2v-3.2 M185.95 635.6v3.2 M221.96 799.2v-3.2 M221.96 635.6v3.2 M257.98 799.2v-3.2 M257.98 635.6v3.2 M293.99 799.2v-3.2 M293.99 635.6v3.2 M330 799.2v-3.2 M330 635.6v3.2 M41.9 799.2h3.2 M41.9 781.02h3.2 M41.9 762.84h3.2 M41.9 744.67h3.2 M41.9 726.49h3.2 M41.9 708.31h3.2 M41.9 690.13h3.2 M41.9 671.96h3.2 M41.9 653.78h3.2 M41.9 635.6h3.2 M330 799.2h-3.2 M330 782.84h-2.2 M330 766.48h-3.2 M330 750.12h-2.2 M330 733.76h-3.2 M330 717.4h-2.2 M330 701.04h-3.2 M330 684.68h-2.2 M330 668.32h-3.2 M330 651.96h-2.2 M330 635.6h-3.2 " stroke="#231f20" stroke-width="0.8" fill="none"/>
<text class="t" x="42.2" y="812.5" text-anchor="middle">00:00</text><text class="t" x="78.21" y="812.5" text-anchor="middle">03:00</text><text class="t" x="114.23" y="812.5" text-anchor="middle">06:00</text><text class="t" x="150.24" y="812.5" text-anchor="middle">09:00</text><text class="t" x="186.25" y="812.5" text-anchor="middle">12:00</text><text class="t" x="222.26" y="812.5" text-anchor="middle">15:00</text><text class="t" x="258.28" y="812.5" text-anchor="middle">18:00</text><text class="t" x="294.29" y="812.5" text-anchor="middle">21:00</text><text class="t" x="330.3" y="812.5" text-anchor="middle">00:00</text><text class="t" x="37.9" y="802.7" text-anchor="end">15</text><text class="t" x="37.9" y="784.52" text-anchor="end">20</text><text class="t" x="37.9" y="766.34" text-anchor="end">25</text><text class="t" x="37.9" y="748.17" text-anchor="end">30</text><text class="t" x="37.9" y="729.99" text-anchor="end">35</text><text class="t" x="37.9" y="711.81" text-anchor="end">40</text><text class="t" x="37.9" y="693.63" text-anchor="end">45</text><text class="t" x="37.9" y="675.46" text-anchor="end">50</text><text class="t" x="37.9" y="657.28" text-anchor="end">55</text><text class="t" x="37.9" y="639.1" text-anchor="end">60</text><text class="t" x="333" y="802.7">0</text><text class="t" x="333" y="769.98">200</text><text class="t" x="333" y="737.26">400</text><text class="t" x="333" y="704.54">600</text><text class="t" x="333" y="671.82">800</text><text class="t" x="333" y="639.1">1000</text>
<text class="a" x="186.3" y="829.5" text-anchor="middle">Time (hours)</text>
<text class="a" transform="translate(19.6 717.5) rotate(-90)" text-anchor="middle">Temperature (°C)</text>
<text class="a" style="font-size:10.6px" transform="translate(366.3 718) rotate(-90)" text-anchor="middle">Solar irradiance (W m<tspan font-size="7px" dy="-3.6">-2</tspan><tspan dy="3.6">)</tspan></text>
<text class="l" fill="#e3122d" text-anchor="middle"><tspan x="103" y="678.5">Silica-polymer hybrid</tspan><tspan x="102.5" y="690.8">radiative cooler</tspan></text>
<path d="M138.5 693.5L171 714" stroke="#e3122d" stroke-width="0.7"/><path d="M136.5 692.2l4.2 0.9-1.7 2.7z" fill="#e3122d"/>
<text class="l" fill="#231f20" x="193" y="675.5">White paint</text>
<path d="M186 688L191.5 680" stroke="#231f20" stroke-width="0.7"/><path d="M192.8 678l-0.7 4.2-2.6-1.8z" fill="#231f20"/>
<text class="l" fill="#f0891a" x="274.5" y="666">Ground</text>
<path d="M260.5 686L277 671.5" stroke="#f0891a" stroke-width="0.7"/><path d="M279 669.8l-1.6 4-2.1-2.4z" fill="#f0891a"/>
<text class="l" fill="#b4b5b9" x="286.5" y="703.5">Ambient</text>
<path d="M272 723.5L289 709" stroke="#b4b5b9" stroke-width="0.7"/><path d="M291 707.3l-1.6 4-2.1-2.4z" fill="#b4b5b9"/>
<text class="l" fill="#1268b3" x="169" y="762">AS emitter</text>
<path d="M158 744L167.5 752.5" stroke="#1268b3" stroke-width="0.7"/><path d="M169.5 754.3l-4-1.4 2.1-2.4z" fill="#1268b3"/>
</g>
<g id="F">
<path d="M428.9 738.3H726" stroke="#9d9fa2" stroke-width="0.8" stroke-dasharray="6.5 4.5" fill="none"/>
<polyline points="416.9,772.47 417.12,773.78 417.34,774.1 417.56,771.95 417.78,772.24 418,773.22 418.22,773.89 418.45,771.95 418.67,772.64 418.89,773.95 419.11,771.59 419.33,772.03 419.55,773.13 419.77,772.79 419.99,772.38 420.21,773.92 420.43,774.84 420.65,771.76 420.87,775.33 421.09,775.16 421.32,775 421.54,772.54 421.76,771.82 421.98,773.95 422.2,771.44 422.42,770.98 422.64,771.29 422.86,774.66 423.08,771.33 423.3,770.03 423.52,774.09 423.74,774.98 423.97,771.24 424.19,772.19 424.41,772.88 424.63,772.88 424.85,774.97 425.07,773.83 425.29,772.48 425.51,772.1 425.73,771.49 425.95,771.45 426.17,773.22 426.39,772.69 426.61,770.75 426.84,774.28 427.06,771.84 427.28,773.58 427.5,772.19 427.72,770.06 427.94,771.9 428.16,772.96 428.38,773.23 428.6,774.13 428.82,772.33 429.04,775.19 429.26,772.35 429.48,772.05 429.71,773.36 429.93,773.18 430.15,770.63 430.37,770.55 430.59,769.5 430.81,770.63 431.03,771.68 431.25,772.35 431.47,770.47 431.69,771.16 431.91,771.78 432.13,769.69 432.35,772.18 432.58,771.73 432.8,770.53 433.02,771.3 433.24,771.81 433.46,770.55 433.68,768.32 433.9,772.28 434.12,770.94 434.34,771.27 434.56,771.58 434.78,769.63 435,771.87 435.23,769.56 435.45,772.99 435.67,771.55 435.89,772.74 436.11,771.2 436.33,770.78 436.55,770.92 436.77,771.33 436.99,771.94 437.21,773.16 437.43,770.48 437.65,771.52 437.87,770.05 438.1,773.67 438.32,771.82 438.54,773.67 438.76,770.06 438.98,772.39 439.2,772.77 439.42,770.29 439.64,771.51 439.86,771.06 440.08,771.49 440.3,769.91 440.52,770.97 440.74,770.97 440.97,771.31 441.19,770.03 441.41,769.81 441.63,771.69 441.85,770.11 442.07,773.13 442.29,772.21 442.51,771.85 442.73,772.09 442.95,770.41 443.17,772.85 443.39,773.02 443.62,770.74 443.84,772.06 444.06,770.83 444.28,770.75 444.5,771.69 444.72,771.3 444.94,769.64 445.16,770.7 445.38,770.57 445.6,769.76 445.82,771.52 446.04,772.09 446.26,770.96 446.49,768.37 446.71,769.64 446.93,767.51 447.15,769.06 447.37,769.11 447.59,770.89 447.81,772.33 448.03,772.9 448.25,769.95 448.47,771.53 448.69,771.57 448.91,769.29 449.13,769.59 449.36,771.6 449.58,769.56 449.8,768.06 450.02,768.6 450.24,770.67 450.46,768.51 450.68,772.25 450.9,770.03 451.12,770.19 451.34,767.98 451.56,771.09 451.78,770.72 452,769.89 452.23,768.43 452.45,771.17 452.67,769.02 452.89,769.75 453.11,769.84 453.33,770.85 453.55,768.62 453.77,768.94 453.99,768.52 454.21,768.82 454.43,769.15 454.65,770.1 454.88,768.94 455.1,767.87 455.32,768.66 455.54,768.11 455.76,767.64 455.98,768.28 456.2,768.99 456.42,769.89 456.64,766.97 456.86,768.77 457.08,768.73 457.3,768.35 457.52,767.38 457.75,767.28 457.97,769.26 458.19,768.41 458.41,766.77 458.63,769.01 458.85,768.14 459.07,769.24 459.29,769.98 459.51,769.8 459.73,768.03 459.95,767.93 460.17,771.78 460.39,768.87 460.62,768.93 460.84,770.73 461.06,768.93 461.28,769.96 461.5,767.3 461.72,770.42 461.94,767.9 462.16,770.87 462.38,770.78 462.6,767.7 462.82,770.62 463.04,770.3 463.26,771.89 463.49,769.75 463.71,768.25 463.93,770.52 464.15,770.6 464.37,770.35 464.59,771.44 464.81,772.21 465.03,770.6 465.25,771.18 465.47,773.12 465.69,774.08 465.91,770.45 466.14,772.8 466.36,770.68 466.58,770.2 466.8,771.55 467.02,772.34 467.24,774.95 467.46,769.79 467.68,770.72 467.9,772.95 468.12,773.45 468.34,771.54 468.56,774.7 468.78,771.07 469.01,770.64 469.23,773.29 469.45,772.98 469.67,769.15 469.89,771.96 470.11,770.98 470.33,771.51 470.55,773.59 470.77,769.49 470.99,768.56 471.21,771.3 471.43,771.57 471.65,768.3 471.88,772.1 472.1,770.41 472.32,771.63 472.54,771.79 472.76,770.42 472.98,772.95 473.2,770.92 473.42,769.16 473.64,769.61 473.86,768.69 474.08,762.63 474.3,763.41 474.53,763.69 474.75,760.19 474.97,760.65 475.19,762.41 475.41,762.81 475.63,765.39 475.85,766.81 476.07,764.89 476.29,768.25 476.51,767.53 476.73,773.24 476.95,772.98 477.17,774.12 477.4,773.92 477.62,774.4 477.84,773.12 478.06,773.77 478.28,774.5 478.5,773.87 478.72,773.69 478.94,774.31 479.16,777.91 479.38,775.42 479.6,774.05 479.82,775.42 480.04,773.16 480.27,775.7 480.49,775 480.71,776.2 480.93,775.37 481.15,773.82 481.37,773.5 481.59,774.31 481.81,774.67 482.03,775.49 482.25,777.43 482.47,775.05 482.69,776.81 482.91,775.71 483.14,776.32 483.36,775.18 483.58,777.26 483.8,775.47 484.02,776.59 484.24,774.6 484.46,776.97 484.68,777.12 484.9,779.47 485.12,776 485.34,777.2 485.56,780.21 485.79,776.83 486.01,776.93 486.23,778.08 486.45,776.08 486.67,778.02 486.89,778.17 487.11,777.57 487.33,779.65 487.55,777.58 487.77,779.51 487.99,778.18 488.21,777.18 488.43,779.22 488.66,779.65 488.88,776.77 489.1,778.99 489.32,777.75 489.54,778.47 489.76,778.76 489.98,777.61 490.2,779.61 490.42,781.66 490.64,780.08 490.86,780.65 491.08,781.43 491.3,780.61 491.53,779.65 491.75,779.65 491.97,780.29 492.19,780.68 492.41,780.52 492.63,781.29 492.85,781.92 493.07,780.83 493.29,779.9 493.51,782.07 493.73,781.22 493.95,780.45 494.17,782.7 494.4,781.05 494.62,781.42 494.84,780.39 495.06,782.95 495.28,782.46 495.5,779.96 495.72,779.41 495.94,781.38 496.16,780.45 496.38,783.12 496.6,781.11 496.82,782.09 497.05,781.69 497.27,784.24 497.49,782.55 497.71,781.94 497.93,781.48 498.15,782.43 498.37,782.54 498.59,781.92 498.81,781.05 499.03,785.17 499.25,785.84 499.47,783.47 499.69,781.52 499.92,781.34 500.14,782.84 500.36,785.09 500.58,783.18 500.8,784.86 501.02,783.04 501.24,784.44 501.46,782.12 501.68,785.64 501.9,782.59 502.12,785.51 502.34,783.77 502.56,784.34 502.79,786.55 503.01,787.43 503.23,785.25 503.45,785.52 503.67,785.97 503.89,784.35 504.11,784.99 504.33,784.69 504.55,786.9 504.77,785.84 504.99,785.94 505.21,784.51 505.44,784.27 505.66,786.64 505.88,786.11 506.1,789.34 506.32,783.62 506.54,785.88 506.76,785.77 506.98,786.09 507.2,786.82 507.42,788.99 507.64,787.99 507.86,787.94 508.08,787.27 508.31,788.51 508.53,786.88 508.75,786.41 508.97,787.1 509.19,787.23 509.41,784.43 509.63,788.62 509.85,788.36 510.07,786.35 510.29,787.8 510.51,785 510.73,788.02 510.95,787.08 511.18,784.56 511.4,789.27 511.62,785.14 511.84,786.22 512.06,786.21 512.28,783.95 512.5,787.54 512.72,785.07 512.94,787.27 513.16,783.35 513.38,788.83 513.6,786.11 513.82,787.16 514.05,788.53 514.27,783.08 514.49,786.68 514.71,783.91 514.93,795.75 515.15,787.23 515.37,790.93 515.59,779.95 515.81,788.9 516.03,792.39 516.25,795.1 516.47,791.93 516.7,790.53 516.92,782.34 517.14,780.66 517.36,786.76 517.58,782.67 517.8,786.88 518.02,787.17 518.24,777.71 518.46,784.26 518.68,786.29 518.9,778.83 519.12,786.88 519.34,782.65 519.57,774.2 519.79,774.55 520.01,781.55 520.23,790.31 520.45,793.32 520.67,780.81 520.89,788.8 521.11,786.17 521.33,782.64 521.55,785.79 521.77,785.3 521.99,792.77 522.21,786.42 522.44,774.27 522.66,786.11 522.88,759.61 523.1,783.66 523.32,779.31 523.54,787.5 523.76,776.73 523.98,781.91 524.2,779.88 524.42,786.02 524.64,785.18 524.86,778.44 525.09,776.73 525.31,790.97 525.53,784.16 525.75,778.55 525.97,789.17 526.19,785.53 526.41,776.43 526.63,788.08 526.85,785.57 527.07,780.68 527.29,778.31 527.51,790.31 527.73,788.11 527.96,783.82 528.18,793.65 528.4,774.29 528.62,781.18 528.84,779.99 529.06,783.78 529.28,775.02 529.5,779.77 529.72,783.55 529.94,788.12 530.16,766.68 530.38,778.64 530.6,774.19 530.83,782.64 531.05,785.45 531.27,778.27 531.49,774.76 531.71,766.74 531.93,784.83 532.15,770.76 532.37,779.01 532.59,758.95 532.81,774.55 533.03,788.39 533.25,769.91 533.47,788.41 533.7,785.26 533.92,779.35 534.14,775.44 534.36,752.94 534.58,767.31 534.8,771.38 535.02,773.66 535.24,771.96 535.46,776.01 535.68,776.35 535.9,777.37 536.12,781.56 536.35,785.13 536.57,771.39 536.79,775 537.01,779.16 537.23,767.56 537.45,776.3 537.67,773.46 537.89,770.28 538.11,778.05 538.33,767.57 538.55,770.13 538.77,766.41 538.99,776.7 539.22,778.47 539.44,768.63 539.66,776.37 539.88,771.95 540.1,759.56 540.32,776.68 540.54,781.65 540.76,764.27 540.98,768.08 541.2,772 541.42,765.86 541.64,777.05 541.86,757.14 542.09,764.2 542.31,762.02 542.53,773.53 542.75,774.86 542.97,773.99 543.19,774.14 543.41,772.51 543.63,775.13 543.85,787.73 544.07,782.53 544.29,777.77 544.51,783.49 544.73,785.03 544.96,779.78 545.18,778.96 545.4,770.78 545.62,776.21 545.84,776.89 546.06,773.24 546.28,774.59 546.5,764.48 546.72,771.95 546.94,776.04 547.16,778.28 547.38,764.1 547.61,771.54 547.83,766.67 548.05,759.29 548.27,777.07 548.49,768.75 548.71,765 548.93,758.87 549.15,777.91 549.37,766.42 549.59,774 549.81,770.38 550.03,765.73 550.25,758.9 550.48,760.25 550.7,758.05 550.92,761.34 551.14,747.81 551.36,760.13 551.58,755.18 551.8,765.02 552.02,754.72 552.24,764.01 552.46,768.92 552.68,746.89 552.9,753.73 553.12,749.37 553.35,749.06 553.57,760.97 553.79,753.86 554.01,765.02 554.23,759.43 554.45,766.71 554.67,751.3 554.89,758.72 555.11,762.68 555.33,762.28 555.55,756.79 555.77,764.4 556,754.35 556.22,754.29 556.44,751.84 556.66,761.65 556.88,761.31 557.1,759.21 557.32,760.38 557.54,752.64 557.76,763.44 557.98,767.35 558.2,760.53 558.42,765.78 558.64,764.6 558.87,762.54 559.09,761.02 559.31,761.94 559.53,764.79 559.75,756.21 559.97,758.46 560.19,751.03 560.41,764.15 560.63,761.36 560.85,760.33 561.07,756.75 561.29,753.71 561.51,756.17 561.74,763.44 561.96,765.73 562.18,761.23 562.4,774.28 562.62,765.92 562.84,757.39 563.06,775.75 563.28,755.13 563.5,773.25 563.72,767.42 563.94,768.06 564.16,770.4 564.38,762.44 564.61,764.73 564.83,760.26 565.05,778.04 565.27,763.96 565.49,760.67 565.71,783.86 565.93,772.35 566.15,765.35 566.37,764.89 566.59,770.68 566.81,772.57 567.03,773.74 567.26,761.23 567.48,773.24 567.7,768.55 567.92,775.39 568.14,769.6 568.36,766.82 568.58,766.98 568.8,765.38 569.02,755.26 569.24,773.61 569.46,773.44 569.68,758.65 569.9,768.86 570.13,761.35 570.35,773.74 570.57,765.99 570.79,761.36 571.01,776.9 571.23,765.33 571.45,766.28 571.67,765.1 571.89,760.16 572.11,766.47 572.33,760.81 572.55,758.93 572.77,757.07 573,757.67 573.22,766.34 573.44,764.69 573.66,756.33 573.88,765.3 574.1,761.1 574.32,762.23 574.54,771.82 574.76,751.54 574.98,764.28 575.2,756.92 575.42,757.83 575.64,760.91 575.87,760.78 576.09,764.34 576.31,769.11 576.53,763.42 576.75,765.77 576.97,759.38 577.19,768.23 577.41,767.1 577.63,752 577.85,768.13 578.07,763.16 578.29,768.82 578.52,756.65 578.74,759.65 578.96,756.5 579.18,752.62 579.4,751.29 579.62,758.92 579.84,769.48 580.06,763.59 580.28,768.82 580.5,761.7 580.72,753.65 580.94,751.76 581.16,759.17 581.39,755.07 581.61,761.97 581.83,760.42 582.05,755.18 582.27,752.49 582.49,765.44 582.71,751.07 582.93,775.22 583.15,760.36 583.37,743.72 583.59,751.84 583.81,754.06 584.03,760.09 584.26,763.27 584.48,760.32 584.7,759.73 584.92,753.7 585.14,754.01 585.36,744.86 585.58,755.64 585.8,751.79 586.02,761.91 586.24,761.34 586.46,748.02 586.68,763.9 586.9,764.68 587.13,752.67 587.35,758.35 587.57,760.89 587.79,776.24 588.01,766.06 588.23,754.34 588.45,750.47 588.67,750.85 588.89,749.12 589.11,756.16 589.33,759.41 589.55,764.9 589.78,756.33 590,762.32 590.22,769.26 590.44,760.12 590.66,758.43 590.88,757.52 591.1,756.37 591.32,761.84 591.54,753.41 591.76,762.05 591.98,759.11 592.2,761.5 592.42,761.16 592.65,767.65 592.87,762.04 593.09,762.3 593.31,754.64 593.53,764.78 593.75,758.95 593.97,768.9 594.19,762.32 594.41,761.58 594.63,757.75 594.85,777.87 595.07,767.55 595.29,747.49 595.52,761.44 595.74,771.67 595.96,768.71 596.18,773.36 596.4,783.08 596.62,759.84 596.84,768.75 597.06,763.05 597.28,763.7 597.5,773.07 597.72,759.78 597.94,781.2 598.17,784.83 598.39,762.96 598.61,773.89 598.83,769.15 599.05,760.41 599.27,772.96 599.49,764.95 599.71,768.53 599.93,758.95 600.15,769.9 600.37,769.37 600.59,753.28 600.81,774.23 601.04,762.48 601.26,771.36 601.48,774.3 601.7,769.55 601.92,765.21 602.14,775.98 602.36,778.44 602.58,764.48 602.8,772.39 603.02,773.19 603.24,777.38 603.46,769.72 603.68,774.37 603.91,765.36 604.13,779.64 604.35,766.71 604.57,767.6 604.79,771.57 605.01,772.12 605.23,765.91 605.45,769.35 605.67,773.33 605.89,770.41 606.11,762.36 606.33,765.03 606.55,765.38 606.78,764.05 607,760.06 607.22,759.12 607.44,776.22 607.66,768.11 607.88,761.01 608.1,769.66 608.32,760.19 608.54,768.3 608.76,771.53 608.98,769.82 609.2,766.77 609.43,769.12 609.65,782.03 609.87,768.38 610.09,770.62 610.31,772.68 610.53,776.45 610.75,780.21 610.97,766.84 611.19,774.11 611.41,769.2 611.63,770 611.85,756.22 612.07,765.28 612.3,779.73 612.52,774.21 612.74,772.84 612.96,766.71 613.18,770.17 613.4,774.25 613.62,763.78 613.84,773.02 614.06,771.54 614.28,763.79 614.5,763.67 614.72,768.77 614.94,765.14 615.17,767.57 615.39,774.39 615.61,772.68 615.83,769.8 616.05,764.96 616.27,772.36 616.49,772.19 616.71,773.7 616.93,771.1 617.15,773.94 617.37,768.57 617.59,766.87 617.81,769.6 618.04,777.79 618.26,775.71 618.48,770.65 618.7,765.24 618.92,772.3 619.14,767.43 619.36,770.58 619.58,766.04 619.8,774.38 620.02,774.38 620.24,772.15 620.46,769.86 620.69,769.63 620.91,763.3 621.13,768.82 621.35,773.71 621.57,767.57 621.79,776.27 622.01,767.89 622.23,770.41 622.45,773.12 622.67,771.52 622.89,771.75 623.11,768.55 623.33,770.8 623.56,767.19 623.78,772.08 624,765.44 624.22,763.95 624.44,769 624.66,766.48 624.88,770.41 625.1,768.95 625.32,768.97 625.54,775.5 625.76,767.5 625.98,772.7 626.2,771.31 626.43,771.52 626.65,768.39 626.87,770.5 627.09,770.83 627.31,770.9 627.53,771.6 627.75,768.17 627.97,772.71 628.19,770.24 628.41,770.9 628.63,770.36 628.85,771.74 629.08,772.07 629.3,769.31 629.52,769.6 629.74,772.1 629.96,773.25 630.18,771.49 630.4,770.32 630.62,772.44 630.84,772.48 631.06,775.41 631.28,770.35 631.5,772.27 631.72,769.28 631.95,769.97 632.17,770.73 632.39,770.53 632.61,769.88 632.83,770.57 633.05,770.23 633.27,768.96 633.49,772.14 633.71,773.27 633.93,770.9 634.15,771.79 634.37,767.65 634.59,771.26 634.82,772.95 635.04,771.09 635.26,771.14 635.48,768.42 635.7,770.57 635.92,769.33 636.14,770.85 636.36,772.91 636.58,771.45 636.8,772.49 637.02,767.33 637.24,768.5 637.46,772.16 637.69,775.53 637.91,772.36 638.13,771.75 638.35,772.61 638.57,770.79 638.79,770.67 639.01,770.07 639.23,770.41 639.45,772.42 639.67,772.25 639.89,770.14 640.11,770.76 640.34,775.02 640.56,770.63 640.78,769.07 641,773.66 641.22,771.83 641.44,768.4 641.66,772.11 641.88,769.4 642.1,772.94 642.32,771.99 642.54,773.05 642.76,772.1 642.98,771.4 643.21,773.01 643.43,771.58 643.65,772.93 643.87,769.96 644.09,771.75 644.31,770.04 644.53,773.57 644.75,771.94 644.97,769.85 645.19,773.2 645.41,769.71 645.63,772.23 645.85,770.97 646.08,771.52 646.3,772.03 646.52,771.04 646.74,770.91 646.96,773.18 647.18,770.17 647.4,773.13 647.62,772.1 647.84,770.83 648.06,774.58 648.28,771.75 648.5,771.24 648.73,770.63 648.95,770.9 649.17,774.1 649.39,774.41 649.61,772.07 649.83,768.86 650.05,770.77 650.27,773.55 650.49,771.65 650.71,771.72 650.93,772.61 651.15,773.15 651.37,774.51 651.6,774.52 651.82,771.62 652.04,772.5 652.26,772.54 652.48,770.8 652.7,770.85 652.92,775.25 653.14,772.96 653.36,772.61 653.58,773.92 653.8,773.12 654.02,773.85 654.24,768.96 654.47,773.32 654.69,771.24 654.91,774.87 655.13,776.57 655.35,770.85 655.57,772.17 655.79,773.55 656.01,773.87 656.23,771.86 656.45,772.21 656.67,774.61 656.89,770.91 657.11,770.7 657.34,773.76 657.56,778.65 657.78,770.77 658,771.61 658.22,774.12 658.44,775.46 658.66,773.02 658.88,771.46 659.1,771.92 659.32,773.96 659.54,775.45 659.76,776.84 659.99,775.51 660.21,775.52 660.43,775.48 660.65,771.54 660.87,775.58 661.09,777.93 661.31,772.58 661.53,773.08 661.75,774.02 661.97,772.75 662.19,773.84 662.41,772.04 662.63,775.61 662.86,773.6 663.08,775.52 663.3,774.21 663.52,772.93 663.74,773.4 663.96,773.45 664.18,772.51 664.4,771.27 664.62,777.49 664.84,774.97 665.06,772.31 665.28,774.37 665.5,772.58 665.73,770.93 665.95,772.69 666.17,772.94 666.39,773.83 666.61,775.11 666.83,774.68 667.05,771.9 667.27,771.58 667.49,772.46 667.71,774.53 667.93,776.75 668.15,774.39 668.37,775.52 668.6,773.36 668.82,776.41 669.04,777.04 669.26,772.54 669.48,775.21 669.7,774.6 669.92,774.91 670.14,775.24 670.36,775.95 670.58,775.31 670.8,776.41 671.02,773.93 671.25,775.71 671.47,777.31 671.69,775.73 671.91,773.99 672.13,774.91 672.35,775.68 672.57,777.51 672.79,776.52 673.01,775.41 673.23,775.45 673.45,773.01 673.67,773.97 673.89,774.68 674.12,777.68 674.34,772.59 674.56,775.57 674.78,779.25 675,773.38 675.22,775.3 675.44,774.54 675.66,775.72 675.88,775.16 676.1,777.4 676.32,776.35 676.54,774.57 676.76,773.27 676.99,778.17 677.21,775.01 677.43,774.76 677.65,778.59 677.87,775.9 678.09,776.33 678.31,777.93 678.53,776.79 678.75,775.08 678.97,774.08 679.19,777.06 679.41,775.89 679.63,774.47 679.86,775.03 680.08,778.34 680.3,774.22 680.52,772.42 680.74,776.11 680.96,771.92 681.18,778.96 681.4,778.28 681.62,776.06 681.84,773.15 682.06,775.41 682.28,775.1 682.51,777.33 682.73,776.57 682.95,776.48 683.17,774.29 683.39,776.73 683.61,777.23 683.83,775.73 684.05,773.1 684.27,779.23 684.49,777.92 684.71,775.01 684.93,776.77 685.15,773.51 685.38,778.65 685.6,778.5 685.82,774.16 686.04,776 686.26,775.87 686.48,776.34 686.7,777.48 686.92,777.5 687.14,775.22 687.36,775.35 687.58,775.14 687.8,776.58 688.02,779.75 688.25,775.71 688.47,775.96 688.69,775.99 688.91,778.16 689.13,777.67 689.35,772.94 689.57,775.38 689.79,775.88 690.01,778.46 690.23,775.93 690.45,772.13 690.67,774.85 690.9,769.52 691.12,779.67 691.34,777.23 691.56,778.29 691.78,776.65 692,774.22 692.22,776.62 692.44,777.7 692.66,771.7 692.88,774.98 693.1,775.91 693.32,773.99 693.54,778.13 693.77,775.51 693.99,774.57 694.21,772.68 694.43,774.59 694.65,772.85 694.87,774.11 695.09,774.27 695.31,780.63 695.53,773.26 695.75,773.6 695.97,774.91 696.19,775.21 696.41,775.07 696.64,776.39 696.86,776.01 697.08,780.67 697.3,777.36 697.52,775.33 697.74,773.54 697.96,777.01 698.18,772.81 698.4,775.72 698.62,775.94 698.84,775.24 699.06,773.12 699.28,777.21 699.51,773.64 699.73,773.3 699.95,775.57 700.17,773.45 700.39,774.93 700.61,774.74 700.83,778.09 701.05,774.84 701.27,776.26 701.49,778.76 701.71,773.02 701.93,777.02 702.16,775.53 702.38,772.55 702.6,775.68 702.82,776.48 703.04,771.81 703.26,775.31 703.48,774.03 703.7,772.6 703.92,774.03 704.14,776.37 704.36,776.47 704.58,775.95 704.8,772.84 705.03,774.3 705.25,776.87 705.47,776.88 705.69,775.71 705.91,775.34 706.13,775.88 706.35,777.43 706.57,773 706.79,775.01 707.01,776.54 707.23,775.17 707.45,777.7 707.67,776.87 707.9,778.13 708.12,776.56 708.34,777.61 708.56,776.65 708.78,780.7 709,776.4 709.22,775.94 709.44,774.64 709.66,778.29 709.88,776.01 710.1,777.84 710.32,774.46 710.55,775.63 710.77,776.97 710.99,781.22 711.21,775.02 711.43,773.96 711.65,776.66 711.87,778.1 712.09,775.2 712.31,776.95 712.53,778.11 712.75,774.52 712.97,775.82 713.19,774.94 713.42,777.04 713.64,774.98 713.86,777.77 714.08,778.07 714.3,779.31 714.52,776.75 714.74,779.56 714.96,778.15 715.18,779.63 715.4,777.17 715.62,773.53 715.84,778.77 716.06,778.51 716.29,778.32 716.51,778.44 716.73,777.04 716.95,773.44 717.17,776.95 717.39,775.76 717.61,779.11 717.83,778.53 718.05,776.27 718.27,776.7 718.49,777.4 718.71,778.47 718.93,778.38 719.16,777.48 719.38,773.31 719.6,775.39 719.82,779.48 720.04,776.95 720.26,776.78 720.48,777.27 720.7,781.77 720.92,778.18 721.14,776.18 721.36,778.51 721.58,779.09 721.81,777.98 722.03,777.44 722.25,778.77 722.47,778.36 722.69,776.93 722.91,778.26 723.13,781.56 723.35,779.53 723.57,777.53 723.79,777.44 724.01,778.55 724.23,778.04 724.45,779.73 724.68,777.11 724.9,779 725.12,775.93 725.34,780.78 725.56,778.8 725.78,777.28 726,778.86" fill="none" stroke="#1a6fb8" stroke-width="1.3" stroke-linejoin="round"/>
<path d="M689.29 765.03V783.53" stroke="#1a6fb8" stroke-width="1.1"/><polyline points="416.9,766.45 417.12,767.04 417.34,766.52 417.56,766.26 417.78,766.46 418,766.27 418.22,766.82 418.45,767.71 418.67,766.75 418.89,765.15 419.11,764.67 419.33,766.12 419.55,767.62 419.77,765.34 419.99,765.77 420.21,766.48 420.43,764.7 420.65,764.28 420.87,766.47 421.09,765.76 421.32,764.66 421.54,766.46 421.76,764.86 421.98,763.38 422.2,764.96 422.42,764.13 422.64,766.02 422.86,767.72 423.08,764.23 423.3,761.77 423.52,765.95 423.74,764.98 423.97,765.78 424.19,765.68 424.41,763.93 424.63,764.07 424.85,767.01 425.07,764.43 425.29,765.42 425.51,764.06 425.73,760.47 425.95,765.57 426.17,763.06 426.39,766.45 426.61,763.57 426.84,762.05 427.06,764.36 427.28,762.67 427.5,765.48 427.72,765.56 427.94,762.65 428.16,763.7 428.38,762 428.6,763.64 428.82,765.86 429.04,764.09 429.26,766.14 429.48,763.7 429.71,766.88 429.93,763.8 430.15,766.87 430.37,764.04 430.59,764.41 430.81,762.93 431.03,761.01 431.25,761.48 431.47,762.31 431.69,763.84 431.91,764.38 432.13,762.02 432.35,764.98 432.58,763.3 432.8,762.32 433.02,764.28 433.24,765.14 433.46,765.69 433.68,764.68 433.9,764.44 434.12,760.91 434.34,760.73 434.56,763.8 434.78,764.12 435,762.78 435.23,764.48 435.45,763.1 435.67,763.35 435.89,763.52 436.11,763.15 436.33,762.39 436.55,762.09 436.77,762.08 436.99,765.14 437.21,763.42 437.43,764.74 437.65,760.76 437.87,766.06 438.1,762.61 438.32,763.23 438.54,761.58 438.76,761.32 438.98,760.53 439.2,765.23 439.42,764.24 439.64,764.7 439.86,762.34 440.08,760.77 440.3,759.66 440.52,761.51 440.74,761.86 440.97,761.7 441.19,762.21 441.41,758.03 441.63,763.21 441.85,760.79 442.07,761.49 442.29,761.06 442.51,765.38 442.73,764.75 442.95,762.62 443.17,763.82 443.39,760.8 443.62,760 443.84,760.91 444.06,761.16 444.28,759.57 444.5,761.67 444.72,761.25 444.94,762.44 445.16,761.18 445.38,761.6 445.6,761.41 445.82,762.22 446.04,760.93 446.26,762.45 446.49,759.83 446.71,761.3 446.93,762.69 447.15,762.1 447.37,760.59 447.59,762.74 447.81,762.38 448.03,760.91 448.25,760.22 448.47,761.18 448.69,761.84 448.91,760.72 449.13,762.45 449.36,759.69 449.58,760 449.8,758.32 450.02,761.63 450.24,763.13 450.46,764.17 450.68,758.13 450.9,760.53 451.12,759.29 451.34,761.47 451.56,759.44 451.78,760.94 452,756.69 452.23,761.5 452.45,758.71 452.67,763.18 452.89,760.9 453.11,761.85 453.33,758.34 453.55,758.55 453.77,757.45 453.99,758.36 454.21,758.88 454.43,762.34 454.65,759.8 454.88,760.77 455.1,760.89 455.32,760.54 455.54,758.28 455.76,760.79 455.98,761.29 456.2,758.31 456.42,759.06 456.64,761.23 456.86,760.69 457.08,757.85 457.3,759.82 457.52,759.48 457.75,759.26 457.97,758.38 458.19,759.73 458.41,759.09 458.63,758.84 458.85,760.74 459.07,757.57 459.29,757.3 459.51,758.82 459.73,759.31 459.95,759.21 460.17,760.63 460.39,756.8 460.62,761.05 460.84,761.11 461.06,761.04 461.28,758.66 461.5,757.56 461.72,760.34 461.94,761.84 462.16,760.74 462.38,759.58 462.6,760.54 462.82,759.48 463.04,761.17 463.26,761.89 463.49,761.96 463.71,761.95 463.93,760.83 464.15,758.71 464.37,760.01 464.59,762.44 464.81,760.22 465.03,759.81 465.25,761.29 465.47,759.86 465.69,761.53 465.91,762.28 466.14,760.3 466.36,758.1 466.58,763.88 466.8,762.81 467.02,762.07 467.24,761.26 467.46,758.96 467.68,760.43 467.9,761.25 468.12,761.75 468.34,763.04 468.56,762.7 468.78,760.69 469.01,761.53 469.23,762.47 469.45,762.16 469.67,762.4 469.89,760.94 470.11,764.4 470.33,761.66 470.55,763.42 470.77,762.66 470.99,761.34 471.21,761.59 471.43,759.34 471.65,759.86 471.88,762.64 472.1,761.14 472.32,760.5 472.54,761.9 472.76,763.45 472.98,760.72 473.2,761.12 473.42,761.43 473.64,760.68 473.86,756.62 474.08,759.05 474.3,757.68 474.53,754.26 474.75,755.32 474.97,753.41 475.19,755.86 475.41,757.05 475.63,757.86 475.85,755.99 476.07,758.85 476.29,761.01 476.51,760.88 476.73,762.27 476.95,760.64 477.17,764.21 477.4,764.4 477.62,762.21 477.84,764.88 478.06,761.76 478.28,761.32 478.5,760.11 478.72,759.39 478.94,759.63 479.16,760.07 479.38,759.01 479.6,761.44 479.82,762.15 480.04,761.14 480.27,760.68 480.49,761.84 480.71,759.53 480.93,760.94 481.15,757 481.37,763.03 481.59,761.42 481.81,761.15 482.03,762.61 482.25,760.99 482.47,762.12 482.69,762.55 482.91,763.75 483.14,760.2 483.36,761.44 483.58,762.8 483.8,762.3 484.02,762.12 484.24,762.31 484.46,762.18 484.68,763.17 484.9,763.33 485.12,761 485.34,763.19 485.56,761.49 485.79,760.76 486.01,764.11 486.23,761.81 486.45,763.17 486.67,764.4 486.89,763.57 487.11,763.31 487.33,763.51 487.55,762.93 487.77,765.03 487.99,763.56 488.21,763.37 488.43,762.54 488.66,760.6 488.88,763.73 489.1,763.25 489.32,764.97 489.54,762.05 489.76,764.42 489.98,765.52 490.2,764.54 490.42,765.31 490.64,767.04 490.86,764.38 491.08,766.24 491.3,764.26 491.53,765.67 491.75,764.1 491.97,768.8 492.19,764.49 492.41,765.15 492.63,766.33 492.85,767.32 493.07,765.44 493.29,765.49 493.51,762.17 493.73,767.63 493.95,765.56 494.17,766.31 494.4,766.22 494.62,767.77 494.84,767.22 495.06,765.75 495.28,767.05 495.5,768.15 495.72,766.81 495.94,766.82 496.16,765.91 496.38,766.95 496.6,767.78 496.82,769.37 497.05,765.06 497.27,768.52 497.49,766.73 497.71,769.2 497.93,770.35 498.15,768.64 498.37,769.12 498.59,769.32 498.81,770.24 499.03,769.4 499.25,770.64 499.47,769.18 499.69,771.18 499.92,769.58 500.14,769.92 500.36,769.04 500.58,767.66 500.8,770.07 501.02,770.63 501.24,767.82 501.46,770.16 501.68,771.72 501.9,770.87 502.12,769.95 502.34,769.94 502.56,770.97 502.79,768.2 503.01,773.23 503.23,773.93 503.45,774.27 503.67,770.15 503.89,771.33 504.11,770.98 504.33,772.33 504.55,769.2 504.77,771.96 504.99,774.96 505.21,774.64 505.44,770.61 505.66,771.67 505.88,775.37 506.1,774.56 506.32,773.45 506.54,773.16 506.76,774.41 506.98,774.63 507.2,773.43 507.42,773.34 507.64,772.59 507.86,773.25 508.08,774.28 508.31,775.09 508.53,773.74 508.75,772.46 508.97,774.85 509.19,773.26 509.41,774.23 509.63,773.03 509.85,775.63 510.07,775.24 510.29,775.82 510.51,772.9 510.73,774.37 510.95,773.54 511.18,774.31 511.4,773.71 511.62,772.98 511.84,773.25 512.06,774.38 512.28,769.9 512.5,771.46 512.72,774.11 512.94,772.92 513.16,776.64 513.38,770.69 513.6,772.41 513.82,773.59 514.05,777.03 514.27,771.63 514.49,772.24 514.71,768.8 514.93,778.15 515.15,773.55 515.37,769.38 515.59,770.81 515.81,773.88 516.03,771.42 516.25,775.39 516.47,788.92 516.7,774.22 516.92,768.22 517.14,761.1 517.36,776.32 517.58,768.79 517.8,769.63 518.02,765.09 518.24,762.55 518.46,766.25 518.68,759.32 518.9,760.8 519.12,758.28 519.34,768.63 519.57,755.95 519.79,767.87 520.01,765.28 520.23,778.42 520.45,766.14 520.67,773.53 520.89,755.94 521.11,759.32 521.33,749.56 521.55,751.81 521.77,760.46 521.99,756.15 522.21,763.96 522.44,768.23 522.66,767.75 522.88,767.6 523.1,765.43 523.32,752.72 523.54,772.14 523.76,768.03 523.98,766.14 524.2,750.57 524.42,766.73 524.64,762.69 524.86,773.04 525.09,756.89 525.31,757.86 525.53,761.11 525.75,764.99 525.97,755.16 526.19,759.08 526.41,775.96 526.63,769.64 526.85,768.86 527.07,755.76 527.29,756.52 527.51,760.71 527.73,764.84 527.96,763.2 528.18,752.89 528.4,762.96 528.62,758.3 528.84,757.13 529.06,754.81 529.28,771.25 529.5,763.84 529.72,760.66 529.94,758.43 530.16,758.59 530.38,754.94 530.6,758.47 530.83,759.64 531.05,758.28 531.27,753.12 531.49,757.29 531.71,750.39 531.93,755.66 532.15,751.23 532.37,753 532.59,742.87 532.81,746.57 533.03,750.31 533.25,743.51 533.47,738.95 533.7,738.56 533.92,742.92 534.14,737.41 534.36,752.8 534.58,742.74 534.8,752.24 535.02,742.19 535.24,747.29 535.46,739.79 535.68,741.27 535.9,754.81 536.12,753.2 536.35,746.13 536.57,735.31 536.79,743.83 537.01,744.67 537.23,751.32 537.45,746.29 537.67,735.6 537.89,746.66 538.11,733.32 538.33,734.11 538.55,747.26 538.77,744.57 538.99,741.48 539.22,745.46 539.44,750.94 539.66,743.66 539.88,736.67 540.1,739.62 540.32,746.02 540.54,745.41 540.76,730.94 540.98,726.39 541.2,732.79 541.42,741.19 541.64,739.9 541.86,740.08 542.09,728.15 542.31,741.1 542.53,741.2 542.75,742.38 542.97,737.72 543.19,729.5 543.41,740.79 543.63,740.34 543.85,750.67 544.07,737.63 544.29,752.22 544.51,737.27 544.73,735.4 544.96,743.07 545.18,742.25 545.4,738.36 545.62,733.26 545.84,746.31 546.06,730.38 546.28,739.26 546.5,734.1 546.72,732.64 546.94,738.54 547.16,733.42 547.38,731.52 547.61,745.32 547.83,728.79 548.05,727.56 548.27,737.71 548.49,741.36 548.71,739.75 548.93,728 549.15,741.17 549.37,737.76 549.59,735.23 549.81,716.74 550.03,734.86 550.25,744.9 550.48,732.52 550.7,726.99 550.92,720.89 551.14,725.5 551.36,724.38 551.58,717.17 551.8,707.33 552.02,721.27 552.24,703.73 552.46,709.07 552.68,723.1 552.9,711.23 553.12,723.45 553.35,725.96 553.57,714.54 553.79,708.91 554.01,715.35 554.23,724.76 554.45,722.16 554.67,719.18 554.89,721.87 555.11,715.46 555.33,719.85 555.55,709.77 555.77,711.43 556,725.91 556.22,710.5 556.44,719.59 556.66,716.03 556.88,712.74 557.1,714.15 557.32,726.29 557.54,719.52 557.76,716.13 557.98,730.77 558.2,730.69 558.42,724.02 558.64,714.97 558.87,718.52 559.09,714.23 559.31,726.6 559.53,714.25 559.75,721.63 559.97,719.7 560.19,714.27 560.41,713.23 560.63,729.52 560.85,712.86 561.07,715.4 561.29,714.91 561.51,719.79 561.74,715.63 561.96,721.72 562.18,718.85 562.4,735.33 562.62,734.76 562.84,725.66 563.06,736.42 563.28,733.88 563.5,738.01 563.72,730.83 563.94,728.56 564.16,723.64 564.38,727.07 564.61,727.99 564.83,728.58 565.05,724.28 565.27,726.38 565.49,724.58 565.71,717.67 565.93,721.69 566.15,728.68 566.37,721.13 566.59,711.52 566.81,726.03 567.03,729.64 567.26,729.27 567.48,727.62 567.7,728.22 567.92,721.69 568.14,722.41 568.36,724.39 568.58,732.34 568.8,726.42 569.02,713.34 569.24,724.15 569.46,724.61 569.68,728.19 569.9,725.82 570.13,729.72 570.35,731.41 570.57,722.69 570.79,718.8 571.01,727.89 571.23,730.59 571.45,718.43 571.67,728.33 571.89,721.88 572.11,723.93 572.33,722.83 572.55,722.09 572.77,725.82 573,731.37 573.22,710.46 573.44,725.32 573.66,738.55 573.88,711.51 574.1,711.43 574.32,726.98 574.54,718.81 574.76,720.82 574.98,719.47 575.2,718.44 575.42,727.59 575.64,725.5 575.87,729.34 576.09,723.89 576.31,717.95 576.53,735.6 576.75,713.57 576.97,715.22 577.19,729.82 577.41,723.94 577.63,721.31 577.85,719.09 578.07,718.6 578.29,724.34 578.52,729.39 578.74,730.22 578.96,714.43 579.18,716.07 579.4,714.68 579.62,726.32 579.84,719.6 580.06,717.63 580.28,718.53 580.5,726.27 580.72,720.02 580.94,716.72 581.16,722.13 581.39,722.84 581.61,723.67 581.83,704.6 582.05,709.8 582.27,715.9 582.49,714.04 582.71,715.25 582.93,717.54 583.15,710.34 583.37,724.55 583.59,725.69 583.81,716.06 584.03,703.93 584.26,715.23 584.48,722.38 584.7,718.27 584.92,712.42 585.14,714.77 585.36,728.66 585.58,723.97 585.8,705.14 586.02,725.23 586.24,712.95 586.46,710.81 586.68,731.1 586.9,713.45 587.13,715.33 587.35,712.93 587.57,711.86 587.79,712.41 588.01,714.06 588.23,711.29 588.45,718.16 588.67,711.53 588.89,712.86 589.11,716.35 589.33,713.5 589.55,715.25 589.78,715.33 590,722.8 590.22,710.26 590.44,713.87 590.66,723.2 590.88,720.51 591.1,721.13 591.32,725.15 591.54,718.88 591.76,723.38 591.98,712.17 592.2,722.31 592.42,715.82 592.65,709.26 592.87,713.65 593.09,715.42 593.31,711.01 593.53,721.71 593.75,715.75 593.97,731.97 594.19,721.96 594.41,729.98 594.63,726.34 594.85,723.94 595.07,715.73 595.29,720.5 595.52,720.99 595.74,722.04 595.96,729.6 596.18,732.13 596.4,730.43 596.62,735.05 596.84,725 597.06,729.2 597.28,737.35 597.5,724.31 597.72,727.24 597.94,724.64 598.17,729.29 598.39,729.01 598.61,736.9 598.83,727.92 599.05,729.95 599.27,735.71 599.49,726.92 599.71,724.51 599.93,717.51 600.15,723.51 600.37,731.89 600.59,754.52 600.81,718.77 601.04,724.67 601.26,721.2 601.48,734.57 601.7,724.66 601.92,729.27 602.14,739.44 602.36,723.59 602.58,722.7 602.8,720.5 603.02,731.19 603.24,727.49 603.46,723.23 603.68,736.77 603.91,746.02 604.13,725.13 604.35,733.99 604.57,723.76 604.79,737.89 605.01,734.74 605.23,740.13 605.45,734 605.67,730.91 605.89,721.61 606.11,734.88 606.33,733.37 606.55,733.02 606.78,734.49 607,731.05 607.22,743.05 607.44,728.38 607.66,736.74 607.88,708.84 608.1,736.47 608.32,739.14 608.54,728.56 608.76,733.55 608.98,741.33 609.2,725.69 609.43,732.37 609.65,740.3 609.87,732.99 610.09,732.25 610.31,736.95 610.53,733.73 610.75,742.27 610.97,734.62 611.19,734.9 611.41,745.86 611.63,740.15 611.85,725.69 612.07,739.06 612.3,739.95 612.52,741.6 612.74,737.45 612.96,738.39 613.18,738.95 613.4,740.52 613.62,743.02 613.84,738.5 614.06,738.28 614.28,742.45 614.5,737.32 614.72,741.8 614.94,734.32 615.17,739.55 615.39,736.46 615.61,735.21 615.83,732.51 616.05,740.95 616.27,739.59 616.49,737.06 616.71,741.3 616.93,744.9 617.15,736.58 617.37,736.31 617.59,737.1 617.81,744.23 618.04,734.3 618.26,740.69 618.48,737.49 618.7,735.75 618.92,742.44 619.14,753.25 619.36,740.7 619.58,738.18 619.8,737.34 620.02,744.97 620.24,737.62 620.46,737.57 620.69,736.98 620.91,741.57 621.13,742.08 621.35,741.11 621.57,737.75 621.79,741.24 622.01,743.55 622.23,741.8 622.45,738.21 622.67,742.38 622.89,744.54 623.11,745.79 623.33,740.19 623.56,744.74 623.78,739.44 624,745.52 624.22,743.67 624.44,739.36 624.66,745.3 624.88,743.28 625.1,743.47 625.32,744.68 625.54,740.02 625.76,746.91 625.98,740.59 626.2,739.1 626.43,741.63 626.65,740.93 626.87,742.91 627.09,743.58 627.31,741.59 627.53,743.45 627.75,741.6 627.97,745.55 628.19,748.15 628.41,744.62 628.63,746.53 628.85,739.75 629.08,743.95 629.3,746.09 629.52,747.14 629.74,743.6 629.96,742.98 630.18,743.86 630.4,745.98 630.62,742.26 630.84,742.2 631.06,745.78 631.28,742.72 631.5,741.96 631.72,741.8 631.95,745.37 632.17,745.96 632.39,742.22 632.61,743.57 632.83,743.73 633.05,745.89 633.27,747.61 633.49,746.6 633.71,743.68 633.93,747.19 634.15,747.11 634.37,746.21 634.59,744.92 634.82,742.15 635.04,747.35 635.26,745.53 635.48,745.56 635.7,749.54 635.92,747.58 636.14,751.08 636.36,749.39 636.58,747.77 636.8,745.4 637.02,745.55 637.24,744.44 637.46,747.04 637.69,745.97 637.91,746.42 638.13,747.95 638.35,749.25 638.57,744.61 638.79,747.76 639.01,746.56 639.23,744.97 639.45,750.41 639.67,749.66 639.89,746.04 640.11,750.47 640.34,750.32 640.56,748.91 640.78,749.3 641,748.96 641.22,749.63 641.44,748.43 641.66,749.47 641.88,748.16 642.1,747.11 642.32,748.39 642.54,750.67 642.76,750.06 642.98,748.73 643.21,750 643.43,750.94 643.65,749.78 643.87,749.41 644.09,749.82 644.31,748.86 644.53,749.07 644.75,749.3 644.97,749.08 645.19,752.03 645.41,748.41 645.63,751.53 645.85,752.78 646.08,750.49 646.3,751.08 646.52,751.93 646.74,751.01 646.96,748.47 647.18,752.2 647.4,752.86 647.62,754.28 647.84,749.98 648.06,750.87 648.28,750.84 648.5,753.18 648.73,754.29 648.95,753.96 649.17,748.04 649.39,752.46 649.61,750.94 649.83,753.67 650.05,754.36 650.27,751.94 650.49,752.66 650.71,751.69 650.93,752.03 651.15,750.33 651.37,752.9 651.6,754.92 651.82,755.38 652.04,753.87 652.26,752.91 652.48,752.29 652.7,754.96 652.92,754.89 653.14,752.63 653.36,758.18 653.58,755.77 653.8,756.26 654.02,755.28 654.24,752.12 654.47,753.64 654.69,754.47 654.91,758.14 655.13,754.98 655.35,752.33 655.57,758.75 655.79,756.04 656.01,754.27 656.23,756.03 656.45,755.88 656.67,759.83 656.89,756.34 657.11,758.8 657.34,757.14 657.56,753.82 657.78,754.08 658,759.79 658.22,761.54 658.44,758.47 658.66,754.31 658.88,757.85 659.1,757.86 659.32,757.36 659.54,760.86 659.76,757.61 659.99,758.96 660.21,757.84 660.43,757.91 660.65,761.2 660.87,762.19 661.09,758.44 661.31,761.91 661.53,763.03 661.75,760.74 661.97,759.42 662.19,757.79 662.41,759.12 662.63,760.54 662.86,759.9 663.08,762.81 663.3,761.03 663.52,759.41 663.74,761.48 663.96,763.09 664.18,757.75 664.4,761.45 664.62,761.98 664.84,761.96 665.06,760.48 665.28,762 665.5,763.99 665.73,762.05 665.95,761.53 666.17,763.03 666.39,761.87 666.61,763.12 666.83,762.08 667.05,758.79 667.27,760.53 667.49,764.57 667.71,764.59 667.93,762.73 668.15,762.83 668.37,761.28 668.6,762.77 668.82,761.33 669.04,762.58 669.26,761.43 669.48,762.12 669.7,763.89 669.92,765.14 670.14,768.29 670.36,762.79 670.58,767.72 670.8,762.83 671.02,764.32 671.25,765.41 671.47,763.08 671.69,764.86 671.91,762.85 672.13,760.46 672.35,765.4 672.57,762.76 672.79,766.41 673.01,767.83 673.23,768.7 673.45,766.08 673.67,765.4 673.89,767.16 674.12,765.86 674.34,765.88 674.56,764.14 674.78,765.92 675,762.64 675.22,766.53 675.44,765.68 675.66,764.3 675.88,764.51 676.1,767.7 676.32,764.57 676.54,766.12 676.76,764.65 676.99,764.24 677.21,768.18 677.43,765.44 677.65,765.84 677.87,764.69 678.09,767.2 678.31,765.15 678.53,763.06 678.75,770.2 678.97,766.78 679.19,765.55 679.41,765.35 679.63,765.24 679.86,764.38 680.08,765.3 680.3,765.43 680.52,763.74 680.74,763.85 680.96,768.66 681.18,764.1 681.4,767.61 681.62,761.36 681.84,766.08 682.06,765.9 682.28,763.95 682.51,760.4 682.73,766.33 682.95,766.46 683.17,764.63 683.39,765.52 683.61,766.4 683.83,764.6 684.05,765.97 684.27,765.25 684.49,768.16 684.71,769.3 684.93,765.13 685.15,765.79 685.38,763.15 685.6,765.58 685.82,762.96 686.04,767.82 686.26,767.75 686.48,765.44 686.7,767.87 686.92,767.81 687.14,768.72 687.36,763.99 687.58,767.21 687.8,763.85 688.02,764.83 688.25,763.2 688.47,766.81 688.69,763.5 688.91,762.25 689.13,764.66 689.35,765.34 689.57,762.88 689.79,762.35 690.01,763.89 690.23,763.43 690.45,761.24 690.67,766.61 690.9,761.96 691.12,763.38 691.34,762.3 691.56,763.1 691.78,762.76 692,764.5 692.22,767.72 692.44,763.12 692.66,763.01 692.88,764.4 693.1,762.84 693.32,764.52 693.54,763.29 693.77,762.81 693.99,762.1 694.21,762.68 694.43,761.29 694.65,762.54 694.87,763.48 695.09,765.27 695.31,761.4 695.53,761.52 695.75,766.43 695.97,762.72 696.19,762.21 696.41,761.37 696.64,762.89 696.86,761.4 697.08,758.58 697.3,763.57 697.52,759.7 697.74,761.78 697.96,762.74 698.18,761.5 698.4,761.4 698.62,763.35 698.84,760.79 699.06,761.98 699.28,761.68 699.51,763.01 699.73,759.71 699.95,762.04 700.17,760.61 700.39,764.83 700.61,761.81 700.83,764.63 701.05,759.88 701.27,759.2 701.49,760.61 701.71,761.26 701.93,759.33 702.16,763.22 702.38,762.61 702.6,757.51 702.82,762.51 703.04,762.74 703.26,763.66 703.48,762.68 703.7,761.6 703.92,762.65 704.14,763.47 704.36,762.49 704.58,762.96 704.8,763.05 705.03,760.87 705.25,759.43 705.47,764.05 705.69,763.2 705.91,761.77 706.13,762.21 706.35,763.59 706.57,763.36 706.79,761.63 707.01,763.46 707.23,759.42 707.45,765.15 707.67,760.58 707.9,762.29 708.12,764.95 708.34,761.78 708.56,762.16 708.78,762.76 709,761.29 709.22,763.94 709.44,764.5 709.66,760.75 709.88,763.05 710.1,761.98 710.32,762.21 710.55,762.66 710.77,761.75 710.99,762.9 711.21,763.29 711.43,764.66 711.65,761.84 711.87,763.52 712.09,762.2 712.31,761.94 712.53,763.31 712.75,762.82 712.97,764.62 713.19,761.98 713.42,764.73 713.64,765.5 713.86,762.39 714.08,764.18 714.3,760.51 714.52,767.26 714.74,761.91 714.96,763.83 715.18,763.56 715.4,764.48 715.62,762.05 715.84,765.15 716.06,763.73 716.29,762.45 716.51,762.57 716.73,763.73 716.95,760.96 717.17,761 717.39,763.38 717.61,763.96 717.83,763.8 718.05,767.56 718.27,763.35 718.49,764.58 718.71,763.15 718.93,764.46 719.16,762.91 719.38,762.51 719.6,762.93 719.82,765.67 720.04,763.9 720.26,764.29 720.48,761.72 720.7,765.56 720.92,763.26 721.14,764.68 721.36,762.93 721.58,762.82 721.81,763.57 722.03,761.94 722.25,766.8 722.47,768.13 722.69,764.53 722.91,762.32 723.13,762.01 723.35,765.04 723.57,764.57 723.79,761.14 724.01,767.34 724.23,763.93 724.45,765.93 724.68,762.27 724.9,761.4 725.12,765.06 725.34,766.32 725.56,765.67 725.78,763.79 726,763.13" fill="none" stroke="#ec1c24" stroke-width="1.3" stroke-linejoin="round"/>
<path d="M688.91 739.33V773.25" stroke="#ec1c24" stroke-width="1.3"/><path d="M695.09 753.72V769.14" stroke="#ec1c24" stroke-width="1.0"/><polyline points="416.9,760 417.12,757.17 417.34,759.62 417.56,758.56 417.78,761.79 418,757.94 418.22,760.32 418.45,759.88 418.67,758.71 418.89,759.48 419.11,761.19 419.33,760.31 419.55,761.36 419.77,759.98 419.99,759.88 420.21,757.92 420.43,756.45 420.65,759.95 420.87,758.76 421.09,760.15 421.32,755.94 421.54,759.64 421.76,758.64 421.98,759.08 422.2,759.22 422.42,756.37 422.64,760.69 422.86,758.68 423.08,758.9 423.3,758.15 423.52,760.7 423.74,760.64 423.97,759.67 424.19,760.79 424.41,757.48 424.63,758.48 424.85,755.8 425.07,759.37 425.29,760.09 425.51,758.79 425.73,758.04 425.95,759.14 426.17,756.16 426.39,758.48 426.61,759.17 426.84,759.47 427.06,760.27 427.28,760.55 427.5,759.75 427.72,757.68 427.94,759.58 428.16,755.84 428.38,759.41 428.6,757.6 428.82,757.58 429.04,754.56 429.26,755.68 429.48,758.22 429.71,758.59 429.93,757.37 430.15,757.07 430.37,757.52 430.59,759.12 430.81,759.09 431.03,756.93 431.25,758.25 431.47,755.09 431.69,759.18 431.91,757.04 432.13,759.5 432.35,757.75 432.58,756.09 432.8,756.95 433.02,758.85 433.24,756.39 433.46,759.86 433.68,757.7 433.9,758.38 434.12,757.75 434.34,757.72 434.56,757.15 434.78,756.97 435,756.9 435.23,756.17 435.45,757.09 435.67,756.13 435.89,758.16 436.11,757.03 436.33,755.83 436.55,753.76 436.77,755.63 436.99,753.95 437.21,758.73 437.43,756.35 437.65,756.88 437.87,757.73 438.1,755.94 438.32,757.97 438.54,756.19 438.76,756.51 438.98,756.71 439.2,758.29 439.42,755.36 439.64,759.13 439.86,755.86 440.08,758.48 440.3,757.08 440.52,759.28 440.74,754.63 440.97,759.26 441.19,753.56 441.41,755.97 441.63,755.52 441.85,756.96 442.07,758.53 442.29,758.86 442.51,756.62 442.73,757.4 442.95,756.21 443.17,757.58 443.39,756.94 443.62,757.75 443.84,755.97 444.06,757.46 444.28,755.34 444.5,755.62 444.72,756.87 444.94,755.8 445.16,752.99 445.38,756.86 445.6,757.4 445.82,758.37 446.04,757.06 446.26,757.09 446.49,756.95 446.71,755.93 446.93,753.57 447.15,755.64 447.37,757.53 447.59,756.61 447.81,757.97 448.03,755.04 448.25,755.28 448.47,757.72 448.69,755.62 448.91,758.02 449.13,754.21 449.36,758.1 449.58,756.61 449.8,755.55 450.02,755.3 450.24,756.72 450.46,754.89 450.68,755.03 450.9,754.97 451.12,755.4 451.34,753.84 451.56,755.81 451.78,753.9 452,755.52 452.23,756.41 452.45,754.93 452.67,754.95 452.89,753.05 453.11,755.81 453.33,753.62 453.55,753.08 453.77,753.25 453.99,752.59 454.21,754.41 454.43,754.63 454.65,754.25 454.88,757.37 455.1,754.39 455.32,754.97 455.54,754.33 455.76,755.91 455.98,752.84 456.2,753.74 456.42,754.28 456.64,754.75 456.86,754.4 457.08,756.59 457.3,753.18 457.52,755.35 457.75,755.41 457.97,755.66 458.19,752.69 458.41,755.24 458.63,754.92 458.85,752.33 459.07,754.48 459.29,754.26 459.51,752.82 459.73,756.18 459.95,751.98 460.17,754.32 460.39,753.87 460.62,752.12 460.84,755.29 461.06,753.01 461.28,756.04 461.5,753.82 461.72,754.95 461.94,754.39 462.16,754.94 462.38,753.8 462.6,755.05 462.82,753.92 463.04,753.74 463.26,756.58 463.49,757.2 463.71,758.05 463.93,755.4 464.15,755.34 464.37,755.05 464.59,755.76 464.81,754.66 465.03,758.34 465.25,756.93 465.47,754.99 465.69,757.42 465.91,754.34 466.14,755.2 466.36,756.7 466.58,758.21 466.8,755.34 467.02,756.11 467.24,758.04 467.46,757.17 467.68,753.73 467.9,757.69 468.12,756.82 468.34,758.24 468.56,756.84 468.78,758.15 469.01,755.71 469.23,754.84 469.45,757.25 469.67,756.74 469.89,755.33 470.11,755.07 470.33,757.14 470.55,758 470.77,755.65 470.99,755.71 471.21,754.92 471.43,754.7 471.65,756.42 471.88,754.75 472.1,754.75 472.32,753.19 472.54,756.02 472.76,756.05 472.98,756.51 473.2,754.41 473.42,756.2 473.64,753.08 473.86,753.27 474.08,751.59 474.3,750.35 474.53,749.28 474.75,747.44 474.97,749.93 475.19,750.6 475.41,751.86 475.63,754.21 475.85,754.33 476.07,755.38 476.29,755.25 476.51,754.84 476.73,755.37 476.95,756.8 477.17,758.13 477.4,755.63 477.62,755.53 477.84,755.31 478.06,756.08 478.28,755.64 478.5,757.36 478.72,758.9 478.94,758.14 479.16,757.72 479.38,756.25 479.6,758.79 479.82,757.66 480.04,759.83 480.27,757.62 480.49,759.55 480.71,756.83 480.93,757.3 481.15,759.72 481.37,758.38 481.59,762 481.81,757.94 482.03,760.7 482.25,757.73 482.47,759.59 482.69,758.57 482.91,758.76 483.14,758.16 483.36,759.24 483.58,759.17 483.8,758.55 484.02,759.09 484.24,758.75 484.46,760.81 484.68,760.13 484.9,759.12 485.12,762.15 485.34,760.44 485.56,758.73 485.79,760.97 486.01,758.73 486.23,762.17 486.45,758.16 486.67,760.8 486.89,760.26 487.11,758.49 487.33,760.98 487.55,760.71 487.77,759.95 487.99,761 488.21,758.84 488.43,758.55 488.66,761.9 488.88,759.35 489.1,760.06 489.32,760.45 489.54,758.99 489.76,760.37 489.98,757.58 490.2,759.76 490.42,760.91 490.64,759.83 490.86,759.54 491.08,760.33 491.3,759.84 491.53,757.82 491.75,759.53 491.97,761.96 492.19,759.35 492.41,758.18 492.63,762.83 492.85,760.74 493.07,762.25 493.29,761.64 493.51,760.74 493.73,762.82 493.95,757.87 494.17,757.61 494.4,759.9 494.62,760.38 494.84,758.83 495.06,763.23 495.28,758.73 495.5,762.38 495.72,759.97 495.94,760.38 496.16,759.78 496.38,760.08 496.6,759.51 496.82,761.58 497.05,761.53 497.27,759.06 497.49,759.63 497.71,761.97 497.93,761.79 498.15,760.43 498.37,761.11 498.59,760.64 498.81,761.89 499.03,759.88 499.25,763.48 499.47,760.1 499.69,761.13 499.92,761.61 500.14,761.51 500.36,760.65 500.58,762.96 500.8,761.02 501.02,761.68 501.24,763.07 501.46,759.9 501.68,761.54 501.9,763.17 502.12,762.93 502.34,761.06 502.56,762.83 502.79,761.26 503.01,762.78 503.23,762.32 503.45,762.1 503.67,762.71 503.89,760.64 504.11,762.27 504.33,763.72 504.55,762.39 504.77,762.09 504.99,761.62 505.21,761.47 505.44,762 505.66,761.11 505.88,761.58 506.1,762.56 506.32,762.87 506.54,762.43 506.76,763.77 506.98,761.13 507.2,762.81 507.42,762.88 507.64,762.46 507.86,762.34 508.08,763.8 508.31,762.96 508.53,762.86 508.75,763.14 508.97,763.48 509.19,762.86 509.41,762.87 509.63,763.78 509.85,760.89 510.07,762.9 510.29,762.17 510.51,760.28 510.73,762.19 510.95,761.61 511.18,763.93 511.4,759.99 511.62,757.99 511.84,759.95 512.06,763.35 512.28,762.7 512.5,759.57 512.72,758.66 512.94,760.8 513.16,756.7 513.38,760.48 513.6,761.27 513.82,758.95 514.05,760.58 514.27,763.91 514.49,760.67 514.71,759.01 514.93,765.52 515.15,759.01 515.37,771.88 515.59,761.82 515.81,755.67 516.03,757.32 516.25,763.48 516.47,756.88 516.7,752.05 516.92,751.83 517.14,750.93 517.36,755.2 517.58,756.47 517.8,752.21 518.02,755.12 518.24,754 518.46,755.89 518.68,749.05 518.9,770.92 519.12,749.86 519.34,756.65 519.57,748.81 519.79,729.25 520.01,757.19 520.23,754.59 520.45,781.23 520.67,744.06 520.89,745.89 521.11,744.63 521.33,755.57 521.55,752.25 521.77,743.46 521.99,748.11 522.21,746.93 522.44,737.07 522.66,748.24 522.88,737.95 523.1,745.5 523.32,743.18 523.54,745.29 523.76,750.11 523.98,744.97 524.2,742.9 524.42,732.31 524.64,741.61 524.86,745.07 525.09,741.9 525.31,743.52 525.53,745.15 525.75,742.13 525.97,736.08 526.19,732.46 526.41,736.09 526.63,742.13 526.85,728.92 527.07,729.43 527.29,738.95 527.51,728.96 527.73,736.59 527.96,731.12 528.18,734.16 528.4,735.83 528.62,731.32 528.84,732.6 529.06,724.65 529.28,730.7 529.5,737.12 529.72,728.44 529.94,723.22 530.16,737.97 530.38,724.13 530.6,726.56 530.83,731.46 531.05,719.68 531.27,723.71 531.49,717.15 531.71,715.76 531.93,724.02 532.15,724.81 532.37,720.51 532.59,720.33 532.81,709.8 533.03,712.34 533.25,715.18 533.47,708.91 533.7,721.49 533.92,726.67 534.14,708.94 534.36,711.26 534.58,714.53 534.8,719.71 535.02,706.91 535.24,712.04 535.46,711 535.68,708.98 535.9,711.86 536.12,706.2 536.35,712.91 536.57,706.54 536.79,707.04 537.01,706.2 537.23,708.65 537.45,702.19 537.67,711.31 537.89,700.72 538.11,690.5 538.33,701.68 538.55,704.71 538.77,706.48 538.99,695.79 539.22,702.62 539.44,703.86 539.66,704.33 539.88,700.53 540.1,690.03 540.32,694.23 540.54,702.77 540.76,700.2 540.98,693.95 541.2,701.68 541.42,700.61 541.64,697.95 541.86,703.58 542.09,693.48 542.31,702.96 542.53,701.7 542.75,693.97 542.97,689.49 543.19,709.16 543.41,700.05 543.63,697.19 543.85,698.22 544.07,712.56 544.29,702.13 544.51,708.11 544.73,707.89 544.96,703.74 545.18,699.25 545.4,689.68 545.62,696.96 545.84,692.17 546.06,701.81 546.28,691.09 546.5,696.31 546.72,684.28 546.94,695.55 547.16,695.24 547.38,701.74 547.61,690.65 547.83,700.01 548.05,693.38 548.27,685.21 548.49,693.82 548.71,696.42 548.93,702.9 549.15,690.93 549.37,694.08 549.59,689.38 549.81,686.62 550.03,683.28 550.25,676.86 550.48,674.67 550.7,667.27 550.92,669.02 551.14,680.47 551.36,677.61 551.58,668.17 551.8,672.62 552.02,669.51 552.24,670.74 552.46,660.36 552.68,670.37 552.9,667.46 553.12,669.23 553.35,671.05 553.57,650.5 553.79,670.65 554.01,670.03 554.23,655.92 554.45,674.08 554.67,668.58 554.89,677.36 555.11,671.66 555.33,665.82 555.55,662.11 555.77,661.27 556,677.2 556.22,664.3 556.44,673.52 556.66,668.55 556.88,668.72 557.1,665.13 557.32,667.31 557.54,669 557.76,675.92 557.98,681.87 558.2,674.48 558.42,674.47 558.64,670.82 558.87,667.68 559.09,666.17 559.31,671.6 559.53,669.97 559.75,659.06 559.97,656.8 560.19,672.93 560.41,667.2 560.63,678.63 560.85,666.5 561.07,671.43 561.29,675.9 561.51,677.94 561.74,670.84 561.96,672.72 562.18,669.71 562.4,667.44 562.62,670.27 562.84,674.85 563.06,670.35 563.28,683.53 563.5,665.57 563.72,682.27 563.94,659.09 564.16,680.8 564.38,678.98 564.61,678.19 564.83,679.78 565.05,666.94 565.27,672.28 565.49,671.65 565.71,682.64 565.93,675.75 566.15,684.56 566.37,678.28 566.59,675.49 566.81,679.57 567.03,680.03 567.26,683.44 567.48,678.63 567.7,676.61 567.92,678.41 568.14,678.97 568.36,682.98 568.58,683.94 568.8,685.85 569.02,681.09 569.24,677.72 569.46,674.98 569.68,680.26 569.9,667.41 570.13,682.32 570.35,670.5 570.57,680.34 570.79,680.68 571.01,679.31 571.23,674.51 571.45,682.75 571.67,674.45 571.89,672.97 572.11,662.48 572.33,672.11 572.55,676.55 572.77,681.03 573,670.56 573.22,661.56 573.44,681.51 573.66,673.44 573.88,670.05 574.1,665.62 574.32,667.58 574.54,662.65 574.76,675.96 574.98,680.8 575.2,670.73 575.42,673.06 575.64,678.12 575.87,675.74 576.09,661.39 576.31,679.69 576.53,678.18 576.75,677.9 576.97,663.51 577.19,665.46 577.41,667.26 577.63,678.21 577.85,672.28 578.07,667.27 578.29,672.75 578.52,672.06 578.74,664.01 578.96,666.47 579.18,667.93 579.4,672.88 579.62,668.5 579.84,672.09 580.06,678.33 580.28,675.76 580.5,676.96 580.72,680.3 580.94,677.93 581.16,678.29 581.39,662.95 581.61,679.66 581.83,666.52 582.05,655.66 582.27,679.45 582.49,663.35 582.71,673.54 582.93,661.03 583.15,670.61 583.37,663.65 583.59,662.15 583.81,668.86 584.03,680.53 584.26,668.15 584.48,659.43 584.7,678.75 584.92,666.27 585.14,672.98 585.36,660.16 585.58,671.85 585.8,678.46 586.02,689.08 586.24,664.79 586.46,675.97 586.68,666.54 586.9,664.06 587.13,683.17 587.35,678.08 587.57,674.17 587.79,674.4 588.01,667.56 588.23,668.91 588.45,672.19 588.67,666.09 588.89,661.12 589.11,664.79 589.33,670.78 589.55,671.67 589.78,659.11 590,676.84 590.22,666.87 590.44,676.36 590.66,673.2 590.88,667.09 591.1,669.41 591.32,667.57 591.54,670.38 591.76,659.46 591.98,665.43 592.2,656.19 592.42,667.98 592.65,687.81 592.87,659.45 593.09,665.7 593.31,678.54 593.53,675.3 593.75,669.79 593.97,670.98 594.19,670.54 594.41,684.98 594.63,688.62 594.85,677.33 595.07,669.94 595.29,673.45 595.52,687.16 595.74,670.16 595.96,676.6 596.18,687.28 596.4,680.07 596.62,688.13 596.84,685.1 597.06,679.29 597.28,683.79 597.5,689.28 597.72,683.29 597.94,686.77 598.17,690.24 598.39,688.98 598.61,697.14 598.83,693.07 599.05,688.11 599.27,692.2 599.49,697.54 599.71,685.84 599.93,687.61 600.15,686.3 600.37,685.7 600.59,693.74 600.81,690.04 601.04,677.17 601.26,691.55 601.48,689.61 601.7,693.04 601.92,693.42 602.14,698.73 602.36,691.16 602.58,684.42 602.8,694.66 603.02,691.06 603.24,702.63 603.46,697.15 603.68,716.01 603.91,704.01 604.13,697.75 604.35,709.56 604.57,702.35 604.79,708.21 605.01,703.65 605.23,702.5 605.45,698.36 605.67,706.19 605.89,693.81 606.11,699.67 606.33,712.31 606.55,700.41 606.78,712.46 607,692.77 607.22,700.26 607.44,697.91 607.66,709.75 607.88,710.23 608.1,707.94 608.32,709.03 608.54,705.54 608.76,706.67 608.98,709.31 609.2,700.61 609.43,708.22 609.65,720.52 609.87,712.28 610.09,708.52 610.31,697.45 610.53,711.31 610.75,707.98 610.97,709.54 611.19,702.03 611.41,706.33 611.63,721.01 611.85,708.63 612.07,713.97 612.3,718.09 612.52,713.27 612.74,716.23 612.96,710.01 613.18,709.07 613.4,722.99 613.62,706.36 613.84,711.21 614.06,711.41 614.28,705.09 614.5,716.88 614.72,714.92 614.94,719.81 615.17,714.97 615.39,713.13 615.61,719.62 615.83,721 616.05,715.39 616.27,715.88 616.49,721.83 616.71,711.18 616.93,719.07 617.15,717.1 617.37,717.25 617.59,719.14 617.81,716.95 618.04,717.73 618.26,721.6 618.48,719.72 618.7,728.35 618.92,723.28 619.14,719.38 619.36,731.03 619.58,727.25 619.8,722.73 620.02,717.98 620.24,723.94 620.46,727.98 620.69,721.11 620.91,723.95 621.13,717.57 621.35,716.78 621.57,718.69 621.79,719.05 622.01,720.59 622.23,716.57 622.45,718.29 622.67,715.89 622.89,725.74 623.11,722.85 623.33,720.91 623.56,723.5 623.78,724.64 624,725.04 624.22,720.81 624.44,721.35 624.66,724.12 624.88,720.85 625.1,721.94 625.32,723.91 625.54,724.76 625.76,720.92 625.98,723.14 626.2,724.2 626.43,724.06 626.65,727.86 626.87,726.85 627.09,724.5 627.31,726.78 627.53,726 627.75,726.03 627.97,725.72 628.19,725.71 628.41,729.13 628.63,724.95 628.85,726.4 629.08,726.73 629.3,728.27 629.52,728.58 629.74,724.49 629.96,725.86 630.18,725.1 630.4,726.56 630.62,727.21 630.84,726.8 631.06,723.28 631.28,725.22 631.5,728.42 631.72,725.75 631.95,728.77 632.17,727.4 632.39,728.12 632.61,728.26 632.83,726.79 633.05,729.05 633.27,728.23 633.49,729.75 633.71,732.18 633.93,731.55 634.15,728.83 634.37,727.56 634.59,728.53 634.82,729.16 635.04,731.3 635.26,730.3 635.48,727.34 635.7,729.38 635.92,731.79 636.14,731.23 636.36,730.55 636.58,730.38 636.8,732.27 637.02,730.62 637.24,730.21 637.46,734.32 637.69,730.1 637.91,732.61 638.13,731.41 638.35,733.35 638.57,732.18 638.79,736.84 639.01,734.4 639.23,732.31 639.45,729.24 639.67,733.27 639.89,734.02 640.11,731.96 640.34,732.65 640.56,735.63 640.78,734.51 641,732.95 641.22,733.23 641.44,732.89 641.66,736.16 641.88,736.34 642.1,734.2 642.32,735.11 642.54,735.15 642.76,738.97 642.98,735.72 643.21,732.94 643.43,736.56 643.65,736.78 643.87,735.69 644.09,736.25 644.31,738.65 644.53,738.17 644.75,737.71 644.97,738.54 645.19,736.72 645.41,735.72 645.63,735.13 645.85,738.32 646.08,740.4 646.3,739.07 646.52,739.4 646.74,738.52 646.96,740.61 647.18,738.19 647.4,739.44 647.62,740.8 647.84,740.73 648.06,741.38 648.28,741.85 648.5,739.82 648.73,744.24 648.95,742.14 649.17,743.3 649.39,740.83 649.61,742.39 649.83,741.68 650.05,739.81 650.27,741.22 650.49,742.67 650.71,745.09 650.93,744.13 651.15,745.91 651.37,743.82 651.6,744.89 651.82,743.85 652.04,741.45 652.26,746.98 652.48,746.52 652.7,746.32 652.92,744.19 653.14,744.54 653.36,744.34 653.58,746.14 653.8,742.84 654.02,744.49 654.24,750.52 654.47,748.29 654.69,748.73 654.91,744.21 655.13,748.19 655.35,745.25 655.57,749.78 655.79,750.11 656.01,751.42 656.23,750.34 656.45,748.26 656.67,750.09 656.89,750.55 657.11,750.48 657.34,750.18 657.56,749.96 657.78,748.19 658,753.41 658.22,749.73 658.44,750.63 658.66,752.44 658.88,749.29 659.1,750.77 659.32,752.45 659.54,751.73 659.76,752 659.99,753.42 660.21,752.87 660.43,755.98 660.65,755.8 660.87,750.43 661.09,752.6 661.31,752.66 661.53,756 661.75,755.28 661.97,753.48 662.19,755.13 662.41,753.31 662.63,755.2 662.86,757.37 663.08,756.29 663.3,754.69 663.52,754.6 663.74,758.66 663.96,756.12 664.18,758.59 664.4,759.95 664.62,755.2 664.84,757.67 665.06,756.78 665.28,756.99 665.5,755.62 665.73,759.54 665.95,757.64 666.17,757.37 666.39,754.84 666.61,755.02 666.83,761.87 667.05,757.7 667.27,758.04 667.49,761.14 667.71,759.05 667.93,755.12 668.15,756.91 668.37,763.21 668.6,760.12 668.82,757.74 669.04,762.24 669.26,760.48 669.48,761.83 669.7,757.33 669.92,756.85 670.14,757.9 670.36,760.74 670.58,758.02 670.8,757.39 671.02,761.66 671.25,760.23 671.47,760.55 671.69,760.7 671.91,761.96 672.13,762.63 672.35,759.54 672.57,760.34 672.79,758.62 673.01,762.16 673.23,759.47 673.45,761.94 673.67,762.36 673.89,760.53 674.12,758.7 674.34,762.21 674.56,760.64 674.78,760.8 675,763.18 675.22,761.07 675.44,760.37 675.66,763.54 675.88,765.9 676.1,761.74 676.32,760.18 676.54,765.59 676.76,762.49 676.99,759.38 677.21,765.61 677.43,759.97 677.65,763.88 677.87,762.13 678.09,764.29 678.31,763.16 678.53,763.6 678.75,763.81 678.97,762.49 679.19,764.08 679.41,765.87 679.63,765.12 679.86,763.32 680.08,761.44 680.3,764.52 680.52,765.66 680.74,763.37 680.96,762.94 681.18,760.46 681.4,764.35 681.62,762.84 681.84,765.3 682.06,764.13 682.28,763.55 682.51,765.93 682.73,766.39 682.95,761.12 683.17,764.05 683.39,765.99 683.61,764.33 683.83,765.97 684.05,763 684.27,763.19 684.49,761.76 684.71,765.07 684.93,764.93 685.15,764.79 685.38,764.65 685.6,764.03 685.82,764.16 686.04,766.73 686.26,764.33 686.48,763.2 686.7,764.18 686.92,767.4 687.14,765.25 687.36,761.66 687.58,763.97 687.8,764.64 688.02,765.07 688.25,764.59 688.47,762.32 688.69,763.81 688.91,764.76 689.13,764.98 689.35,764.06 689.57,761.6 689.79,764.52 690.01,762.95 690.23,758.04 690.45,760.71 690.67,762.61 690.9,764.01 691.12,762.19 691.34,762.5 691.56,759.18 691.78,758.6 692,758.27 692.22,763.88 692.44,758.26 692.66,760.88 692.88,759.31 693.1,761.28 693.32,758.92 693.54,761.7 693.77,758.06 693.99,759.75 694.21,762.82 694.43,759.17 694.65,760.97 694.87,762.89 695.09,756.39 695.31,757.08 695.53,761.5 695.75,760.15 695.97,759.33 696.19,760.64 696.41,762.36 696.64,756.61 696.86,759.05 697.08,759.83 697.3,757.68 697.52,758.81 697.74,759.33 697.96,757.12 698.18,759.19 698.4,760.51 698.62,758.21 698.84,762.51 699.06,760.65 699.28,758.45 699.51,757.31 699.73,758.48 699.95,756.52 700.17,758.25 700.39,757.44 700.61,759.67 700.83,758.09 701.05,759.56 701.27,756.29 701.49,757.01 701.71,757.47 701.93,758.75 702.16,758.69 702.38,761.46 702.6,759.79 702.82,760.01 703.04,758.34 703.26,755.74 703.48,758.76 703.7,758.48 703.92,758.49 704.14,760.23 704.36,758.06 704.58,758.19 704.8,756.42 705.03,759.4 705.25,758.61 705.47,760.5 705.69,759.53 705.91,757.59 706.13,757.4 706.35,758.65 706.57,753.12 706.79,760.65 707.01,759.47 707.23,760.88 707.45,757.21 707.67,759.24 707.9,757.88 708.12,759.75 708.34,763.91 708.56,760.18 708.78,760.34 709,759.57 709.22,758.35 709.44,757.05 709.66,757.79 709.88,758 710.1,761.34 710.32,761.01 710.55,756.64 710.77,762.42 710.99,760.25 711.21,761.55 711.43,758.06 711.65,757.54 711.87,757.81 712.09,758.04 712.31,759.43 712.53,759.24 712.75,757.74 712.97,759.65 713.19,763.74 713.42,758.77 713.64,762.46 713.86,758.95 714.08,762.96 714.3,759.6 714.52,758.34 714.74,763.82 714.96,759.73 715.18,757.61 715.4,764.5 715.62,766.15 715.84,761.06 716.06,761.44 716.29,760.42 716.51,763.61 716.73,757.75 716.95,762.06 717.17,759.4 717.39,760.11 717.61,759.06 717.83,760.38 718.05,764.22 718.27,760.15 718.49,760.13 718.71,761.16 718.93,760.58 719.16,760.65 719.38,760.67 719.6,761.08 719.82,763.35 720.04,759.21 720.26,761.22 720.48,761.13 720.7,762.01 720.92,758.81 721.14,760.54 721.36,759.92 721.58,760.36 721.81,761.31 722.03,762.76 722.25,763.96 722.47,765.75 722.69,761.74 722.91,762.77 723.13,760.88 723.35,760.76 723.57,762.96 723.79,762.06 724.01,759.68 724.23,763.27 724.45,763.83 724.68,760.36 724.9,760.07 725.12,762.54 725.34,764.97 725.56,763.45 725.78,760.66 726,763.38" fill="none" stroke="#111111" stroke-width="1.3" stroke-linejoin="round"/>
<path d="M689.94 771.2V782.5" stroke="#111111" stroke-width="1.0"/>
<rect x="416.9" y="635.6" width="309.1" height="164.4" fill="none" stroke="#231f20" stroke-width="0.9"/>
<path d="M416.9 800v-3.2 M416.9 635.6v3.2 M455.54 800v-3.2 M455.54 635.6v3.2 M494.17 800v-3.2 M494.17 635.6v3.2 M532.81 800v-3.2 M532.81 635.6v3.2 M571.45 800v-3.2 M571.45 635.6v3.2 M610.09 800v-3.2 M610.09 635.6v3.2 M648.73 800v-3.2 M648.73 635.6v3.2 M687.36 800v-3.2 M687.36 635.6v3.2 M726 800v-3.2 M726 635.6v3.2 M416.9 799.98h3.2 M726 799.98h-3.2 M416.9 779.42h3.2 M726 779.42h-3.2 M416.9 758.86h3.2 M726 758.86h-3.2 M416.9 738.3h3.2 M726 738.3h-3.2 M416.9 717.74h3.2 M726 717.74h-3.2 M416.9 697.18h3.2 M726 697.18h-3.2 M416.9 676.62h3.2 M726 676.62h-3.2 M416.9 656.06h3.2 M726 656.06h-3.2 M416.9 635.5h3.2 M726 635.5h-3.2 " stroke="#231f20" stroke-width="0.8" fill="none"/>
<text class="t" x="417.2" y="813" text-anchor="middle">00:00</text><text class="t" x="455.84" y="813" text-anchor="middle">03:00</text><text class="t" x="494.47" y="813" text-anchor="middle">06:00</text><text class="t" x="533.11" y="813" text-anchor="middle">09:00</text><text class="t" x="571.75" y="813" text-anchor="middle">12:00</text><text class="t" x="610.39" y="813" text-anchor="middle">15:00</text><text class="t" x="649.02" y="813" text-anchor="middle">18:00</text><text class="t" x="687.66" y="813" text-anchor="middle">21:00</text><text class="t" x="726.3" y="813" text-anchor="middle">00:00</text><text class="t" x="412.5" y="803.48" text-anchor="end">-6</text><text class="t" x="412.5" y="782.92" text-anchor="end">-4</text><text class="t" x="412.5" y="762.36" text-anchor="end">-2</text><text class="t" x="412.5" y="741.8" text-anchor="end">0</text><text class="t" x="412.5" y="721.24" text-anchor="end">2</text><text class="t" x="412.5" y="700.68" text-anchor="end">4</text><text class="t" x="412.5" y="680.12" text-anchor="end">6</text><text class="t" x="412.5" y="659.56" text-anchor="end">8</text><text class="t" x="412.5" y="639" text-anchor="end">10</text>
<text class="a" x="572" y="829.5" text-anchor="middle">Time (hours)</text>
<text class="a" transform="translate(394 718) rotate(-90)" text-anchor="middle"><tspan font-size="10px">Δ</tspan><tspan font-style="italic">T</tspan> (°C)</text>
<text class="l" fill="#231f20" x="466" y="682">White paint</text>
<path d="M519.5 688.5L534.5 699.5" stroke="#231f20" stroke-width="0.7"/><path d="M517.3 686.8l4.1 1.2-1.9 2.6z" fill="#231f20"/>
<text class="l" fill="#ec1c24" text-anchor="middle"><tspan x="674" y="679">Silica-polymer hybrid</tspan><tspan x="674" y="692">radiative cooler</tspan></text>
<path d="M606 721L643.5 699.5" stroke="#ec1c24" stroke-width="0.7"/><path d="M646 698.2l-2.6 3.4-1.6-2.8z" fill="#ec1c24"/>
<text class="l" fill="#1a6fb8" x="607.5" y="794.5">AS emitter</text>
<path d="M593.5 780L602.5 786.5" stroke="#1a6fb8" stroke-width="0.7"/><path d="M604.8 788.2l-4.1-1.2 1.9-2.6z" fill="#1a6fb8"/>
</g>
<g class="p"><text x="8.9" y="24" transform="translate(8.9 0) scale(0.82 1) translate(-8.9 0)">A</text><text x="296.2" y="24" transform="translate(296.2 0) scale(0.82 1) translate(-296.2 0)">B</text><text x="8.1" y="292.1" transform="translate(8.1 0) scale(0.82 1) translate(-8.1 0)">C</text><text x="379.2" y="292.1" transform="translate(379.2 0) scale(0.82 1) translate(-379.2 0)">D</text><text x="9.2" y="626" transform="translate(9.2 0) scale(0.82 1) translate(-9.2 0)">E</text><text x="380" y="626" transform="translate(380 0) scale(0.82 1) translate(-380 0)">F</text></g>
</svg>
</body></html>
